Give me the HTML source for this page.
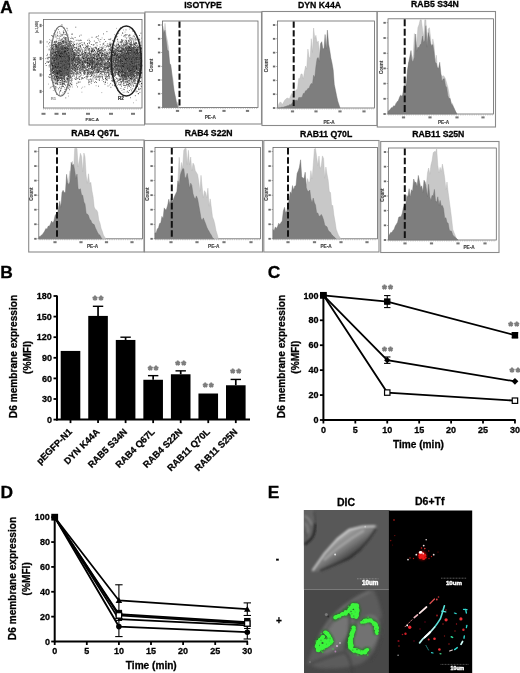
<!DOCTYPE html>
<html><head><meta charset="utf-8"><title>Figure</title>
<style>html,body{margin:0;padding:0;background:#fff;}body{width:520px;height:673px;overflow:hidden;font-family:"Liberation Sans",sans-serif;}svg{display:block;will-change:transform;}</style>
</head><body>
<svg width="520" height="673" viewBox="0 0 520 673" font-family="Liberation Sans, sans-serif">
<rect width="520" height="673" fill="#fff"/>
<defs>
<filter id="b1" x="-20%" y="-20%" width="140%" height="140%"><feGaussianBlur stdDeviation="0.7"/></filter>
<filter id="b2" x="-20%" y="-20%" width="140%" height="140%"><feGaussianBlur stdDeviation="1.5"/></filter>
<filter id="b3" x="-20%" y="-20%" width="140%" height="140%"><feGaussianBlur stdDeviation="3"/></filter>
<filter id="b05" x="-20%" y="-20%" width="140%" height="140%"><feGaussianBlur stdDeviation="0.4"/></filter>
</defs>
<text x="0.2" y="12.7" font-size="17.2" font-weight="bold" text-anchor="start" fill="#000"  stroke="#000" stroke-width="0.28">A</text>
<rect x="29" y="13" width="115.5" height="112" fill="#fff" stroke="#8a8a8a" stroke-width="1"/>
<rect x="43.5" y="19.5" width="98.5" height="88.5" fill="#fff" stroke="#666" stroke-width="0.8"/>
<path d="M56.0 78.2h.8M55.8 62.1h.8M133.0 56.5h.8M124.5 54.4h.8M132.3 56.9h.8M69.2 67.1h.8M55.7 83.2h.8M87.4 40.3h.8M130.8 40.8h.8M138.0 69.9h.8M55.7 70.6h.8M96.1 48.7h.8M134.0 76.2h.8M61.1 49.0h.8M107.5 67.4h.8M52.0 54.1h.8M137.7 61.4h.8M137.3 56.7h.8M77.3 67.2h.8M52.4 48.5h.8M58.2 64.8h.8M123.8 61.4h.8M138.3 63.9h.8M64.8 69.7h.8M133.5 56.5h.8M135.4 68.6h.8M76.3 58.1h.8M61.6 56.8h.8M139.5 77.0h.8M54.5 60.6h.8M134.9 44.2h.8M63.6 66.1h.8M127.8 64.7h.8M82.8 69.0h.8M133.1 66.3h.8M135.3 58.8h.8M113.3 52.3h.8M139.6 51.3h.8M122.1 54.4h.8M54.2 61.0h.8M54.0 61.0h.8M64.5 57.1h.8M61.9 35.1h.8M116.0 54.9h.8M123.9 71.2h.8M63.6 60.4h.8M61.4 61.2h.8M74.3 52.8h.8M56.6 63.5h.8M123.3 80.1h.8M100.7 55.7h.8M131.1 70.9h.8M125.6 47.3h.8M66.1 66.8h.8M111.5 55.2h.8M121.0 67.9h.8M136.9 53.0h.8M130.8 44.7h.8M111.2 55.0h.8M69.2 74.9h.8M62.9 53.3h.8M104.4 49.5h.8M125.2 72.7h.8M82.1 64.0h.8M118.1 70.0h.8M59.1 66.5h.8M68.4 61.5h.8M112.5 56.2h.8M116.1 78.1h.8M110.2 50.8h.8M62.3 58.9h.8M90.4 61.1h.8M69.3 56.7h.8M134.6 66.4h.8M129.4 50.3h.8M65.2 65.6h.8M126.1 50.0h.8M77.7 47.1h.8M64.1 76.8h.8M121.9 48.4h.8M60.6 67.1h.8M65.5 56.3h.8M63.9 68.6h.8M63.8 52.5h.8M69.9 66.5h.8M134.3 76.2h.8M70.4 67.9h.8M92.4 68.3h.8M126.4 69.1h.8M54.9 49.5h.8M48.8 66.9h.8M135.5 59.9h.8M114.8 46.4h.8M131.2 58.6h.8M121.7 40.1h.8M114.7 66.8h.8M135.7 77.3h.8M129.6 46.5h.8M90.9 72.9h.8M64.4 57.0h.8M71.9 59.7h.8M57.5 50.0h.8M65.8 60.3h.8M64.0 91.6h.8M57.8 64.9h.8M129.3 54.7h.8M60.5 54.5h.8M116.9 69.8h.8M135.8 58.8h.8M69.3 72.4h.8M108.2 75.6h.8M139.2 70.4h.8M132.4 71.1h.8M99.3 50.5h.8M140.3 78.1h.8M120.1 63.5h.8M98.8 60.3h.8M64.7 80.9h.8M121.5 63.8h.8M61.8 52.5h.8M58.5 64.8h.8M131.5 52.2h.8M132.5 62.9h.8M134.5 66.2h.8M65.5 50.5h.8M140.3 52.9h.8M56.3 56.5h.8M52.8 51.6h.8M124.7 56.9h.8M83.8 42.7h.8M59.2 46.0h.8M138.4 88.1h.8M123.4 61.8h.8M57.2 66.1h.8M107.4 61.9h.8M56.3 60.7h.8M127.9 76.7h.8M70.7 68.5h.8M66.9 41.0h.8M98.7 58.4h.8M75.5 64.3h.8M72.4 48.3h.8M78.5 78.6h.8M128.8 43.8h.8M121.1 60.2h.8M54.9 83.4h.8M131.4 66.8h.8M97.8 61.9h.8M125.7 72.0h.8M84.0 71.0h.8M126.0 56.0h.8M76.7 43.3h.8M98.1 50.1h.8M132.7 74.0h.8M137.0 50.2h.8M121.4 62.6h.8M129.6 57.2h.8M126.9 58.5h.8M126.3 62.4h.8M58.9 70.2h.8M76.1 55.6h.8M104.5 63.3h.8M62.7 65.6h.8M89.7 60.8h.8M56.0 66.3h.8M68.1 56.4h.8M75.9 74.4h.8M61.1 54.6h.8M106.4 79.5h.8M132.8 70.5h.8M55.0 52.9h.8M60.9 69.1h.8M59.1 75.1h.8M125.8 63.9h.8M125.4 67.4h.8M126.6 53.6h.8M55.4 67.3h.8M69.6 55.7h.8M85.9 50.9h.8M94.6 62.6h.8M138.2 53.1h.8M139.7 45.1h.8M59.8 53.7h.8M93.5 44.5h.8M125.3 45.2h.8M56.9 63.0h.8M130.5 50.4h.8M126.1 61.4h.8M116.9 54.2h.8M85.1 70.1h.8M65.7 68.6h.8M56.0 70.2h.8M58.3 62.9h.8M96.9 58.9h.8M63.7 49.6h.8M70.5 38.5h.8M121.7 49.0h.8M60.0 69.9h.8M116.2 59.7h.8M133.8 63.4h.8M71.0 59.7h.8M135.6 62.8h.8M65.5 61.0h.8M137.1 64.4h.8M136.7 50.6h.8M124.8 65.5h.8M63.1 32.7h.8M87.7 62.3h.8M54.4 58.1h.8M61.6 78.5h.8M126.7 49.3h.8M127.5 61.4h.8M73.5 54.8h.8M131.0 72.5h.8M55.5 54.0h.8M64.8 66.2h.8M136.2 53.5h.8M128.1 54.3h.8M59.4 62.5h.8M89.4 51.5h.8M62.5 64.6h.8M136.2 42.9h.8M132.5 57.0h.8M88.4 63.5h.8M134.2 59.3h.8M78.8 43.4h.8M71.9 68.5h.8M127.3 70.2h.8M62.0 69.8h.8M132.4 71.1h.8M124.1 85.4h.8M125.9 54.0h.8M138.0 73.2h.8M81.3 69.6h.8M133.9 69.3h.8M125.9 70.9h.8M89.8 62.6h.8M55.7 69.6h.8M127.0 53.3h.8M128.3 64.2h.8M120.8 63.3h.8M61.7 64.5h.8M139.2 69.6h.8M140.9 53.5h.8M51.9 65.9h.8M64.1 79.7h.8M117.9 60.7h.8M122.8 66.0h.8M58.5 72.0h.8M113.6 55.9h.8M130.3 44.1h.8M70.0 53.9h.8M136.7 60.0h.8M57.6 74.5h.8M95.1 64.9h.8M130.7 59.5h.8M127.8 55.8h.8M55.3 56.3h.8M66.3 89.4h.8M53.5 49.6h.8M79.0 65.3h.8M103.2 44.1h.8M129.3 75.8h.8M81.6 65.9h.8M71.7 58.4h.8M127.7 68.3h.8M61.5 73.0h.8M128.4 53.7h.8M132.3 76.5h.8M85.7 46.8h.8M97.0 58.0h.8M130.6 61.9h.8M60.8 48.2h.8M127.6 52.3h.8M119.2 75.6h.8M94.4 69.6h.8M137.0 53.0h.8M82.3 68.6h.8M56.5 56.1h.8M60.5 44.7h.8M124.9 64.0h.8M79.3 45.1h.8M138.4 67.3h.8M68.3 61.6h.8M77.6 64.4h.8M58.8 47.9h.8M71.2 63.4h.8M124.8 59.5h.8M52.4 64.1h.8M129.9 71.9h.8M113.5 48.3h.8M132.2 63.7h.8M74.3 57.6h.8M57.7 73.5h.8M78.8 53.6h.8M117.9 62.9h.8M65.2 61.4h.8M107.1 53.8h.8M54.8 60.3h.8M132.7 66.0h.8M69.0 89.7h.8M103.9 53.9h.8M57.3 73.3h.8M128.8 65.1h.8M128.2 48.5h.8M56.7 56.8h.8M126.4 48.0h.8M121.4 60.0h.8M67.5 59.1h.8M60.9 55.2h.8M106.9 43.9h.8M58.7 54.7h.8M130.7 57.7h.8M136.3 72.5h.8M72.2 58.9h.8M78.8 74.2h.8M120.2 81.0h.8M65.5 46.8h.8M86.2 57.4h.8M56.9 66.8h.8M134.7 54.4h.8M134.5 57.3h.8M93.9 54.6h.8M83.4 58.5h.8M96.5 57.9h.8M123.8 68.5h.8M59.9 70.3h.8M69.7 70.1h.8M131.5 60.3h.8M102.1 60.4h.8M129.9 58.6h.8M71.6 59.4h.8M60.0 44.0h.8M120.3 50.8h.8M56.0 52.2h.8M129.5 67.4h.8M66.2 54.0h.8M138.0 62.1h.8M73.5 55.0h.8M65.4 51.3h.8M118.9 60.3h.8M130.3 59.5h.8M131.4 64.0h.8M90.7 50.7h.8M109.3 65.2h.8M133.6 61.5h.8M127.8 52.1h.8M74.7 47.5h.8M54.8 51.1h.8M128.2 67.6h.8M122.8 52.0h.8M128.0 65.7h.8M131.5 76.3h.8M113.3 66.9h.8M106.9 76.5h.8M66.1 53.4h.8M105.2 54.6h.8M63.6 61.2h.8M72.3 68.4h.8M115.3 54.6h.8M121.7 72.4h.8M135.8 48.3h.8M74.8 49.6h.8M134.6 60.2h.8M96.3 76.8h.8M57.1 47.4h.8M131.5 61.5h.8M114.7 63.1h.8M49.8 61.3h.8M75.0 62.8h.8M57.8 72.8h.8M128.8 53.7h.8M127.7 51.0h.8M122.4 58.6h.8M98.2 54.4h.8M84.2 61.8h.8M56.6 58.9h.8M65.4 49.5h.8M89.8 55.8h.8M103.2 79.4h.8M102.3 55.2h.8M132.1 70.2h.8M139.1 64.3h.8M128.8 57.5h.8M80.6 60.3h.8M112.4 64.0h.8M56.0 64.1h.8M61.0 63.8h.8M122.3 81.6h.8M108.2 75.2h.8M128.6 83.6h.8M58.8 59.7h.8M72.0 49.2h.8M133.1 74.6h.8M133.3 59.2h.8M131.6 74.5h.8M52.7 82.2h.8M74.8 73.6h.8M112.6 71.2h.8M58.3 59.8h.8M82.0 66.3h.8M121.6 58.0h.8M81.8 71.5h.8M61.0 78.0h.8M75.4 62.5h.8M74.7 53.4h.8M78.6 50.3h.8M104.9 66.8h.8M139.6 64.0h.8M61.2 71.7h.8M126.8 76.2h.8M115.9 58.0h.8M62.4 45.2h.8M50.5 54.8h.8M67.2 47.2h.8M59.9 84.0h.8M80.4 75.4h.8M90.2 61.2h.8M137.3 58.8h.8M128.2 65.4h.8M130.1 52.8h.8M127.0 53.9h.8M122.3 52.5h.8M130.5 62.4h.8M59.4 42.9h.8M130.6 76.5h.8M57.2 50.6h.8M130.9 55.7h.8M73.1 75.0h.8M133.6 60.7h.8M111.9 54.7h.8M63.7 51.2h.8M56.1 79.1h.8M61.9 61.5h.8M62.3 62.3h.8M135.4 57.1h.8M126.7 44.3h.8M65.8 42.3h.8M123.0 45.0h.8M139.0 73.9h.8M86.9 66.8h.8M61.9 70.4h.8M83.5 55.8h.8M87.5 61.6h.8M127.5 54.6h.8M95.1 64.7h.8M84.7 61.6h.8M133.3 80.6h.8M76.3 62.2h.8M54.8 67.5h.8M60.2 47.7h.8M126.0 59.5h.8M93.3 54.5h.8M129.0 61.5h.8M82.4 56.1h.8M64.2 52.8h.8M58.1 70.7h.8M122.3 70.9h.8M131.1 46.8h.8M124.3 65.2h.8M87.4 76.3h.8M63.4 62.4h.8M130.8 42.4h.8M125.1 58.5h.8M109.5 51.2h.8M136.5 49.6h.8M133.8 52.6h.8M63.5 51.2h.8M74.7 64.2h.8M87.4 54.9h.8M135.0 73.0h.8M50.5 58.8h.8M133.4 63.5h.8M123.7 50.8h.8M92.2 69.5h.8M104.8 57.8h.8M57.1 59.7h.8M79.7 68.4h.8M124.9 74.0h.8M114.6 54.5h.8M115.5 59.8h.8M131.6 54.2h.8M65.9 57.4h.8M61.8 47.9h.8M57.4 76.5h.8M124.4 72.5h.8M65.9 57.1h.8M130.3 53.5h.8M107.3 53.2h.8M131.6 84.1h.8M88.7 84.6h.8M87.3 72.4h.8M99.6 63.7h.8M57.2 73.6h.8M107.9 69.6h.8M61.1 71.1h.8M63.0 73.3h.8M69.1 70.3h.8M67.2 48.3h.8M132.9 85.4h.8M66.5 55.7h.8M125.5 77.2h.8M132.6 44.9h.8M129.3 52.4h.8M56.9 59.6h.8M50.5 87.3h.8M78.5 82.3h.8M57.2 80.0h.8M129.7 58.6h.8M134.2 54.3h.8M58.3 47.6h.8M108.8 44.0h.8M63.6 56.4h.8M64.1 51.7h.8M120.5 61.5h.8M113.4 60.4h.8M79.2 57.0h.8M126.7 63.5h.8M139.8 70.9h.8M108.9 62.4h.8M141.5 65.8h.8M57.3 55.0h.8M124.5 54.5h.8M106.7 72.5h.8M115.5 70.3h.8M128.5 54.4h.8M58.7 61.6h.8M138.1 89.6h.8M63.5 81.4h.8M57.8 71.4h.8M59.4 69.7h.8M61.5 34.4h.8M127.5 63.4h.8M77.4 64.5h.8M60.8 57.4h.8M121.5 68.2h.8M64.8 50.4h.8M122.0 64.1h.8M130.6 62.8h.8M61.7 62.8h.8M58.4 63.9h.8M96.0 82.5h.8M113.1 51.3h.8M110.0 44.6h.8M72.1 57.1h.8M128.0 61.1h.8M124.5 57.6h.8M61.2 47.2h.8M131.3 48.9h.8M117.0 54.4h.8M65.0 58.8h.8M106.5 68.1h.8M109.3 59.1h.8M70.0 62.2h.8M65.0 62.5h.8M63.0 78.0h.8M128.7 61.5h.8M76.6 57.5h.8M125.1 60.2h.8M105.9 75.7h.8M102.6 66.2h.8M140.5 65.4h.8M110.5 72.2h.8M121.1 53.5h.8M86.8 62.6h.8M137.8 54.5h.8M89.2 60.2h.8M127.6 82.5h.8M68.2 61.4h.8M131.0 50.5h.8M87.7 73.1h.8M67.0 66.8h.8M140.7 57.9h.8M120.7 75.8h.8M64.5 57.0h.8M55.9 77.5h.8M75.5 66.5h.8M70.5 52.9h.8M57.1 56.0h.8M60.6 71.9h.8M133.3 79.3h.8M55.6 57.7h.8M88.1 50.1h.8M61.6 71.2h.8M61.7 61.3h.8M99.3 74.2h.8M54.3 66.9h.8M94.4 61.1h.8M124.1 70.1h.8M57.7 48.3h.8M101.0 56.3h.8M86.9 60.2h.8M124.1 63.5h.8M105.3 64.1h.8M94.1 67.4h.8M120.2 62.0h.8M69.1 49.1h.8M56.9 67.6h.8M70.8 61.3h.8M135.7 55.9h.8M70.6 78.5h.8M61.5 53.2h.8M104.3 65.0h.8M122.6 67.0h.8M129.4 56.7h.8M69.0 41.7h.8M133.8 59.3h.8M96.5 73.1h.8M128.4 36.2h.8M73.3 56.4h.8M128.5 64.2h.8M67.9 64.5h.8M66.7 65.0h.8M52.5 56.7h.8M129.0 46.7h.8M58.9 74.0h.8M130.6 71.9h.8M123.0 48.9h.8M59.3 68.9h.8M135.7 53.9h.8M121.9 71.8h.8M58.9 82.8h.8M63.1 56.5h.8M55.5 72.9h.8M63.6 55.4h.8M52.4 81.8h.8M115.7 69.1h.8M84.2 67.6h.8M69.5 56.2h.8M139.6 70.2h.8M133.1 54.4h.8M116.1 65.9h.8M137.1 66.7h.8M123.6 64.3h.8M68.3 60.8h.8M66.2 65.1h.8M121.6 40.4h.8M126.6 54.1h.8M60.4 70.9h.8M78.7 59.3h.8M65.9 66.0h.8M89.1 52.8h.8M135.5 65.0h.8M123.2 65.8h.8M136.3 58.3h.8M114.3 65.0h.8M131.6 49.9h.8M66.1 62.4h.8M64.4 70.7h.8M56.4 81.3h.8M79.0 63.1h.8M63.6 60.3h.8M47.1 54.3h.8M53.1 58.7h.8M134.1 83.5h.8M133.0 48.3h.8M65.6 39.0h.8M140.6 62.3h.8M117.4 66.1h.8M72.1 73.7h.8M77.8 59.4h.8M121.2 86.2h.8M111.2 61.7h.8M125.7 68.9h.8M60.1 54.1h.8M131.8 71.3h.8M119.6 64.7h.8M76.7 60.0h.8M120.0 47.1h.8M134.2 48.0h.8M56.2 75.3h.8M81.8 54.6h.8M91.3 59.2h.8M127.9 40.4h.8M89.3 54.2h.8M59.8 61.1h.8M129.2 71.3h.8M61.1 75.1h.8M61.5 63.8h.8M112.5 44.0h.8M133.3 57.4h.8M48.8 49.1h.8M134.2 76.3h.8M92.6 64.6h.8M72.7 61.1h.8M65.4 56.8h.8M70.4 51.2h.8M62.5 67.1h.8M81.8 52.2h.8M123.3 55.0h.8M128.1 65.3h.8M75.2 58.8h.8M75.1 70.0h.8M113.8 58.7h.8M68.1 69.4h.8M64.5 57.7h.8M60.0 50.6h.8M90.8 47.9h.8M54.0 74.5h.8M129.4 66.7h.8M70.7 63.8h.8M131.8 58.9h.8M66.7 70.0h.8M68.2 52.5h.8M58.2 52.7h.8M70.3 51.0h.8M110.5 45.7h.8M77.9 62.4h.8M50.6 53.1h.8M115.2 75.3h.8M91.7 57.3h.8M59.0 64.3h.8M118.3 66.8h.8M56.6 57.8h.8M75.1 68.3h.8M58.5 65.9h.8M122.6 69.9h.8M56.3 76.2h.8M66.0 59.5h.8M68.1 64.0h.8M130.2 62.8h.8M121.5 50.8h.8M116.2 59.1h.8M69.0 67.6h.8M113.3 68.6h.8M124.2 74.9h.8M88.0 68.9h.8M91.4 59.2h.8M56.5 55.0h.8M63.0 46.3h.8M63.5 67.5h.8M64.5 58.3h.8M61.1 66.6h.8M125.6 29.9h.8M112.7 41.2h.8M128.9 68.7h.8M71.5 58.2h.8M100.6 59.6h.8M122.0 66.0h.8M56.4 56.9h.8M60.2 71.8h.8M137.1 52.1h.8M121.4 75.6h.8M67.2 72.1h.8M100.1 63.4h.8M108.5 76.4h.8M62.9 49.0h.8M122.2 56.1h.8M108.7 71.1h.8M122.9 56.6h.8M74.7 61.5h.8M57.2 78.7h.8M79.6 65.6h.8M52.5 69.2h.8M127.7 68.9h.8M65.4 67.6h.8M64.2 73.7h.8M62.8 54.8h.8M71.7 62.6h.8M139.3 62.3h.8M126.1 49.6h.8M136.5 68.9h.8M123.2 66.8h.8M116.6 65.5h.8M65.2 39.5h.8M135.1 70.5h.8M69.9 53.8h.8M124.8 69.3h.8M56.6 54.8h.8M91.8 51.4h.8M55.7 46.0h.8M123.4 56.0h.8M66.9 63.4h.8M78.1 63.7h.8M55.9 44.5h.8M66.2 35.0h.8M137.8 62.4h.8M129.4 54.7h.8M56.5 48.9h.8M68.1 60.0h.8M66.9 60.8h.8M97.9 60.3h.8M93.9 58.5h.8M75.7 54.9h.8M87.8 45.7h.8M128.7 75.3h.8M65.7 47.5h.8M69.1 48.1h.8M134.0 71.0h.8M76.9 64.2h.8M132.8 58.6h.8M63.4 59.4h.8M137.7 55.9h.8M122.7 48.6h.8M109.1 49.5h.8M65.1 56.4h.8M69.1 49.0h.8M128.7 71.6h.8M116.9 39.6h.8M100.2 73.3h.8M54.0 52.2h.8M67.5 53.6h.8M134.4 63.5h.8M121.9 52.3h.8M129.0 57.8h.8M109.1 58.2h.8M125.9 49.4h.8M129.7 66.8h.8M59.9 52.4h.8M57.3 58.4h.8M136.5 50.0h.8M62.6 60.8h.8M116.6 68.9h.8M131.5 61.0h.8M126.6 55.4h.8M59.6 73.4h.8M99.0 80.4h.8M121.1 73.2h.8M59.2 60.0h.8M90.6 72.5h.8M135.2 53.5h.8M95.8 60.2h.8M107.4 68.1h.8M125.3 65.9h.8M51.6 63.1h.8M122.6 46.5h.8M64.3 82.2h.8M65.2 62.0h.8M56.2 49.6h.8M66.9 46.3h.8M137.9 93.5h.8M60.0 57.1h.8M80.9 59.6h.8M53.0 78.9h.8M106.1 46.8h.8M63.1 42.7h.8M65.0 56.0h.8M50.9 62.5h.8M131.1 53.0h.8M65.3 55.8h.8M53.8 54.0h.8M132.2 62.5h.8M122.4 54.9h.8M135.7 64.1h.8M109.9 65.9h.8M127.4 67.1h.8M57.2 66.8h.8M70.8 49.0h.8M67.7 80.0h.8M123.8 67.3h.8M61.9 64.2h.8M50.3 64.4h.8M126.9 72.3h.8M87.2 64.8h.8M120.3 60.5h.8M104.2 64.6h.8M134.0 63.9h.8M59.1 70.0h.8M79.4 48.8h.8M125.9 72.7h.8M63.7 59.8h.8M63.4 56.4h.8M114.3 41.7h.8M129.0 86.2h.8M65.9 65.6h.8M74.7 37.5h.8M135.6 50.4h.8M133.8 59.7h.8M120.8 61.6h.8M103.3 59.0h.8M106.7 53.4h.8M137.6 59.2h.8M129.7 59.6h.8M101.5 69.4h.8M126.7 67.5h.8M54.8 72.6h.8M59.6 48.2h.8M78.9 59.8h.8M88.1 57.9h.8M67.9 58.6h.8M129.2 69.2h.8M64.2 50.3h.8M78.1 56.1h.8M118.7 56.8h.8M133.1 62.6h.8M55.1 47.9h.8M136.4 78.2h.8M55.7 79.0h.8M87.9 73.1h.8M62.1 72.7h.8M137.2 86.5h.8M130.4 60.2h.8M48.3 43.8h.8M65.7 61.3h.8M139.2 57.2h.8M125.6 81.8h.8M120.6 82.7h.8M127.5 64.5h.8M54.7 59.4h.8M125.0 55.8h.8M123.0 61.8h.8M49.6 65.1h.8M91.7 63.5h.8M136.3 60.5h.8M93.0 70.8h.8M126.2 61.5h.8M62.5 65.2h.8M76.7 68.4h.8M63.8 64.1h.8M98.5 55.7h.8M130.7 74.3h.8M130.1 74.7h.8M127.2 73.2h.8M127.0 67.2h.8M136.0 65.7h.8M92.1 66.3h.8M128.4 41.6h.8M135.1 66.0h.8M68.7 76.9h.8M65.1 65.5h.8M76.5 73.3h.8M72.5 60.6h.8M64.9 61.0h.8M54.5 63.8h.8M110.9 64.2h.8M137.0 86.0h.8M62.1 67.2h.8M108.5 65.6h.8M130.4 42.5h.8M126.7 60.6h.8M58.3 50.9h.8M58.5 61.5h.8M126.4 54.1h.8M87.2 59.8h.8M102.7 59.7h.8M130.8 76.8h.8M65.3 60.8h.8M61.8 63.8h.8M128.5 62.7h.8M103.9 67.6h.8M109.4 63.7h.8M89.3 53.8h.8M131.5 68.7h.8M57.8 54.1h.8M135.4 61.7h.8M130.5 46.3h.8M130.8 57.3h.8M112.2 80.9h.8M119.9 62.8h.8M53.5 68.8h.8M130.3 47.1h.8M57.9 45.0h.8M67.8 52.6h.8M97.5 64.6h.8M52.6 67.0h.8M63.1 60.4h.8M121.7 62.6h.8M118.7 67.9h.8M55.5 74.1h.8M113.5 55.2h.8M96.4 60.7h.8M104.8 63.4h.8M65.5 81.8h.8M61.2 43.6h.8M61.3 68.9h.8M139.4 52.7h.8M125.8 54.2h.8M125.7 56.3h.8M66.4 51.5h.8M134.5 60.7h.8M77.6 40.2h.8M64.2 64.6h.8M97.0 69.0h.8M53.4 60.1h.8M53.4 66.3h.8M58.9 63.0h.8M134.8 66.7h.8M69.2 63.6h.8M89.2 64.7h.8M57.3 57.3h.8M130.3 60.2h.8M61.6 75.3h.8M74.2 47.6h.8M125.0 51.2h.8M125.9 43.5h.8M135.9 62.4h.8M129.4 77.1h.8M61.5 56.3h.8M105.2 82.5h.8M64.5 52.0h.8M69.6 59.7h.8M135.4 73.6h.8M110.6 54.4h.8M57.7 53.6h.8M58.9 78.5h.8M71.8 51.8h.8M76.4 54.3h.8M58.9 68.5h.8M113.9 66.4h.8M130.4 37.7h.8M83.4 66.5h.8M127.2 60.2h.8M65.4 52.2h.8M127.0 73.1h.8M62.1 67.9h.8M113.3 58.9h.8M90.8 62.3h.8M92.0 64.7h.8M90.8 81.5h.8M54.8 71.7h.8M131.6 61.5h.8M54.2 69.9h.8M130.2 48.7h.8M128.2 70.6h.8M64.9 57.4h.8M131.7 63.3h.8M128.2 67.2h.8M58.4 55.8h.8M53.4 71.3h.8M56.2 45.5h.8M57.2 80.5h.8M105.8 67.3h.8M92.7 81.0h.8M63.8 73.8h.8M118.3 33.3h.8M109.8 58.8h.8M122.2 59.8h.8M89.8 70.2h.8M114.5 72.6h.8M57.8 77.9h.8M139.2 71.1h.8M120.8 66.9h.8M117.0 59.6h.8M132.5 55.8h.8M111.0 48.0h.8M60.9 61.7h.8M121.6 64.4h.8M121.6 74.5h.8M72.0 65.3h.8M52.6 72.6h.8M57.3 66.7h.8M59.3 68.7h.8M86.1 62.3h.8M105.8 55.4h.8M77.4 51.3h.8M90.9 61.4h.8M120.2 56.0h.8M66.7 67.7h.8M101.0 55.1h.8M121.8 65.7h.8M119.0 51.3h.8M89.1 58.9h.8M135.4 58.5h.8M81.4 62.1h.8M122.1 66.1h.8M118.0 59.8h.8M49.2 74.5h.8M122.2 70.9h.8M140.6 49.2h.8M132.1 64.1h.8M135.3 54.1h.8M140.4 48.1h.8M60.3 60.7h.8M109.5 58.8h.8M64.5 48.0h.8M56.8 64.4h.8M62.2 53.6h.8M123.9 89.6h.8M125.7 77.5h.8M54.1 44.3h.8M51.4 64.4h.8M126.6 81.6h.8M75.9 44.2h.8M122.6 55.8h.8M76.2 48.4h.8M127.3 78.1h.8M103.8 68.8h.8M100.7 64.3h.8M120.9 54.8h.8M71.5 56.2h.8M110.9 66.5h.8M109.7 69.1h.8M136.8 54.5h.8M67.7 72.0h.8M93.7 63.1h.8M83.1 47.4h.8M133.2 53.6h.8M54.5 79.3h.8M86.2 64.1h.8M61.0 59.5h.8M115.3 55.2h.8M60.4 90.7h.8M134.1 61.9h.8M93.6 63.6h.8M61.3 60.9h.8M134.2 58.3h.8M78.2 48.7h.8M58.0 65.6h.8M128.6 64.3h.8M118.8 69.1h.8M62.0 69.3h.8M55.2 42.7h.8M82.2 64.5h.8M62.9 72.4h.8M87.4 74.0h.8M81.6 60.2h.8M126.8 58.8h.8M70.4 51.2h.8M120.3 54.9h.8M139.2 57.6h.8M87.3 56.8h.8M116.4 55.9h.8M51.5 46.8h.8M130.4 74.8h.8M78.0 59.3h.8M51.8 65.0h.8M132.7 81.3h.8M69.2 60.2h.8M51.0 53.3h.8M125.5 79.5h.8M109.7 64.2h.8M134.5 55.2h.8M118.5 58.1h.8M75.9 65.5h.8M122.6 71.9h.8M48.2 61.9h.8M57.5 79.8h.8M123.3 61.3h.8M84.6 72.1h.8M117.0 57.3h.8M66.1 44.6h.8M134.9 77.9h.8M63.0 41.6h.8M131.1 67.2h.8M71.0 50.9h.8M93.0 62.9h.8M131.7 60.4h.8M104.3 72.7h.8M136.7 80.8h.8M134.0 68.4h.8M134.0 66.8h.8M139.4 68.9h.8M81.3 54.1h.8M61.9 46.9h.8M55.1 88.8h.8M59.0 65.9h.8M83.0 62.7h.8M62.5 59.3h.8M105.7 67.8h.8M122.9 72.5h.8M62.0 53.4h.8M127.2 91.8h.8M46.6 55.6h.8M61.1 54.2h.8M71.3 73.2h.8M66.7 61.7h.8M121.8 66.7h.8M68.1 78.7h.8M97.3 53.5h.8M127.7 58.1h.8M140.0 62.7h.8M80.8 61.4h.8M126.1 70.6h.8M122.0 53.2h.8M66.4 69.7h.8M137.2 45.4h.8M85.3 52.7h.8M69.9 58.4h.8M118.0 70.1h.8M101.2 55.6h.8M64.5 59.3h.8M125.4 60.8h.8M131.5 68.0h.8M123.0 54.8h.8M84.4 48.2h.8M112.7 48.7h.8M90.9 83.2h.8M107.0 68.3h.8M49.6 64.7h.8M80.2 46.7h.8M124.4 70.1h.8M126.4 55.9h.8M75.8 40.3h.8M61.8 58.5h.8M67.6 61.2h.8M130.7 50.2h.8M105.3 67.6h.8M120.7 51.6h.8M62.9 58.1h.8M116.4 65.9h.8M127.5 66.2h.8M66.5 82.1h.8M129.0 64.5h.8M139.5 69.0h.8M67.8 45.2h.8M69.3 70.5h.8M107.7 60.4h.8M132.4 77.3h.8M69.2 68.3h.8M136.9 72.2h.8M115.4 56.5h.8M66.1 65.3h.8M56.1 68.1h.8M110.5 52.5h.8M120.5 66.7h.8M118.2 72.8h.8M139.4 65.9h.8M51.3 49.9h.8M100.5 65.2h.8M116.3 58.3h.8M55.8 67.4h.8M98.6 61.7h.8M54.2 86.0h.8M101.3 50.7h.8M139.3 82.7h.8M134.8 58.4h.8M73.3 73.0h.8M56.9 73.0h.8M61.8 64.6h.8M84.0 77.5h.8M63.9 71.6h.8M129.0 55.2h.8M74.7 62.2h.8M131.0 81.4h.8M126.6 58.7h.8M80.2 60.1h.8M57.2 78.8h.8M87.6 63.6h.8M57.1 67.8h.8M103.3 81.5h.8M64.2 57.3h.8M68.9 59.5h.8M84.0 55.1h.8M130.5 68.3h.8M85.2 50.2h.8M61.6 49.1h.8M101.3 64.7h.8M133.6 61.1h.8M73.4 58.3h.8M126.8 58.2h.8M60.4 49.2h.8M72.8 53.3h.8M53.0 68.9h.8M55.7 83.3h.8M67.8 49.3h.8M59.1 64.0h.8M57.8 46.2h.8M62.9 56.0h.8M133.5 51.3h.8M66.6 58.2h.8M137.0 59.7h.8M73.4 52.8h.8M122.8 46.2h.8M96.2 69.7h.8M134.4 78.9h.8M53.8 74.1h.8M95.8 67.9h.8M112.1 68.8h.8M126.4 60.3h.8M131.4 47.4h.8M121.3 58.4h.8M117.2 69.0h.8M83.8 71.0h.8M98.0 72.0h.8M61.2 57.1h.8M139.2 58.7h.8M61.9 69.9h.8M69.7 52.0h.8M110.5 87.3h.8M125.0 47.7h.8M56.1 64.2h.8M85.5 55.6h.8M54.9 65.2h.8M57.1 50.7h.8M135.2 55.2h.8M70.6 47.1h.8M55.1 59.2h.8M120.8 68.0h.8M67.4 74.6h.8M68.9 69.9h.8M61.7 52.0h.8M140.3 68.2h.8M139.8 66.4h.8M62.2 69.3h.8M81.9 64.4h.8M121.4 42.1h.8M129.0 64.7h.8M60.7 70.4h.8M104.4 57.1h.8M82.5 61.9h.8M134.7 75.3h.8M128.2 54.6h.8M85.7 62.7h.8M60.8 51.6h.8M119.5 65.0h.8M139.3 39.4h.8M132.4 73.3h.8M112.6 70.3h.8M85.1 62.0h.8M66.0 72.3h.8M121.6 49.4h.8M119.9 41.7h.8M135.2 52.5h.8M60.4 84.5h.8M105.1 78.8h.8M67.8 69.4h.8M63.5 52.6h.8M125.3 73.6h.8M60.5 69.3h.8M124.5 66.5h.8M57.2 83.0h.8M57.8 50.8h.8M138.8 57.2h.8M139.5 71.8h.8M70.9 58.3h.8M109.7 64.6h.8M116.2 36.6h.8M101.2 66.4h.8M64.6 68.6h.8M95.7 79.5h.8M132.6 53.5h.8M60.0 63.1h.8M124.4 76.5h.8M60.6 65.7h.8M61.5 74.6h.8M58.1 68.2h.8M126.0 57.7h.8M65.1 59.0h.8M94.9 66.2h.8M72.4 64.0h.8M135.0 62.0h.8M113.1 75.0h.8M67.9 61.0h.8M69.2 45.5h.8M83.1 72.3h.8M139.3 52.5h.8M136.6 44.0h.8M133.3 41.2h.8M74.0 65.1h.8M48.9 57.3h.8M116.4 82.1h.8M122.5 75.2h.8M141.0 48.4h.8M74.0 52.4h.8M64.5 65.9h.8M139.2 81.3h.8M116.8 57.7h.8M106.6 52.1h.8M57.4 78.2h.8M63.8 45.0h.8M130.3 58.6h.8M52.9 65.7h.8M63.7 51.8h.8M63.7 76.7h.8M61.1 61.0h.8M72.5 45.0h.8M121.7 59.9h.8M86.7 62.9h.8M69.7 59.7h.8M122.6 69.7h.8M51.5 58.0h.8M124.4 53.7h.8M112.2 67.8h.8M57.3 74.4h.8M73.4 43.3h.8M57.1 71.8h.8M139.0 70.4h.8M116.2 69.2h.8M63.1 65.6h.8M59.1 51.5h.8M64.8 62.3h.8M101.6 62.5h.8M67.6 60.6h.8M116.5 45.2h.8M131.5 61.1h.8M90.2 76.5h.8M76.8 69.6h.8M129.4 34.7h.8M66.4 69.9h.8M75.9 66.7h.8M122.5 76.7h.8M138.5 64.6h.8M139.0 55.6h.8M64.7 67.0h.8M60.6 88.8h.8M62.9 65.9h.8M96.4 64.5h.8M135.8 63.1h.8M115.3 60.9h.8M136.0 67.9h.8M59.0 61.8h.8M95.8 70.4h.8M60.8 62.1h.8M70.3 77.2h.8M76.9 71.8h.8M77.8 52.3h.8M140.3 81.5h.8M125.1 69.4h.8M57.8 73.3h.8M57.6 77.6h.8M122.9 89.2h.8M54.6 59.7h.8M51.1 61.6h.8M136.1 66.1h.8M66.8 63.2h.8M127.8 58.8h.8M128.2 75.9h.8M87.0 66.8h.8M50.2 63.1h.8M77.1 69.8h.8M65.5 54.3h.8M92.3 63.1h.8M65.5 42.6h.8M134.3 55.8h.8M61.7 79.6h.8M140.0 68.4h.8M125.4 73.3h.8M125.4 56.6h.8M55.1 74.0h.8M113.3 51.1h.8M62.5 57.1h.8M121.8 61.1h.8M129.7 64.3h.8M132.6 48.4h.8M131.9 62.6h.8M63.0 40.5h.8M115.5 60.8h.8M96.1 56.4h.8M108.2 67.7h.8M121.2 74.7h.8M56.4 76.4h.8M56.5 59.5h.8M134.2 60.2h.8M109.8 49.6h.8M115.2 60.1h.8M100.6 66.5h.8M109.4 64.3h.8M74.5 58.1h.8M112.8 47.5h.8M58.4 77.3h.8M60.7 52.5h.8M81.9 63.9h.8M120.5 58.7h.8M131.0 43.7h.8M75.2 60.1h.8M88.9 65.7h.8M133.9 51.9h.8M73.8 58.2h.8M57.7 44.5h.8M130.1 78.7h.8M134.1 68.8h.8M51.1 55.6h.8M52.2 65.6h.8M125.8 78.9h.8M99.3 64.7h.8M129.5 70.6h.8M57.4 50.3h.8M130.7 48.9h.8M122.7 80.1h.8M128.0 61.9h.8M97.6 62.7h.8M132.8 81.0h.8M86.3 56.7h.8M126.8 59.5h.8M72.1 47.8h.8M58.6 52.3h.8M90.7 56.8h.8M106.7 70.3h.8M45.8 65.5h.8M130.9 51.7h.8M122.0 52.0h.8M136.2 74.9h.8M58.7 54.1h.8M115.2 64.3h.8M65.7 63.4h.8M87.3 74.6h.8M134.0 54.7h.8M129.3 54.8h.8M118.5 68.3h.8M129.1 62.4h.8M125.7 47.9h.8M133.5 61.8h.8M130.5 63.0h.8M71.2 61.9h.8M70.4 45.6h.8M68.2 76.2h.8M82.9 60.5h.8M71.9 55.9h.8M55.3 60.9h.8M62.3 57.6h.8M57.2 54.8h.8M130.3 48.2h.8M125.1 34.8h.8M128.6 68.7h.8M116.4 50.7h.8M51.5 70.4h.8M106.5 55.5h.8M141.0 54.2h.8M45.1 63.5h.8M92.7 54.7h.8M64.3 67.1h.8M50.5 71.9h.8M65.2 74.0h.8M136.5 59.6h.8M136.9 50.2h.8M59.5 60.9h.8M51.8 58.1h.8M94.3 82.5h.8M60.6 55.0h.8M61.1 62.5h.8M74.0 57.0h.8M65.6 73.9h.8M61.5 71.0h.8M64.6 81.8h.8M67.3 48.5h.8M128.8 47.9h.8M126.0 46.8h.8M53.5 61.0h.8M91.9 68.9h.8M61.8 62.6h.8M55.2 53.3h.8M102.5 48.3h.8M133.9 56.6h.8M128.5 65.8h.8M133.5 57.5h.8M86.5 55.7h.8M53.1 55.7h.8M71.0 49.8h.8M137.8 65.2h.8M118.8 66.7h.8M61.1 52.1h.8M58.9 55.5h.8M68.5 85.0h.8M133.9 61.6h.8M60.9 58.1h.8M62.4 59.6h.8M58.1 61.2h.8M54.4 61.9h.8M122.3 45.5h.8M91.1 74.4h.8M133.8 56.5h.8M94.0 58.2h.8M137.2 55.3h.8M118.1 44.0h.8M125.2 56.4h.8M125.1 50.0h.8M122.2 56.7h.8M50.8 63.2h.8M129.3 56.9h.8M114.9 53.4h.8M55.6 45.9h.8M79.3 63.3h.8M131.6 49.6h.8M89.3 74.4h.8M130.0 71.7h.8M95.2 72.8h.8M62.3 84.3h.8M140.4 66.8h.8M51.9 52.8h.8M137.2 75.6h.8M78.8 65.3h.8M111.2 62.3h.8M101.0 51.9h.8M60.6 63.5h.8M131.9 79.2h.8M89.0 63.4h.8M125.8 58.7h.8M54.9 51.7h.8M119.4 69.6h.8M60.8 59.7h.8M99.7 58.5h.8M72.2 51.6h.8M76.8 72.7h.8M128.5 59.2h.8M90.0 58.1h.8M100.5 59.0h.8M137.7 52.7h.8M111.8 70.1h.8M118.1 56.7h.8M113.4 68.8h.8M55.3 46.3h.8M58.5 64.5h.8M78.5 72.0h.8M54.5 61.4h.8M48.9 77.5h.8M125.1 76.2h.8M136.1 45.8h.8M124.6 59.6h.8M99.3 57.4h.8M55.0 52.2h.8M65.9 48.6h.8M129.5 61.5h.8M126.5 74.8h.8M132.1 74.2h.8M117.8 58.4h.8M131.5 61.2h.8M120.8 68.2h.8M139.2 57.2h.8M59.0 58.9h.8M64.9 57.9h.8M64.7 40.2h.8M135.1 62.2h.8M139.4 61.4h.8M70.3 77.2h.8M114.8 62.5h.8M58.0 42.5h.8M111.4 72.0h.8M63.6 28.0h.8M63.6 65.8h.8M69.7 44.5h.8M69.1 56.0h.8M54.8 64.8h.8M125.6 56.2h.8M136.1 55.2h.8M131.8 71.2h.8M94.7 67.9h.8M62.7 63.7h.8M136.9 59.8h.8M66.0 47.8h.8M67.1 50.4h.8M140.0 55.1h.8M127.6 65.0h.8M127.6 59.0h.8M74.0 60.5h.8M62.2 70.3h.8M92.8 61.2h.8M58.1 66.3h.8M63.7 72.1h.8M64.7 51.5h.8M105.5 65.1h.8M132.9 57.8h.8M114.1 49.1h.8M56.2 65.5h.8M97.3 62.8h.8M116.5 59.4h.8M109.0 64.0h.8M84.0 67.3h.8M134.1 56.7h.8M121.3 50.3h.8M131.5 63.7h.8M77.8 82.0h.8M125.0 82.0h.8M56.5 60.9h.8M51.8 65.8h.8M97.3 56.0h.8M51.2 78.8h.8M115.9 47.2h.8M129.1 64.1h.8M55.5 69.3h.8M66.8 65.1h.8M118.3 58.6h.8M58.2 54.9h.8M135.1 75.9h.8M129.8 52.7h.8M105.0 78.4h.8M131.5 56.9h.8M67.8 48.0h.8M66.8 53.3h.8M67.0 63.7h.8M129.2 65.8h.8M114.9 74.4h.8M57.4 56.3h.8M56.1 62.0h.8M60.5 66.4h.8M98.4 49.2h.8M116.5 57.2h.8M106.5 76.6h.8M92.4 71.8h.8M53.2 72.2h.8M59.9 66.3h.8M129.5 35.5h.8M126.3 70.6h.8M125.6 67.3h.8M61.8 53.0h.8M53.9 60.3h.8M114.9 49.8h.8M59.6 54.5h.8M94.2 72.8h.8M60.7 73.9h.8M58.6 65.1h.8M130.4 56.0h.8M131.7 59.9h.8M98.8 67.5h.8M128.8 66.2h.8M57.2 70.7h.8M66.9 60.5h.8M116.8 60.5h.8M118.5 51.4h.8M60.8 50.3h.8M62.2 83.5h.8M64.9 58.7h.8M66.0 62.9h.8M108.8 52.9h.8M52.1 68.7h.8M58.9 63.9h.8M133.3 70.3h.8M111.5 71.4h.8M118.5 53.5h.8M67.7 40.2h.8M64.9 73.6h.8M81.4 65.7h.8M125.3 74.2h.8M67.7 57.2h.8M125.1 73.3h.8M91.4 75.8h.8M94.0 50.5h.8M125.8 52.4h.8M62.5 65.8h.8M87.1 77.2h.8M117.9 71.8h.8M66.9 79.1h.8M132.3 54.6h.8M56.3 82.8h.8M55.3 59.5h.8M134.0 72.9h.8M126.9 62.0h.8M59.7 60.6h.8M121.4 66.0h.8M65.8 67.4h.8M137.4 84.8h.8M85.3 53.1h.8M69.2 69.3h.8M65.3 71.0h.8M128.8 66.9h.8M90.2 73.1h.8M63.3 64.5h.8M85.1 68.0h.8M117.4 60.4h.8M47.6 57.6h.8M64.2 81.5h.8M67.1 61.9h.8M115.0 62.7h.8M84.1 62.4h.8M98.4 54.5h.8M100.2 62.2h.8M115.5 55.9h.8M132.9 61.5h.8M61.1 64.6h.8M74.3 57.7h.8M57.1 58.8h.8M71.0 47.7h.8M139.1 59.2h.8M60.8 80.1h.8M111.7 65.2h.8M116.4 78.4h.8M90.9 80.7h.8M59.2 59.2h.8M126.7 50.1h.8M59.3 60.8h.8M76.0 77.2h.8M123.5 53.7h.8M101.4 61.5h.8M102.8 54.4h.8M137.0 69.8h.8M119.9 62.4h.8M104.1 68.9h.8M126.2 55.0h.8M118.0 56.7h.8M96.7 59.4h.8M140.2 72.9h.8M99.3 78.2h.8M133.8 65.5h.8M133.6 70.0h.8M130.7 75.8h.8M67.0 74.4h.8M131.5 68.0h.8M63.3 33.9h.8M76.4 75.1h.8M136.0 74.1h.8M63.7 63.4h.8M120.5 45.2h.8M137.2 66.1h.8M78.5 61.5h.8M131.3 68.4h.8M50.8 54.0h.8M80.7 35.1h.8M127.7 48.2h.8M58.8 54.7h.8M128.2 58.3h.8M99.0 53.2h.8M65.4 67.9h.8M68.3 56.6h.8M139.5 51.8h.8M121.4 59.4h.8M78.7 61.4h.8M114.7 58.4h.8M72.6 64.4h.8M53.5 59.7h.8M51.2 53.0h.8M55.8 64.0h.8M65.9 54.1h.8M129.3 64.8h.8M105.8 58.0h.8M80.6 62.7h.8M138.6 48.7h.8M124.9 66.6h.8M77.3 64.4h.8M65.4 57.8h.8M55.9 63.5h.8M58.0 54.2h.8M108.9 53.4h.8M127.7 58.7h.8M132.2 57.7h.8M134.4 65.9h.8M133.3 72.4h.8M113.2 62.0h.8M66.4 72.8h.8M64.1 79.3h.8M137.7 57.2h.8M95.9 71.0h.8M123.7 45.1h.8M131.3 61.5h.8M102.7 55.9h.8M63.1 52.7h.8M89.5 79.4h.8M56.2 62.6h.8M54.0 65.6h.8M117.1 59.7h.8M60.3 68.1h.8M120.3 84.9h.8M131.9 60.0h.8M65.0 62.6h.8M101.8 66.5h.8M122.0 66.0h.8M70.6 43.6h.8M138.2 63.8h.8M59.6 72.6h.8M136.7 55.9h.8M57.4 57.6h.8M66.5 64.4h.8M56.1 59.6h.8M107.6 61.7h.8M63.7 76.8h.8M56.8 58.4h.8M138.4 46.1h.8M81.6 57.3h.8M69.1 57.3h.8M117.6 64.0h.8M98.7 71.5h.8M64.2 55.2h.8M78.8 60.6h.8M140.5 57.3h.8M67.4 52.1h.8M123.4 82.8h.8M82.9 63.2h.8M128.7 53.6h.8M85.5 59.1h.8M112.4 73.2h.8M63.9 64.2h.8M121.9 58.9h.8M121.2 61.8h.8M107.0 72.1h.8M57.6 65.1h.8M56.8 64.1h.8M134.9 38.2h.8M92.2 59.8h.8M79.7 72.8h.8M110.0 61.8h.8M70.1 53.8h.8M112.7 52.3h.8M56.3 73.8h.8M132.7 50.2h.8M57.1 84.2h.8M87.1 60.1h.8M121.4 60.7h.8M60.0 61.7h.8M86.8 76.1h.8M126.6 34.6h.8M128.7 66.3h.8M58.7 70.1h.8M65.0 63.2h.8M119.9 57.2h.8M111.0 57.2h.8M79.7 58.8h.8M107.6 73.1h.8M120.5 60.0h.8M73.3 58.9h.8M119.8 55.9h.8M134.2 61.2h.8M62.0 43.2h.8M61.1 54.1h.8M64.2 56.6h.8M53.9 66.8h.8M47.5 61.9h.8M89.5 57.8h.8M130.4 68.9h.8M91.7 60.3h.8M120.9 75.3h.8M68.8 43.4h.8M85.5 60.5h.8M137.6 68.3h.8M138.8 89.6h.8M63.7 56.1h.8M126.5 53.5h.8M126.0 60.4h.8M82.9 58.6h.8M94.7 65.2h.8M91.7 65.3h.8M64.7 62.9h.8M91.0 66.1h.8M62.6 70.4h.8M61.3 54.6h.8M139.2 69.1h.8M63.0 71.3h.8M120.2 62.0h.8M53.0 62.0h.8M76.1 67.0h.8M135.2 59.7h.8M93.1 57.5h.8M54.1 60.3h.8M131.4 69.9h.8M79.9 51.3h.8M125.2 47.8h.8M134.8 40.8h.8M49.1 42.4h.8M138.1 72.6h.8M84.3 62.2h.8M141.3 83.7h.8M111.7 63.3h.8M97.5 38.5h.8M122.0 63.5h.8M57.8 49.2h.8M64.6 64.3h.8M133.1 55.4h.8M66.7 66.4h.8M55.9 59.6h.8M62.1 60.3h.8M52.7 49.5h.8M63.5 47.8h.8M70.7 54.6h.8M54.8 62.7h.8M60.6 48.1h.8M65.2 63.1h.8M131.5 56.9h.8M65.2 44.8h.8M61.8 84.7h.8M120.9 58.9h.8M67.4 76.3h.8M63.8 65.0h.8M107.2 63.8h.8M72.2 63.9h.8M114.2 85.8h.8M67.5 62.6h.8M94.6 61.8h.8M118.2 75.3h.8M121.1 39.7h.8M137.4 48.8h.8M114.8 72.0h.8M125.5 57.2h.8M132.7 50.6h.8M80.8 53.9h.8M76.4 69.2h.8M131.3 63.8h.8M49.9 77.3h.8M47.3 58.6h.8M63.2 56.4h.8M100.3 73.6h.8M59.0 93.0h.8M61.4 47.6h.8M128.0 49.7h.8M128.3 62.5h.8M50.8 73.8h.8M95.3 51.7h.8M73.1 56.1h.8M109.1 44.3h.8M94.4 55.9h.8M91.6 66.9h.8M138.0 47.3h.8M52.2 48.7h.8M109.7 65.4h.8M137.7 62.2h.8M52.0 67.2h.8M114.8 59.8h.8M54.7 76.1h.8M132.5 72.4h.8M76.9 52.4h.8M63.9 56.2h.8M98.1 55.2h.8M125.8 61.0h.8M126.4 66.7h.8M92.3 74.1h.8M60.8 86.5h.8M58.6 54.4h.8M93.2 71.8h.8M60.9 47.3h.8M96.0 48.1h.8M62.2 86.4h.8M64.1 69.7h.8M65.4 57.0h.8M57.0 64.5h.8M140.1 55.5h.8M124.7 60.6h.8M60.7 65.8h.8M105.2 69.3h.8M95.9 56.2h.8M61.8 60.6h.8M129.2 69.8h.8M130.7 61.4h.8M60.8 39.2h.8M125.9 67.6h.8M109.7 59.2h.8M62.0 69.2h.8M93.0 51.8h.8M125.6 53.2h.8M53.8 55.4h.8M62.4 75.5h.8M52.8 58.4h.8M68.0 69.1h.8M72.2 62.8h.8M112.7 58.4h.8M53.6 71.8h.8M128.8 50.0h.8M131.7 58.4h.8M133.5 52.1h.8M59.8 40.8h.8M58.7 57.2h.8M67.4 66.7h.8M127.7 61.2h.8M88.4 71.9h.8M69.4 57.5h.8M55.8 54.3h.8M59.9 68.4h.8M131.2 63.2h.8M58.7 48.3h.8M55.6 58.9h.8M128.1 54.8h.8M135.9 59.0h.8M71.9 52.2h.8M95.7 37.3h.8M134.0 71.2h.8M52.3 45.4h.8M67.8 75.0h.8M68.7 60.3h.8M54.0 60.9h.8M96.7 61.6h.8M65.1 63.5h.8M68.3 59.1h.8M136.0 61.0h.8M52.5 73.2h.8M124.8 63.5h.8M132.4 64.2h.8M124.4 62.4h.8M130.7 44.5h.8M72.0 72.3h.8M72.0 55.0h.8M75.7 60.4h.8M105.0 62.8h.8M68.6 53.1h.8M136.6 71.9h.8M68.0 67.9h.8M72.2 49.9h.8M90.7 55.4h.8M97.8 70.4h.8M132.6 52.6h.8M93.8 65.4h.8M59.1 52.8h.8M77.6 59.3h.8M83.6 65.3h.8M85.5 52.7h.8M97.8 53.4h.8M70.3 48.7h.8M54.3 55.1h.8M73.3 55.5h.8M64.0 63.5h.8M68.2 49.0h.8M90.8 63.9h.8M139.3 66.1h.8M57.6 76.2h.8M58.7 72.8h.8M116.5 64.5h.8M117.6 66.5h.8M137.7 81.2h.8M88.5 48.9h.8M137.6 61.6h.8M97.0 70.1h.8M130.0 67.1h.8M58.9 56.0h.8M116.3 56.0h.8M59.8 61.3h.8M77.2 86.9h.8M118.4 50.6h.8M66.5 55.2h.8M94.8 58.1h.8M51.2 49.2h.8M62.8 56.9h.8M69.3 65.2h.8M139.2 54.9h.8M124.7 64.6h.8M78.4 61.2h.8M70.9 81.7h.8M55.1 66.0h.8M135.7 62.3h.8M126.0 65.4h.8M97.7 76.8h.8M139.0 74.5h.8M124.3 73.9h.8M57.2 58.2h.8M120.6 50.8h.8M63.0 71.3h.8M60.1 36.2h.8M118.0 60.5h.8M102.6 58.9h.8M62.5 75.2h.8M63.4 50.0h.8M98.3 56.3h.8M69.4 57.5h.8M132.4 57.0h.8M119.2 62.1h.8M139.7 66.8h.8M135.6 51.4h.8M87.7 73.3h.8M110.6 56.0h.8M63.7 57.9h.8M136.2 64.7h.8M102.7 58.7h.8M90.0 59.0h.8M54.8 67.3h.8M130.1 56.6h.8M67.2 78.6h.8M131.7 66.6h.8M78.0 69.2h.8M99.4 57.1h.8M53.4 51.1h.8M122.9 79.0h.8M89.9 64.0h.8M68.0 56.7h.8M130.0 55.3h.8M127.6 52.8h.8M56.6 61.2h.8M65.2 61.7h.8M60.5 57.7h.8M96.0 64.0h.8M127.3 62.9h.8M84.9 45.1h.8M121.6 53.8h.8M114.8 52.6h.8M121.9 61.6h.8M78.7 62.4h.8M55.3 72.1h.8M132.7 51.6h.8M123.2 83.7h.8M118.8 53.1h.8M128.8 50.2h.8M139.9 55.0h.8M92.8 66.0h.8M53.7 77.4h.8M60.9 58.2h.8M68.6 68.0h.8M94.7 56.2h.8M66.0 57.7h.8M128.7 56.9h.8M69.2 56.0h.8M123.3 71.5h.8M92.3 50.6h.8M135.0 51.0h.8M63.8 66.7h.8M106.5 77.3h.8M121.0 71.2h.8M141.4 72.8h.8M65.7 54.0h.8M125.4 52.9h.8M120.6 50.0h.8M128.3 65.7h.8M129.1 57.7h.8M107.7 59.2h.8M62.5 72.1h.8M124.8 73.8h.8M125.0 51.2h.8M52.3 58.0h.8M128.5 69.3h.8M63.5 59.2h.8M63.6 68.1h.8M59.7 58.2h.8M124.8 70.4h.8M69.9 59.6h.8M113.0 74.3h.8M52.9 61.2h.8M65.5 49.2h.8M69.5 76.4h.8M67.7 39.0h.8M139.7 57.0h.8M130.4 78.6h.8M64.8 69.6h.8M59.6 48.3h.8M57.6 56.5h.8M129.8 71.9h.8M68.1 48.4h.8M123.2 54.8h.8M57.0 67.0h.8M130.8 48.1h.8M67.5 58.6h.8M137.4 49.7h.8M133.0 46.8h.8M63.3 65.3h.8M66.9 49.9h.8M56.5 68.9h.8M62.3 46.8h.8M104.4 67.2h.8M54.9 68.8h.8M131.2 70.4h.8M61.0 60.7h.8M52.6 65.6h.8M127.3 60.7h.8M70.8 60.7h.8M68.7 62.1h.8M124.4 70.8h.8M96.6 66.2h.8M131.9 64.8h.8M63.6 73.3h.8M93.8 62.8h.8M127.2 61.3h.8M118.0 66.3h.8M132.5 48.3h.8M118.3 74.6h.8M55.0 59.8h.8M50.2 74.4h.8M108.5 57.2h.8M110.9 47.4h.8M64.4 53.0h.8M126.1 41.8h.8M137.9 49.4h.8M58.9 65.2h.8M125.2 55.4h.8M74.5 49.8h.8M128.1 57.4h.8M123.8 63.9h.8M65.9 64.0h.8M128.3 64.2h.8M126.9 61.2h.8M135.6 57.2h.8M61.2 69.2h.8M111.7 73.3h.8M81.7 56.8h.8M74.1 59.9h.8M125.9 76.7h.8M96.5 53.9h.8M64.7 55.7h.8M70.8 43.4h.8M128.6 43.3h.8M126.3 60.2h.8M80.2 46.0h.8M97.5 51.2h.8M78.6 40.8h.8M133.9 65.7h.8M95.4 58.5h.8M57.0 67.3h.8M58.6 58.1h.8M58.4 52.3h.8M131.5 38.3h.8M60.1 56.1h.8M119.3 84.8h.8M72.0 76.3h.8M112.2 52.5h.8M130.2 53.0h.8M69.9 58.4h.8M127.8 66.4h.8M132.1 74.2h.8M75.2 61.2h.8M67.3 48.0h.8M138.7 57.1h.8M96.2 59.4h.8M124.9 59.0h.8M52.9 60.7h.8M118.4 47.7h.8M127.5 65.4h.8M84.8 61.8h.8M133.1 61.4h.8M69.0 67.5h.8M64.3 58.6h.8M129.4 70.1h.8M51.5 71.4h.8M85.9 67.2h.8M58.7 68.8h.8M125.4 66.7h.8M57.1 43.7h.8M82.8 63.9h.8M96.8 77.2h.8M110.1 45.0h.8M71.2 56.9h.8M137.0 67.2h.8M68.1 52.5h.8M120.2 63.6h.8M82.5 69.8h.8M63.5 66.3h.8M56.3 54.9h.8M136.3 65.9h.8M53.5 67.6h.8M61.2 63.2h.8M65.3 63.7h.8M136.7 62.7h.8M59.8 64.3h.8M101.9 53.7h.8M114.4 81.1h.8M128.5 60.6h.8M74.4 66.2h.8M126.4 62.0h.8M55.1 66.2h.8M131.3 62.9h.8M57.8 60.9h.8M131.4 72.7h.8M125.1 59.7h.8M112.6 50.3h.8M128.3 80.7h.8M65.3 65.3h.8M117.0 47.9h.8M119.1 71.4h.8M55.6 68.4h.8M123.3 63.6h.8M130.7 67.3h.8M131.9 59.9h.8M123.6 72.1h.8M56.2 70.9h.8M133.7 52.0h.8M119.3 65.1h.8M53.1 44.6h.8M108.3 55.1h.8M120.6 51.7h.8M136.9 54.1h.8M128.6 70.7h.8M128.5 35.4h.8M56.0 54.4h.8M89.3 60.9h.8M54.6 54.9h.8M128.5 67.1h.8M55.2 57.5h.8M66.0 66.8h.8M135.9 52.3h.8M65.8 82.1h.8M66.4 73.3h.8M86.3 48.8h.8M92.5 67.7h.8M134.2 67.0h.8M53.8 72.0h.8M111.9 59.1h.8M127.0 75.5h.8M91.8 62.9h.8M81.8 67.2h.8M98.3 71.9h.8M67.6 73.1h.8M111.8 65.6h.8M120.5 81.7h.8M99.9 57.9h.8M55.8 76.5h.8M129.3 58.9h.8M108.6 60.0h.8M137.2 52.6h.8M116.4 46.8h.8M86.7 79.2h.8M63.6 54.3h.8M57.7 55.3h.8M129.0 67.1h.8M109.8 71.6h.8M68.7 76.3h.8M113.2 69.8h.8M70.7 60.1h.8M74.6 69.0h.8M136.6 73.2h.8M137.9 80.2h.8M98.1 86.2h.8M140.5 49.8h.8M65.2 68.1h.8M131.5 66.3h.8M122.9 56.6h.8M139.4 69.5h.8M52.5 62.2h.8M64.9 69.0h.8M54.3 70.3h.8M67.4 77.9h.8M99.0 69.7h.8M58.8 50.5h.8M136.5 61.4h.8M68.7 64.7h.8M69.2 55.2h.8M50.0 51.1h.8M60.2 72.7h.8M138.3 58.4h.8M113.0 52.8h.8M63.2 55.3h.8M105.3 41.5h.8M123.5 58.0h.8M57.2 72.3h.8M98.6 65.0h.8M69.5 64.6h.8M107.2 68.5h.8M74.4 57.8h.8M100.3 64.1h.8M133.8 60.1h.8M87.5 63.3h.8M63.9 55.2h.8M112.8 62.5h.8M120.3 70.5h.8M131.7 61.7h.8M82.6 56.9h.8M86.8 70.3h.8M116.8 70.3h.8M119.7 51.5h.8M54.7 84.0h.8M55.9 68.2h.8M61.4 61.3h.8M66.2 64.4h.8M61.6 69.1h.8M67.5 56.9h.8M50.3 68.4h.8M111.0 62.0h.8M93.0 68.6h.8M70.0 55.3h.8M53.2 82.8h.8M120.8 63.1h.8M116.0 52.0h.8M66.4 55.9h.8M131.5 53.6h.8M88.8 59.3h.8M68.9 54.0h.8M63.1 62.4h.8M76.5 72.6h.8M98.7 61.3h.8M62.7 70.6h.8M121.4 56.0h.8M118.9 80.2h.8M140.1 58.6h.8M131.8 72.0h.8M58.5 55.5h.8M74.4 64.7h.8M125.4 55.4h.8M91.3 75.6h.8M122.2 41.9h.8M56.7 61.2h.8M124.5 79.7h.8M93.4 55.4h.8M131.5 73.5h.8M58.4 65.1h.8M134.9 80.2h.8M84.8 57.7h.8M51.8 70.4h.8M65.8 71.0h.8M68.2 41.1h.8M122.7 60.0h.8M75.9 70.8h.8M61.8 66.2h.8M57.0 54.2h.8M60.0 75.4h.8M57.3 62.1h.8M65.8 63.7h.8M83.7 71.0h.8M61.1 71.4h.8M74.1 64.5h.8M76.4 51.0h.8M127.5 74.0h.8M130.2 70.8h.8M52.3 70.7h.8M52.2 58.0h.8M67.3 65.7h.8M136.1 50.6h.8M109.1 58.4h.8M104.4 74.6h.8M65.0 58.3h.8M83.1 58.3h.8M61.7 65.2h.8M63.2 62.9h.8M71.1 48.4h.8M118.7 72.3h.8M129.3 73.6h.8M55.7 67.5h.8M126.1 49.5h.8M84.4 52.5h.8M101.2 72.0h.8M138.8 53.2h.8M97.2 67.5h.8M114.5 40.9h.8M79.6 51.2h.8M93.3 57.5h.8M101.2 58.2h.8M128.6 63.9h.8M64.9 38.4h.8M133.2 69.5h.8M77.3 69.1h.8M123.5 65.0h.8M62.3 78.0h.8M84.7 66.6h.8M65.6 51.0h.8M90.9 62.7h.8M59.1 55.8h.8M57.1 63.5h.8M69.0 41.8h.8M69.8 56.7h.8M124.9 61.3h.8M132.4 72.9h.8M117.5 48.2h.8M53.2 52.5h.8M97.1 63.8h.8M96.0 64.5h.8M55.4 46.6h.8M79.1 79.4h.8M134.6 69.2h.8M66.4 57.2h.8M71.9 68.0h.8M67.9 46.1h.8M133.7 44.3h.8M71.8 64.1h.8M129.1 55.4h.8M135.6 67.9h.8M85.9 69.6h.8M102.0 55.5h.8M125.6 60.4h.8M70.6 83.9h.8M69.0 66.1h.8M67.0 64.1h.8M119.5 53.7h.8M133.7 63.2h.8M59.9 55.2h.8M55.8 51.7h.8M84.0 65.9h.8M125.9 67.2h.8M74.0 54.8h.8M93.9 41.1h.8M58.3 53.6h.8M56.5 76.6h.8M65.4 97.9h.8M140.1 63.7h.8M69.4 50.3h.8M127.6 59.1h.8M55.9 62.4h.8M58.9 45.3h.8M136.2 49.2h.8M90.1 60.7h.8M65.4 72.8h.8M80.6 63.6h.8M66.3 60.7h.8M122.3 73.9h.8M50.3 61.0h.8M69.4 69.1h.8M55.8 67.4h.8M104.2 73.4h.8M61.5 55.9h.8M75.8 66.6h.8M134.3 54.4h.8M62.9 60.1h.8M93.8 75.1h.8M135.4 67.4h.8M127.6 54.2h.8M60.7 45.8h.8M63.7 66.1h.8M138.3 40.0h.8M118.4 65.6h.8M124.9 73.6h.8M128.9 59.0h.8M79.9 62.8h.8M102.6 60.6h.8M54.0 58.1h.8M60.1 74.5h.8M123.3 61.4h.8M126.5 59.3h.8M133.9 79.4h.8M59.6 67.7h.8M131.9 69.3h.8M62.3 49.3h.8M120.0 65.2h.8M128.1 77.0h.8M55.3 78.3h.8M129.2 52.3h.8M96.9 70.0h.8M71.6 34.4h.8M54.8 66.1h.8M64.3 53.7h.8M89.4 49.8h.8M118.1 59.7h.8M139.1 35.5h.8M119.4 45.4h.8M77.4 63.8h.8M62.7 52.8h.8M51.4 46.2h.8M60.1 67.0h.8M116.8 63.9h.8M59.0 67.8h.8M121.8 50.2h.8M61.9 65.8h.8M131.4 49.9h.8M66.4 49.1h.8M71.5 70.6h.8M71.3 55.2h.8M61.8 78.8h.8M68.3 63.9h.8M66.3 67.5h.8M108.7 62.4h.8M73.2 51.0h.8M117.3 65.3h.8M95.6 69.2h.8M93.9 68.5h.8M115.4 50.1h.8M118.5 55.9h.8M134.0 44.3h.8M54.7 55.5h.8M92.2 65.0h.8M96.4 61.9h.8M122.9 79.2h.8M131.1 60.0h.8M60.1 69.3h.8M135.0 81.0h.8M97.3 51.5h.8M99.9 67.8h.8M130.8 75.5h.8M96.7 42.6h.8M123.5 64.2h.8M127.4 65.7h.8M65.8 66.7h.8M127.5 57.6h.8M73.1 72.9h.8M78.1 49.9h.8M63.7 57.2h.8M140.0 74.8h.8M111.7 49.8h.8M134.0 49.5h.8M75.5 65.1h.8M119.1 48.7h.8M70.8 77.4h.8M84.0 67.9h.8M124.6 65.1h.8M128.6 46.4h.8M128.6 77.7h.8M126.3 65.2h.8M129.6 52.6h.8M124.0 67.1h.8M122.6 76.2h.8M72.4 63.6h.8M107.7 58.8h.8M122.4 72.4h.8M78.2 66.3h.8M87.3 43.6h.8M130.4 61.5h.8M60.8 76.8h.8M138.1 57.0h.8M65.4 65.8h.8M130.5 55.1h.8M138.7 69.5h.8M100.4 50.2h.8M122.9 68.9h.8M62.7 45.6h.8M66.5 60.6h.8M60.5 60.4h.8M135.3 53.9h.8M128.1 46.4h.8M124.1 61.9h.8M126.6 50.4h.8M129.5 52.0h.8M71.9 69.6h.8M131.9 78.4h.8M107.4 66.4h.8M61.5 53.7h.8M132.2 68.0h.8M138.7 60.3h.8M64.4 63.9h.8M55.1 55.2h.8M128.8 66.1h.8M126.2 72.1h.8M59.0 38.1h.8M96.1 63.1h.8M120.5 79.3h.8M67.3 78.9h.8M136.3 76.4h.8M127.5 55.2h.8M70.3 86.8h.8M109.2 70.2h.8M140.8 60.0h.8M109.8 67.1h.8M123.7 59.5h.8M134.1 50.6h.8M128.4 64.6h.8M128.0 84.9h.8M122.0 61.4h.8M58.5 54.0h.8M58.4 54.5h.8M138.4 81.9h.8M130.9 48.1h.8M118.2 44.5h.8M87.4 53.3h.8M58.7 44.5h.8M99.3 58.2h.8M62.9 72.3h.8M57.0 53.3h.8M55.6 53.5h.8M65.2 62.9h.8M87.3 67.5h.8M58.0 59.2h.8M56.6 56.9h.8M64.7 65.8h.8M62.4 74.9h.8M120.6 69.3h.8M121.2 52.5h.8M125.0 56.1h.8M59.8 70.9h.8M122.9 81.7h.8M57.3 52.7h.8M58.2 46.0h.8M118.4 64.1h.8M60.4 62.3h.8M59.5 52.9h.8M130.7 55.7h.8M132.0 44.9h.8M59.4 78.3h.8M111.7 44.2h.8M94.5 47.4h.8M114.6 82.9h.8M65.7 56.4h.8M91.6 60.7h.8M107.6 63.1h.8M122.1 52.5h.8M128.4 40.8h.8M64.6 42.3h.8M67.8 62.1h.8M124.7 60.8h.8M57.1 75.7h.8M117.4 41.2h.8M117.1 50.2h.8M99.8 60.7h.8M105.1 58.1h.8M140.9 57.5h.8M120.5 54.6h.8M127.1 59.4h.8M129.2 47.5h.8M105.9 63.0h.8M128.3 56.4h.8M133.2 47.1h.8M70.2 58.0h.8M127.6 54.1h.8M115.5 66.6h.8M54.0 61.8h.8M58.9 49.9h.8M132.8 59.1h.8M55.4 44.6h.8M126.2 63.2h.8M56.1 47.5h.8M121.2 63.3h.8M76.9 61.1h.8M125.8 71.9h.8M94.7 70.1h.8M68.0 67.9h.8M63.9 48.4h.8M130.9 64.9h.8M132.9 58.1h.8M124.0 55.6h.8M56.5 73.7h.8M89.2 52.8h.8M124.3 79.2h.8M132.7 71.8h.8M123.0 49.7h.8M58.0 46.2h.8M127.9 58.9h.8M121.2 55.7h.8M106.5 31.6h.8M130.9 66.5h.8M120.5 65.6h.8M63.0 43.5h.8M97.5 59.8h.8M120.6 68.9h.8M55.8 44.9h.8M88.8 67.9h.8M59.6 48.8h.8M108.6 64.7h.8M63.9 60.0h.8M73.9 65.5h.8M61.4 54.5h.8M133.0 48.1h.8M93.8 50.5h.8M82.6 58.6h.8M80.1 70.3h.8M92.6 58.6h.8M80.1 60.2h.8M81.3 79.1h.8M87.9 55.7h.8M132.6 75.7h.8M57.4 49.0h.8M120.4 58.9h.8M65.7 37.8h.8M108.3 56.5h.8M139.2 52.3h.8M117.7 73.4h.8M78.4 57.7h.8M128.3 76.4h.8M128.4 67.7h.8M119.2 57.7h.8M136.8 77.4h.8M60.4 77.8h.8M64.6 59.8h.8M87.3 65.1h.8M85.2 62.3h.8M59.9 63.4h.8M128.4 53.7h.8M55.8 59.5h.8M62.6 62.1h.8M122.8 65.4h.8M52.1 59.1h.8M119.7 78.8h.8M99.5 60.6h.8M129.7 83.7h.8M58.3 59.2h.8M66.4 74.2h.8M59.6 53.1h.8M123.8 72.8h.8M59.6 49.0h.8M140.8 65.6h.8M87.0 60.4h.8M117.0 57.9h.8M62.0 53.7h.8M120.8 60.1h.8M67.7 93.3h.8M85.5 68.5h.8M58.4 51.8h.8M138.0 59.0h.8M125.7 66.2h.8M133.3 76.2h.8M62.5 48.6h.8M140.4 72.1h.8M128.0 53.8h.8M130.4 73.6h.8M67.2 55.1h.8M61.9 54.2h.8M74.3 61.1h.8M60.5 65.1h.8M128.0 92.5h.8M55.1 52.6h.8M52.4 58.8h.8M132.7 40.0h.8M61.7 25.0h.8M65.1 48.6h.8M128.8 58.8h.8M60.5 74.7h.8M133.0 43.9h.8M93.5 61.2h.8M132.6 62.6h.8M129.6 52.5h.8M137.7 61.4h.8M129.9 68.2h.8M67.7 63.0h.8M133.6 69.5h.8M121.5 41.5h.8M62.3 49.4h.8M57.2 35.5h.8M116.1 66.0h.8M114.7 73.8h.8M119.9 66.1h.8M72.6 53.9h.8M71.5 45.4h.8M108.3 70.6h.8M140.2 58.5h.8M111.1 58.1h.8M137.8 65.0h.8M70.6 51.5h.8M130.2 65.0h.8M99.1 63.6h.8M85.6 74.3h.8M58.3 66.6h.8M120.3 59.7h.8M108.6 78.0h.8M55.6 64.1h.8M81.8 54.2h.8M123.5 49.2h.8M128.1 67.1h.8M69.4 62.5h.8M99.2 76.6h.8M120.0 61.9h.8M71.9 65.7h.8M79.6 69.3h.8M133.1 59.5h.8M129.8 61.9h.8M133.8 69.9h.8M78.8 76.4h.8M115.0 65.1h.8M89.2 64.4h.8M128.8 80.8h.8M69.9 67.0h.8M85.5 62.2h.8M139.2 42.4h.8M115.1 65.3h.8M128.2 60.4h.8M65.3 54.0h.8M68.6 76.9h.8M59.3 52.4h.8M139.6 63.1h.8M128.4 48.6h.8M55.0 73.4h.8M133.1 53.4h.8M102.1 78.7h.8M133.7 63.8h.8M121.1 61.5h.8M72.8 59.1h.8M59.8 67.3h.8M55.3 66.3h.8M61.7 64.9h.8M130.3 70.5h.8M135.8 57.4h.8M129.5 63.7h.8M140.9 67.0h.8M114.6 45.2h.8M53.2 54.3h.8M56.1 41.7h.8M59.2 61.0h.8M135.4 71.7h.8M52.5 72.7h.8M71.2 56.7h.8M123.4 65.4h.8M73.5 56.9h.8M76.8 63.9h.8M105.0 68.4h.8M56.3 77.3h.8M59.4 59.3h.8M55.8 63.0h.8M116.1 49.5h.8M64.4 55.5h.8M56.4 63.4h.8M59.4 56.9h.8M56.3 48.3h.8M53.3 66.4h.8M140.5 51.4h.8M124.5 53.0h.8M58.3 49.4h.8M78.8 58.4h.8M69.7 83.0h.8M70.1 73.5h.8M68.6 66.2h.8M52.8 63.7h.8M82.5 51.4h.8M107.9 46.5h.8M57.7 67.7h.8M124.9 70.9h.8M108.9 73.2h.8M58.0 61.0h.8M119.7 47.6h.8M66.2 68.3h.8M128.8 59.8h.8M67.4 69.2h.8M73.1 48.1h.8M54.9 69.8h.8M85.6 55.0h.8M91.7 51.9h.8M87.4 58.6h.8M138.7 65.0h.8M130.4 56.7h.8M132.7 67.0h.8M87.8 60.5h.8M63.3 83.4h.8M83.9 58.5h.8M81.5 77.7h.8M59.2 71.4h.8M140.3 71.4h.8M110.8 65.6h.8M58.9 71.0h.8M96.7 45.8h.8M120.5 55.9h.8M140.8 73.3h.8M50.8 57.5h.8M124.7 57.6h.8M123.7 66.3h.8M139.8 52.8h.8M60.1 60.0h.8M81.8 44.6h.8M51.4 44.6h.8M71.4 71.5h.8M57.9 57.9h.8M93.5 73.4h.8M127.5 69.5h.8M53.6 52.5h.8M61.2 74.2h.8M60.7 55.1h.8M55.1 79.4h.8M58.1 71.1h.8M113.6 54.9h.8M64.0 84.1h.8M125.4 77.8h.8M57.6 41.9h.8M86.6 58.1h.8M75.0 66.3h.8M62.6 68.3h.8M57.9 49.7h.8M70.1 69.8h.8M127.1 66.7h.8M78.5 49.0h.8M132.3 73.0h.8M140.9 68.8h.8M62.1 67.5h.8M65.3 60.3h.8M66.0 69.5h.8M114.4 67.5h.8M99.5 41.8h.8M55.1 86.9h.8M121.1 68.6h.8M53.2 66.3h.8M65.9 59.4h.8M58.2 67.6h.8M65.7 55.5h.8M130.8 70.8h.8M87.2 43.9h.8M70.8 52.7h.8M68.9 62.8h.8M52.2 67.2h.8M66.4 72.2h.8M126.6 75.1h.8M138.4 64.5h.8M128.9 68.0h.8M82.3 67.0h.8M118.1 61.3h.8M57.6 52.4h.8M91.7 67.3h.8M69.4 45.1h.8M113.5 64.1h.8M66.3 43.8h.8M140.7 66.4h.8M130.5 59.4h.8M124.8 56.9h.8M92.2 58.7h.8M124.8 37.0h.8M140.8 62.4h.8M118.8 55.7h.8M89.5 65.7h.8M91.4 59.2h.8M65.7 65.1h.8M139.5 92.4h.8M63.7 53.3h.8M129.1 69.0h.8M120.3 42.4h.8M83.3 57.0h.8M130.4 55.6h.8M66.2 67.3h.8M62.8 49.2h.8M128.0 50.1h.8M60.6 67.7h.8M112.9 68.8h.8M134.0 56.9h.8M116.0 72.6h.8M63.9 45.3h.8M102.0 63.2h.8M57.8 76.8h.8M97.5 66.1h.8M68.2 52.4h.8M56.8 56.0h.8M114.7 69.1h.8M56.1 70.0h.8M123.1 58.1h.8M102.5 64.6h.8M138.9 68.7h.8M61.9 63.0h.8M98.7 60.5h.8M67.7 52.3h.8M121.6 53.1h.8M57.7 67.5h.8M85.3 60.8h.8M62.0 61.7h.8M126.5 79.7h.8M136.1 66.6h.8M107.7 67.5h.8M122.9 63.8h.8M87.9 65.2h.8M107.3 64.5h.8M119.1 46.3h.8M124.8 85.8h.8M125.4 63.8h.8M123.4 56.2h.8M129.2 65.3h.8M78.2 57.2h.8M118.5 61.0h.8M90.2 68.6h.8M83.2 65.9h.8M65.2 51.0h.8M90.5 53.8h.8M124.6 68.1h.8M121.9 61.2h.8M131.8 57.2h.8M57.5 56.7h.8M57.8 51.3h.8M89.7 62.7h.8M100.8 59.2h.8M120.6 65.5h.8M67.3 65.3h.8M135.3 70.0h.8M101.4 76.2h.8M73.6 46.0h.8M129.3 63.7h.8M63.2 56.6h.8M93.2 48.2h.8M118.6 46.7h.8M79.9 67.5h.8M121.0 42.2h.8M108.3 74.0h.8M52.7 73.8h.8M101.1 68.6h.8M88.7 65.8h.8M54.8 66.3h.8M52.9 68.7h.8M96.8 64.2h.8M129.5 79.5h.8M115.4 60.8h.8M64.4 68.9h.8M98.6 55.6h.8M133.9 43.4h.8M76.1 62.7h.8M135.8 66.6h.8M134.8 71.2h.8M63.6 63.4h.8M109.7 68.7h.8M137.5 64.0h.8M121.3 44.4h.8M119.3 57.6h.8M110.4 72.1h.8M117.0 61.7h.8M127.3 64.8h.8M59.2 67.7h.8M64.4 70.0h.8M126.5 74.5h.8M125.9 64.4h.8M136.3 74.9h.8M52.6 45.9h.8M62.8 64.1h.8M98.5 54.7h.8M128.0 65.3h.8M68.1 67.6h.8M64.0 68.7h.8M96.4 71.7h.8M85.6 66.8h.8M120.8 47.9h.8M132.2 51.1h.8M82.7 55.1h.8M128.5 61.4h.8M122.9 52.5h.8M78.6 77.4h.8M59.1 51.2h.8M110.2 58.6h.8M127.6 84.7h.8M60.6 73.7h.8M52.7 63.7h.8M61.3 61.8h.8M112.1 61.4h.8M93.0 62.1h.8M136.4 57.4h.8M63.7 50.5h.8M120.5 62.3h.8M136.1 50.4h.8M129.7 73.7h.8M57.9 52.2h.8M108.0 61.5h.8M81.3 64.8h.8M125.6 43.8h.8M54.2 41.5h.8M135.5 62.1h.8M69.6 67.3h.8M132.9 64.4h.8M128.6 64.6h.8M110.4 38.9h.8M91.4 60.4h.8M91.9 63.9h.8M113.3 73.5h.8M124.7 59.3h.8M133.6 68.1h.8M101.0 63.9h.8M119.4 54.7h.8M139.8 88.8h.8M50.5 58.2h.8M61.0 70.6h.8M62.7 66.3h.8M121.7 70.0h.8M52.9 71.9h.8M105.5 59.8h.8M77.2 49.0h.8M132.7 55.8h.8M116.1 65.7h.8M125.4 73.0h.8M59.1 50.4h.8M56.3 61.7h.8M64.0 55.2h.8M52.5 65.6h.8M127.5 85.0h.8M117.3 39.2h.8M71.2 59.8h.8M103.9 70.0h.8M89.1 48.7h.8M97.4 63.5h.8M124.7 46.5h.8M110.3 83.6h.8M122.2 72.6h.8M69.9 83.6h.8M88.9 50.8h.8M134.9 64.9h.8M68.0 46.6h.8M61.3 54.7h.8M61.9 60.7h.8M68.9 44.2h.8M54.4 55.5h.8M111.2 63.0h.8M61.1 54.0h.8M120.8 71.3h.8M91.6 37.3h.8M112.0 72.4h.8M61.4 76.1h.8M91.5 69.5h.8M60.9 49.5h.8M139.3 80.5h.8M92.1 57.0h.8M58.9 65.8h.8M62.5 73.1h.8M82.7 65.0h.8M113.3 75.6h.8M140.4 64.7h.8M138.4 70.5h.8M138.4 59.5h.8M83.4 53.7h.8M139.9 75.6h.8M58.4 60.2h.8M86.9 70.7h.8M93.3 76.6h.8M97.1 69.3h.8M100.6 59.4h.8M132.5 72.7h.8M140.0 63.8h.8M91.4 67.0h.8M60.4 62.6h.8M115.1 51.5h.8M63.8 84.3h.8M69.9 45.7h.8M71.7 33.9h.8M84.1 43.3h.8M50.5 58.6h.8M119.5 69.8h.8M117.3 69.0h.8M87.6 58.6h.8M95.8 63.1h.8M129.7 71.5h.8M82.0 61.9h.8M131.2 56.0h.8M60.8 56.4h.8M137.2 68.3h.8M128.6 49.6h.8M132.7 83.9h.8M130.0 58.1h.8M134.2 66.3h.8M135.2 62.4h.8M51.7 42.4h.8M75.5 59.0h.8M125.2 56.3h.8M138.3 73.4h.8M61.8 63.7h.8M88.6 58.6h.8M136.2 62.1h.8M106.7 71.9h.8M133.6 52.1h.8M128.5 61.8h.8M120.5 72.6h.8M58.1 66.7h.8M85.7 54.1h.8M125.6 85.5h.8M56.2 62.2h.8M129.9 67.1h.8M116.0 59.0h.8M52.7 63.0h.8M134.4 52.1h.8M133.1 74.2h.8M51.6 73.7h.8M67.7 52.9h.8M55.3 51.8h.8M66.6 64.0h.8M115.4 49.6h.8M137.8 57.5h.8M122.8 66.1h.8M130.3 45.1h.8M53.7 71.4h.8M135.7 69.8h.8M127.0 61.8h.8M64.6 47.7h.8M130.1 59.7h.8M63.4 54.3h.8M131.2 59.9h.8M127.5 57.0h.8M121.0 81.4h.8M138.7 69.9h.8M69.8 44.7h.8M59.4 65.2h.8M70.9 54.3h.8M117.3 88.3h.8M88.9 62.1h.8M61.6 55.4h.8M55.4 71.9h.8M88.9 66.2h.8M68.5 63.4h.8M94.1 66.0h.8M132.7 60.4h.8M65.0 48.0h.8M71.0 63.5h.8M59.7 60.4h.8M62.6 54.3h.8M132.5 75.9h.8M134.5 67.4h.8M126.7 48.5h.8M126.4 58.2h.8M58.7 75.0h.8M121.1 56.7h.8M133.0 51.0h.8M112.1 52.5h.8M65.3 68.4h.8M127.0 82.0h.8M62.0 41.2h.8M135.1 47.7h.8M138.6 55.9h.8M59.1 73.4h.8M66.0 67.5h.8M125.0 54.6h.8M131.4 79.2h.8M141.4 65.0h.8M55.3 74.6h.8M64.3 47.4h.8M79.9 43.3h.8M99.7 50.5h.8M119.4 69.5h.8M129.1 55.5h.8M132.6 69.7h.8M62.0 81.0h.8M114.2 80.1h.8M129.5 65.2h.8M68.1 69.8h.8M84.2 73.8h.8M122.7 40.3h.8M129.0 48.9h.8M132.3 74.4h.8M60.6 56.5h.8M116.8 66.4h.8M111.6 66.5h.8M139.6 71.8h.8M72.6 51.5h.8M92.0 62.7h.8M131.0 67.4h.8M119.3 61.0h.8M132.1 82.4h.8M120.8 59.7h.8M93.2 58.1h.8M50.4 58.9h.8M55.2 56.4h.8M114.6 70.3h.8M77.0 78.6h.8M87.1 62.7h.8M63.3 55.7h.8M138.6 50.4h.8M98.1 49.1h.8M132.0 47.7h.8M125.3 61.6h.8M55.3 82.0h.8M133.4 71.7h.8M119.2 57.0h.8M126.8 56.0h.8M64.3 49.1h.8M80.7 63.1h.8M108.3 72.7h.8M122.4 66.8h.8M78.5 55.1h.8M84.0 72.7h.8M115.4 63.7h.8M131.9 62.8h.8M89.4 60.3h.8M129.8 59.4h.8M90.8 57.7h.8M65.0 55.6h.8M67.8 76.2h.8M64.4 52.5h.8M62.6 58.3h.8M52.9 50.2h.8M66.8 70.8h.8M79.8 62.8h.8M58.7 62.6h.8M104.0 59.8h.8M140.7 72.5h.8M136.6 74.0h.8M121.1 76.4h.8M127.2 68.5h.8M72.4 57.1h.8M51.8 86.4h.8M52.7 60.1h.8M121.2 61.4h.8M96.7 55.3h.8M124.8 67.0h.8M132.3 66.1h.8M74.2 64.1h.8M133.8 71.3h.8M61.0 67.0h.8M57.3 71.3h.8M117.1 69.2h.8M130.1 65.9h.8M130.1 62.3h.8M112.3 85.1h.8M58.3 80.7h.8M94.4 53.5h.8M139.3 75.9h.8M69.7 50.7h.8M99.9 53.0h.8M137.1 58.2h.8M136.8 91.4h.8M133.8 82.1h.8M106.9 68.5h.8M113.0 60.0h.8M51.8 56.9h.8M125.8 69.6h.8M67.4 70.8h.8M87.5 50.0h.8M127.9 61.8h.8M54.7 75.8h.8M83.5 67.6h.8M132.9 75.2h.8M114.6 60.1h.8M65.5 63.9h.8M50.8 55.1h.8M65.1 62.9h.8M126.4 76.1h.8M119.5 66.3h.8M101.1 73.1h.8M124.2 72.5h.8M115.8 50.2h.8M122.1 32.9h.8M65.6 37.8h.8M53.9 68.7h.8M57.4 64.6h.8M72.1 49.6h.8M117.5 78.8h.8M70.4 55.9h.8M67.1 55.2h.8M101.9 58.1h.8M66.4 58.3h.8M122.9 65.1h.8M129.2 74.6h.8M80.2 40.2h.8M125.9 61.0h.8M128.3 60.6h.8M134.9 52.0h.8M131.8 66.0h.8M61.2 67.2h.8M127.3 54.1h.8M140.3 65.7h.8M123.7 35.9h.8M54.4 58.9h.8M62.3 67.0h.8M60.0 56.5h.8M125.0 68.5h.8M126.2 54.4h.8M64.6 51.8h.8M124.5 61.1h.8M56.8 47.3h.8M135.0 53.8h.8M85.4 57.6h.8M127.6 56.5h.8M123.2 57.3h.8M99.8 44.7h.8M114.7 65.8h.8M65.5 62.9h.8M56.6 55.8h.8M129.4 57.2h.8M101.6 62.9h.8M91.3 57.8h.8M131.3 63.7h.8M62.5 59.9h.8M69.0 55.8h.8M64.9 53.7h.8M136.4 65.5h.8M136.8 59.4h.8M120.8 51.2h.8M61.2 67.0h.8M113.9 53.7h.8M59.9 66.3h.8M63.8 68.8h.8M89.0 64.8h.8M127.0 74.0h.8M84.2 52.9h.8M72.0 50.8h.8M137.6 67.7h.8M141.2 83.5h.8M61.1 69.0h.8M90.8 54.0h.8M123.6 64.1h.8M130.4 75.9h.8M132.9 63.3h.8M61.1 55.9h.8M98.3 69.0h.8M136.5 73.1h.8M70.8 73.0h.8M113.3 76.8h.8M135.3 72.2h.8M127.5 63.6h.8M132.6 49.1h.8M64.0 73.5h.8M92.7 68.9h.8M92.3 72.7h.8M128.3 67.0h.8M118.4 74.3h.8M128.7 65.4h.8M97.7 64.0h.8M65.8 65.1h.8M140.9 86.6h.8M67.6 58.9h.8M121.6 55.4h.8M69.9 49.8h.8M61.2 59.1h.8M75.5 52.2h.8M125.9 77.4h.8M54.1 76.5h.8M60.3 58.0h.8M134.4 53.4h.8M130.2 59.7h.8M125.6 68.8h.8M87.5 74.7h.8M136.1 67.0h.8M127.2 51.3h.8M122.0 77.5h.8M115.4 71.1h.8M55.3 45.7h.8M87.2 46.7h.8M73.2 57.3h.8M124.4 49.2h.8M134.6 59.7h.8M135.5 67.9h.8M47.9 62.5h.8M95.4 47.2h.8M134.7 57.2h.8M119.4 66.6h.8M52.7 58.1h.8M126.8 67.7h.8M61.0 75.4h.8M112.2 51.8h.8M135.4 58.1h.8M119.2 69.6h.8M74.2 67.3h.8M128.4 56.4h.8M75.8 78.7h.8M68.6 60.0h.8M136.4 72.7h.8M113.7 64.8h.8M58.9 62.1h.8M56.5 48.1h.8M63.5 66.9h.8M136.9 72.0h.8M76.6 59.1h.8M101.7 50.9h.8M54.5 75.0h.8M50.9 59.9h.8M70.3 40.9h.8M58.4 61.3h.8M97.0 50.9h.8M69.3 56.8h.8M115.7 65.7h.8M134.0 61.9h.8M137.6 70.6h.8M53.6 73.6h.8M136.5 57.3h.8M60.0 57.6h.8M67.4 72.9h.8M118.2 56.5h.8M60.0 77.9h.8M90.2 62.3h.8M124.6 73.6h.8M129.0 83.5h.8M65.5 70.2h.8M128.0 71.4h.8M112.8 55.4h.8M51.5 54.8h.8M69.2 60.2h.8M58.4 52.3h.8M53.8 67.1h.8M56.6 68.3h.8M66.6 61.6h.8M129.0 56.6h.8M115.9 59.6h.8M54.0 64.6h.8M110.0 48.1h.8M136.8 51.6h.8M64.4 64.4h.8M61.4 71.7h.8M122.1 66.4h.8M128.8 65.1h.8M111.2 74.4h.8M80.5 64.4h.8M120.0 70.7h.8M76.7 60.7h.8M136.4 73.6h.8M115.4 53.7h.8M52.8 58.5h.8M129.0 57.5h.8M61.7 74.2h.8M75.5 54.8h.8M57.6 67.7h.8M123.9 76.1h.8M115.2 67.7h.8M62.7 57.2h.8M84.8 63.5h.8M56.3 59.6h.8M127.1 86.9h.8M117.0 67.3h.8M120.8 55.4h.8M110.0 59.4h.8M140.3 72.9h.8M63.7 69.8h.8M92.3 61.9h.8M130.4 71.8h.8M83.8 60.4h.8M125.0 72.5h.8M137.2 81.4h.8M64.7 61.8h.8M107.9 59.9h.8M139.6 63.9h.8M124.4 66.2h.8M123.9 67.7h.8M131.1 65.7h.8M124.8 56.0h.8M61.5 59.2h.8M100.6 71.3h.8M52.2 76.8h.8M132.4 56.1h.8M138.7 62.6h.8M101.3 60.6h.8M125.8 56.4h.8M137.4 47.8h.8M53.6 42.3h.8M91.4 52.5h.8M106.4 62.9h.8M89.5 64.9h.8M57.9 59.7h.8M53.9 50.7h.8M63.7 61.8h.8M134.3 46.1h.8M125.1 71.5h.8M129.7 64.2h.8M130.2 73.7h.8M132.5 47.7h.8M67.6 63.9h.8M62.0 82.0h.8M126.3 54.8h.8M66.4 50.1h.8M131.4 51.5h.8M140.1 63.2h.8M74.8 70.2h.8M138.3 65.0h.8M107.9 68.7h.8M140.7 58.6h.8M126.5 78.6h.8M101.6 54.3h.8M59.8 80.6h.8M68.5 71.6h.8M94.1 68.1h.8M129.9 61.4h.8M141.2 77.3h.8M104.6 55.6h.8M102.6 63.9h.8M129.2 69.0h.8M74.2 67.8h.8M67.9 56.3h.8M135.2 85.9h.8M69.0 65.3h.8M124.9 63.0h.8M128.0 50.4h.8M56.7 51.9h.8M58.7 77.5h.8M62.5 49.0h.8M67.3 69.3h.8M131.9 70.2h.8M68.0 53.4h.8M123.9 59.0h.8M79.0 70.6h.8M95.4 71.7h.8M57.8 43.1h.8M115.2 61.5h.8M133.2 67.5h.8M127.7 62.9h.8M125.1 59.7h.8M136.6 65.3h.8M75.4 69.1h.8M101.5 53.2h.8M73.9 64.1h.8M120.6 63.1h.8M62.1 51.1h.8M128.2 68.4h.8M130.9 72.0h.8M73.9 44.5h.8M84.2 64.1h.8M58.3 54.8h.8M121.2 57.1h.8M134.3 66.3h.8M126.0 55.4h.8M67.2 80.0h.8M52.3 65.3h.8M130.0 97.7h.8M76.4 73.2h.8M124.7 44.8h.8M138.1 81.2h.8M56.1 55.1h.8M51.9 70.0h.8M135.1 65.9h.8M123.9 58.8h.8M102.1 76.7h.8M58.2 61.6h.8M133.7 80.9h.8M57.0 64.1h.8M55.4 49.2h.8M60.1 69.3h.8M59.7 65.6h.8M67.6 58.8h.8M78.1 49.8h.8M106.0 79.8h.8M57.1 65.2h.8M74.2 54.5h.8M106.5 66.3h.8M57.6 72.0h.8M134.2 76.8h.8M70.0 61.6h.8M82.2 54.2h.8M124.7 74.7h.8M68.2 55.6h.8M70.3 66.6h.8M54.7 67.6h.8M123.4 50.4h.8M94.7 52.6h.8M54.8 59.0h.8M130.8 51.0h.8M130.9 69.4h.8M125.5 59.6h.8M138.7 58.9h.8M89.9 73.3h.8M55.3 63.0h.8M93.9 64.1h.8M134.7 57.3h.8M127.6 66.2h.8M136.2 63.3h.8M112.5 59.0h.8M60.3 51.9h.8M122.6 57.1h.8M50.9 60.4h.8M57.5 66.8h.8M138.7 59.1h.8M122.4 56.5h.8M65.6 75.1h.8M91.4 48.5h.8M69.2 54.9h.8M115.3 57.8h.8M130.3 61.2h.8M129.7 60.3h.8M53.8 78.4h.8M68.5 53.6h.8M108.8 76.3h.8M58.4 60.3h.8M132.5 58.4h.8M137.6 79.7h.8M87.9 62.1h.8M60.2 46.5h.8M101.5 74.4h.8M126.1 73.1h.8M131.5 70.5h.8M66.4 59.3h.8M102.2 48.2h.8M129.0 66.8h.8M100.9 56.4h.8M63.2 64.4h.8M136.9 54.7h.8M124.1 76.9h.8M134.2 71.8h.8M87.6 55.4h.8M95.3 63.7h.8M67.7 84.5h.8M62.3 51.5h.8M62.5 64.6h.8M60.6 61.1h.8M60.3 48.0h.8M124.0 77.5h.8M69.0 76.5h.8M51.6 70.3h.8M130.3 71.8h.8M110.1 69.0h.8M64.4 58.5h.8M112.1 81.0h.8M122.4 33.3h.8M69.0 66.4h.8M124.2 65.9h.8M59.7 75.8h.8M136.9 67.4h.8M55.6 86.9h.8M103.5 60.9h.8M58.4 52.4h.8M59.3 42.4h.8M74.2 58.2h.8M93.7 60.7h.8M132.7 53.6h.8M119.2 71.2h.8M69.2 63.8h.8M118.0 80.6h.8M69.5 76.6h.8M133.2 55.0h.8M91.7 49.6h.8M100.1 52.8h.8M115.0 54.1h.8M66.5 56.3h.8M77.0 68.0h.8M139.7 50.7h.8M138.1 55.6h.8M120.2 66.9h.8M57.4 72.4h.8M112.6 57.5h.8M101.3 49.3h.8M68.0 72.8h.8M126.4 67.2h.8M124.1 57.6h.8M63.4 62.7h.8M137.2 53.2h.8M126.5 82.8h.8M120.3 76.6h.8M116.6 69.0h.8M127.2 47.5h.8M90.9 71.1h.8M120.5 79.2h.8M62.2 51.0h.8M136.6 75.7h.8M67.6 70.1h.8M66.7 68.2h.8M61.1 78.8h.8M53.6 66.6h.8M61.4 58.1h.8M61.9 54.5h.8M78.3 61.0h.8M61.9 54.7h.8M63.8 62.9h.8M119.1 56.5h.8M69.3 60.0h.8M63.6 53.5h.8M82.2 57.3h.8M57.5 62.8h.8M63.0 72.3h.8M71.8 68.1h.8M130.9 50.0h.8M50.1 66.7h.8M74.8 68.1h.8M63.3 51.5h.8M123.6 63.3h.8M65.2 58.5h.8M112.5 49.8h.8M125.4 40.5h.8M58.4 62.2h.8M120.2 72.5h.8M60.9 54.0h.8M119.9 84.3h.8M83.2 64.2h.8M133.1 59.5h.8M65.0 48.1h.8M131.2 63.1h.8M114.0 76.4h.8M61.4 41.9h.8M101.7 61.9h.8M97.9 76.2h.8M84.8 53.8h.8M137.4 69.9h.8M128.9 69.3h.8M62.5 86.0h.8M55.2 52.5h.8M133.4 75.2h.8M61.5 65.1h.8M140.8 47.4h.8M113.4 62.6h.8M56.0 42.2h.8M124.9 54.4h.8M106.0 69.1h.8M54.3 62.6h.8M59.1 61.1h.8M60.3 70.2h.8M92.4 61.3h.8M87.3 63.5h.8M74.6 74.3h.8M52.6 50.8h.8M50.4 68.7h.8M128.3 51.9h.8M140.3 63.1h.8M137.6 74.5h.8M52.4 75.8h.8M122.0 77.3h.8M140.4 61.0h.8M121.1 68.0h.8M57.0 66.2h.8M88.1 80.9h.8M136.7 53.9h.8M130.6 39.0h.8M127.1 56.6h.8M63.4 59.5h.8M122.1 49.7h.8M106.7 58.7h.8M94.6 65.9h.8M123.7 67.8h.8M61.5 47.5h.8M133.6 56.9h.8M91.0 67.6h.8M115.9 71.0h.8M120.1 28.0h.8M125.6 59.5h.8M126.7 56.3h.8M134.9 66.3h.8M122.8 66.8h.8M51.4 69.3h.8M68.9 45.7h.8M50.8 64.1h.8M86.8 62.6h.8M126.5 63.1h.8M53.2 56.9h.8M59.6 54.8h.8M117.5 62.9h.8M56.6 64.7h.8M121.3 65.4h.8M98.3 58.8h.8M110.7 64.6h.8M60.2 78.2h.8M56.6 58.3h.8M136.1 69.5h.8M50.7 52.2h.8M103.5 70.0h.8M130.3 84.3h.8M84.0 61.2h.8M131.4 50.5h.8M137.8 58.5h.8M117.4 68.5h.8M66.7 59.1h.8M133.3 56.7h.8M87.2 65.7h.8M100.3 53.1h.8M56.7 59.8h.8M100.7 68.1h.8M100.3 66.3h.8M65.3 85.1h.8M61.3 60.9h.8M97.9 48.8h.8M124.9 56.0h.8M89.5 61.8h.8M71.1 58.7h.8M95.9 74.8h.8M124.2 75.5h.8M120.3 54.3h.8M104.4 68.6h.8M68.2 50.3h.8M131.4 61.6h.8M56.1 58.5h.8M138.4 63.0h.8M79.0 68.6h.8M121.1 56.3h.8M111.8 66.0h.8M115.0 64.9h.8M65.2 66.4h.8M55.8 67.4h.8M126.8 46.5h.8M69.7 66.1h.8M131.1 78.3h.8M51.4 64.0h.8M102.3 53.2h.8M135.2 49.9h.8M93.1 54.4h.8M50.2 74.0h.8M122.1 75.7h.8M119.3 67.0h.8M130.6 78.5h.8M93.0 72.2h.8M126.2 38.1h.8M84.4 60.8h.8M109.3 66.7h.8M52.7 36.2h.8M82.4 61.5h.8M126.3 41.6h.8M61.2 40.0h.8M68.5 71.1h.8M88.8 48.6h.8M75.3 59.7h.8M111.2 59.2h.8M73.1 59.4h.8M126.4 58.4h.8M115.7 60.2h.8M95.2 47.9h.8M122.3 76.5h.8M102.0 61.5h.8M58.6 53.6h.8M135.4 59.6h.8M125.4 67.8h.8M140.0 55.3h.8M139.4 68.8h.8M122.4 79.7h.8M66.0 78.9h.8M73.0 74.1h.8M120.1 50.6h.8M132.9 67.4h.8M140.8 67.2h.8M102.1 65.6h.8M96.2 63.8h.8M66.7 69.5h.8M138.9 54.2h.8M89.7 46.7h.8M118.2 65.4h.8M79.9 72.3h.8M66.1 65.0h.8M74.3 56.4h.8M87.7 63.0h.8M72.0 61.3h.8M127.8 66.8h.8M61.4 74.7h.8M130.8 76.9h.8M87.1 59.8h.8M89.8 57.2h.8M121.8 57.3h.8M116.8 55.3h.8M57.6 50.9h.8M53.9 66.1h.8M124.8 56.4h.8M140.5 53.8h.8M57.5 74.0h.8M116.0 72.7h.8M59.8 56.5h.8M114.6 71.3h.8M136.2 87.4h.8M64.4 46.9h.8M87.9 58.9h.8M105.6 65.4h.8M98.5 48.5h.8M69.2 58.1h.8M63.1 74.3h.8M132.4 58.1h.8M136.1 52.5h.8M121.3 48.0h.8M103.2 62.8h.8M140.5 70.9h.8M64.2 69.0h.8M60.7 61.4h.8M106.2 63.2h.8M63.6 70.9h.8M55.9 59.3h.8M89.0 58.4h.8M136.9 52.9h.8M132.8 63.5h.8M97.3 66.0h.8M140.9 59.6h.8M103.4 63.9h.8M123.7 76.3h.8M61.6 65.4h.8M91.6 53.9h.8M127.6 55.9h.8M63.7 79.1h.8M58.8 50.6h.8M91.2 68.1h.8M107.1 57.4h.8M134.1 64.9h.8M125.5 63.8h.8M125.7 48.5h.8M96.5 36.5h.8M138.1 68.3h.8M84.4 71.2h.8M113.4 60.8h.8M63.5 78.4h.8M108.3 58.9h.8M106.7 45.8h.8M140.1 66.2h.8M113.8 45.3h.8M69.4 42.4h.8M57.5 74.2h.8M56.6 49.2h.8M53.5 52.4h.8M125.2 60.8h.8M131.9 54.6h.8M57.6 68.8h.8M119.6 63.9h.8M79.7 76.6h.8M125.2 61.4h.8M60.0 57.1h.8M99.9 63.5h.8M90.5 65.1h.8M105.8 57.3h.8M60.2 53.9h.8M51.0 64.7h.8M52.3 53.5h.8M73.5 61.7h.8M123.6 58.4h.8M83.7 70.7h.8M102.0 53.5h.8M66.5 28.3h.8M55.1 48.0h.8M131.0 74.2h.8M119.0 57.6h.8M136.5 58.9h.8M120.5 88.4h.8M122.8 77.7h.8M129.5 66.5h.8M76.7 50.1h.8M128.0 47.0h.8M123.1 67.2h.8M132.3 52.3h.8M100.5 49.4h.8M99.8 65.1h.8M129.2 58.1h.8M69.3 70.8h.8M124.4 62.5h.8M55.8 77.1h.8M68.5 58.2h.8M118.3 61.0h.8M129.1 69.4h.8M128.6 63.1h.8M94.0 66.5h.8M134.1 58.2h.8M62.7 70.5h.8M118.5 45.8h.8M131.2 58.2h.8M57.6 82.2h.8M66.9 72.3h.8M139.5 56.1h.8M73.1 62.5h.8M59.0 65.0h.8M132.5 59.2h.8M120.6 77.4h.8M58.9 71.3h.8M122.2 80.3h.8M84.2 73.3h.8M136.4 50.2h.8M62.2 74.4h.8M123.7 57.7h.8M124.2 51.0h.8M108.4 63.5h.8M95.1 43.0h.8M61.1 61.4h.8M64.1 51.7h.8M101.6 59.6h.8M74.1 56.4h.8M134.6 62.6h.8M65.5 68.0h.8M117.2 68.0h.8M66.1 66.2h.8M68.2 68.5h.8M60.8 64.2h.8M66.5 70.5h.8M109.1 46.2h.8M79.4 79.5h.8M140.1 45.6h.8M98.1 63.4h.8M93.9 59.1h.8M64.8 64.6h.8M59.0 52.9h.8M129.5 55.6h.8M138.9 60.9h.8M64.0 54.3h.8M93.6 60.7h.8M64.8 89.5h.8M61.4 67.2h.8M127.2 52.3h.8M54.0 55.8h.8M54.7 58.9h.8M114.4 63.1h.8M98.7 75.2h.8M93.8 56.8h.8M121.7 68.2h.8M58.7 57.3h.8M108.9 66.2h.8M135.0 67.2h.8M66.8 48.6h.8M62.8 62.5h.8M57.7 74.8h.8M135.0 58.4h.8M117.7 44.9h.8M84.9 70.2h.8M69.0 58.1h.8M133.6 67.9h.8M79.8 67.2h.8M56.8 58.6h.8M137.4 73.0h.8M140.5 53.5h.8M117.3 50.8h.8M111.3 62.2h.8M62.0 49.3h.8M122.7 72.0h.8M110.3 57.1h.8M126.5 66.3h.8M73.7 70.6h.8M53.7 56.7h.8M56.9 65.3h.8M52.2 68.2h.8M116.1 58.1h.8M67.9 57.3h.8M126.7 59.8h.8M136.7 59.5h.8M82.5 70.3h.8M61.2 56.9h.8M124.3 63.3h.8M69.4 85.7h.8M137.9 72.6h.8M128.5 64.5h.8M95.1 66.8h.8M139.0 49.7h.8M76.1 65.4h.8M62.8 53.7h.8M128.5 81.0h.8M96.6 53.0h.8M124.5 44.9h.8M118.7 70.4h.8M117.2 55.1h.8M118.3 65.9h.8M56.4 77.0h.8M99.4 50.4h.8M65.0 56.3h.8M55.4 90.3h.8M90.8 71.7h.8M66.6 64.9h.8M68.5 82.1h.8M52.6 58.1h.8M93.5 71.2h.8M135.5 58.5h.8M82.7 58.1h.8M119.4 69.5h.8M65.4 80.3h.8M61.1 66.1h.8M109.9 56.6h.8M56.3 57.4h.8M127.5 56.1h.8M129.3 48.7h.8M124.8 57.5h.8M62.0 54.2h.8M62.6 68.3h.8M126.6 50.9h.8M55.3 65.8h.8M136.0 83.8h.8M130.6 49.1h.8M117.0 53.1h.8M93.5 61.7h.8M129.4 63.7h.8M65.6 50.9h.8M128.8 83.4h.8M59.4 61.4h.8M57.5 59.6h.8M133.4 86.0h.8M104.1 63.1h.8M115.0 68.7h.8M113.9 57.7h.8M98.2 51.5h.8M125.2 57.6h.8M140.6 52.0h.8M58.9 68.1h.8M60.7 71.7h.8M63.7 42.0h.8M125.9 45.0h.8M127.1 69.0h.8M57.6 64.3h.8M54.1 59.4h.8M132.2 52.3h.8M125.7 59.8h.8M121.0 82.2h.8M118.9 66.4h.8M111.6 69.4h.8M61.2 77.7h.8M129.4 53.2h.8M98.4 54.6h.8M54.0 63.3h.8M56.7 63.2h.8M136.9 57.3h.8M57.0 81.5h.8M58.8 70.0h.8M123.7 70.8h.8M52.6 56.0h.8M122.7 75.7h.8M89.1 81.9h.8M102.6 75.0h.8M139.1 73.6h.8M59.4 53.8h.8M69.5 42.7h.8M140.4 61.2h.8M81.6 67.9h.8M131.4 57.1h.8M134.1 53.9h.8M64.6 60.0h.8M89.9 68.3h.8M139.8 71.3h.8M121.8 56.8h.8M56.7 64.9h.8M68.1 58.1h.8M133.0 49.7h.8M59.1 44.5h.8M111.8 62.7h.8M79.4 69.7h.8M121.2 60.4h.8M131.7 72.5h.8M110.6 44.2h.8M59.2 70.7h.8M97.8 62.0h.8M113.8 63.1h.8M112.0 55.3h.8M91.2 61.9h.8M51.6 64.3h.8M70.4 66.2h.8M60.6 59.0h.8M133.0 59.5h.8M95.0 59.9h.8M62.0 54.2h.8M86.4 57.6h.8M50.8 61.1h.8M83.3 73.3h.8M94.9 54.4h.8M70.4 41.4h.8M57.3 60.4h.8M66.6 56.9h.8M80.8 49.4h.8M124.5 87.5h.8M60.5 54.9h.8M56.3 72.2h.8M59.6 48.2h.8M122.8 70.9h.8M54.3 70.7h.8M75.9 47.9h.8M109.8 45.6h.8M97.9 72.0h.8M111.5 66.0h.8M65.7 61.8h.8M60.1 42.5h.8M57.6 68.1h.8M129.7 72.9h.8M122.4 60.0h.8M128.3 70.4h.8M60.4 68.5h.8M111.1 62.3h.8M107.7 45.8h.8M50.9 80.1h.8M116.1 57.1h.8M112.2 50.8h.8M65.5 63.9h.8M118.3 57.6h.8M79.9 55.3h.8M61.4 47.8h.8M122.9 49.9h.8M130.3 48.0h.8M135.8 59.2h.8M73.6 53.6h.8M126.4 42.4h.8M129.2 78.1h.8M117.5 72.6h.8M135.5 78.5h.8M123.9 45.7h.8M66.2 68.1h.8M120.7 46.7h.8M57.8 69.0h.8M119.5 76.7h.8M105.4 58.5h.8M127.1 55.4h.8M122.7 65.6h.8M119.5 51.8h.8M71.6 84.9h.8M88.3 70.1h.8M63.3 54.9h.8M64.5 60.6h.8M129.8 59.7h.8M88.2 82.8h.8M140.7 60.6h.8M57.6 61.6h.8M62.1 62.5h.8M97.0 70.1h.8M51.6 68.7h.8M120.4 79.4h.8M117.5 74.8h.8M114.1 80.5h.8M124.2 56.0h.8M71.4 68.4h.8M127.5 79.7h.8M54.8 57.9h.8M130.4 87.6h.8M121.0 69.8h.8M96.8 49.5h.8M103.2 68.9h.8M59.9 67.4h.8M62.9 74.5h.8M69.6 76.2h.8M132.6 54.8h.8M72.4 46.2h.8M92.1 60.9h.8M64.1 67.7h.8M131.3 49.9h.8M125.3 79.0h.8M137.5 46.9h.8M68.3 70.3h.8M67.8 88.3h.8M123.6 67.4h.8M58.1 62.2h.8M136.9 59.3h.8M126.4 62.6h.8M123.4 59.4h.8M127.9 71.9h.8M104.4 67.3h.8M51.6 70.9h.8M133.6 52.7h.8M59.7 54.4h.8M123.6 65.3h.8M91.5 68.7h.8M62.9 63.3h.8M98.7 67.3h.8M91.8 63.3h.8M135.4 59.3h.8M124.4 35.3h.8M87.3 63.2h.8M111.7 60.7h.8M60.6 63.2h.8M127.4 58.6h.8M58.4 54.1h.8M107.9 70.0h.8M126.4 59.8h.8M53.0 61.4h.8M59.8 67.0h.8M109.1 67.2h.8M122.0 55.5h.8M60.8 53.4h.8M62.8 67.3h.8M133.8 70.2h.8M64.6 48.3h.8M62.7 94.2h.8M110.1 73.8h.8M116.6 68.9h.8M115.1 58.4h.8M128.6 56.8h.8M49.7 60.7h.8M139.2 70.8h.8M64.2 67.0h.8M64.4 65.7h.8M68.5 72.1h.8M124.9 79.0h.8M68.8 52.0h.8M94.1 66.9h.8M62.2 41.9h.8M109.0 65.7h.8M60.5 66.1h.8M100.5 69.0h.8M51.3 56.4h.8M77.7 53.6h.8M127.8 69.8h.8M77.0 60.7h.8M116.1 64.3h.8M118.5 71.8h.8M67.6 51.0h.8M134.0 79.9h.8M61.6 60.0h.8M123.1 85.4h.8M49.6 62.0h.8M97.1 59.2h.8M68.4 59.0h.8M108.0 66.8h.8M65.2 62.1h.8M135.6 43.5h.8M132.3 64.0h.8M137.5 62.4h.8M138.2 66.7h.8M122.3 61.7h.8M60.0 50.9h.8M60.1 67.5h.8M52.8 48.0h.8M130.7 74.2h.8M119.0 46.2h.8M54.4 52.5h.8M91.3 71.9h.8M125.1 72.7h.8M117.2 62.7h.8M62.9 31.8h.8M126.2 49.0h.8M92.7 59.1h.8M79.7 68.6h.8M61.7 58.0h.8M102.0 71.4h.8M65.0 75.0h.8M59.5 60.2h.8M63.8 79.0h.8M90.4 54.5h.8M86.1 69.9h.8M87.6 66.6h.8M124.7 59.4h.8M62.5 47.4h.8M134.2 59.4h.8M141.0 68.0h.8M120.1 65.2h.8M50.8 49.7h.8M61.8 69.3h.8M121.9 58.5h.8M51.2 63.2h.8M116.6 70.6h.8M57.4 59.6h.8M63.4 75.7h.8M113.4 57.8h.8M65.3 68.5h.8M106.6 67.4h.8M134.3 55.5h.8M134.3 63.2h.8M126.9 68.2h.8M54.7 64.6h.8M139.4 54.9h.8M88.8 71.1h.8M67.3 50.3h.8M96.2 79.0h.8M131.7 75.8h.8M59.2 59.3h.8M67.5 43.3h.8M124.9 58.3h.8M125.7 63.0h.8M60.6 74.6h.8M66.3 51.9h.8M62.0 63.0h.8M55.1 64.1h.8M121.2 48.1h.8M120.4 67.8h.8M58.6 73.7h.8M96.6 72.5h.8M127.8 67.0h.8M51.6 69.4h.8M66.7 74.0h.8M138.3 59.8h.8M90.7 63.9h.8M126.6 68.3h.8M68.9 70.7h.8M65.0 48.5h.8M125.2 51.4h.8M136.2 61.4h.8M65.0 45.7h.8M70.2 50.7h.8M63.1 56.0h.8M69.1 66.7h.8M130.1 67.4h.8M116.3 45.2h.8M134.7 50.9h.8M123.0 56.9h.8M91.9 64.9h.8M121.9 69.6h.8M129.8 62.5h.8M63.4 41.4h.8M75.3 65.0h.8M70.8 53.1h.8M99.5 66.5h.8M61.5 63.5h.8M131.4 70.8h.8M114.3 55.2h.8M119.8 60.3h.8M130.9 77.1h.8M130.3 64.5h.8M65.9 67.5h.8M59.0 87.3h.8M122.9 68.4h.8M79.1 61.1h.8M131.2 55.6h.8M59.1 56.7h.8M128.4 70.9h.8M66.5 57.6h.8M64.1 76.9h.8M82.1 61.8h.8M72.4 69.3h.8M124.1 74.0h.8M60.0 82.5h.8M59.5 71.6h.8M76.5 59.4h.8M73.1 59.2h.8M115.8 49.1h.8M69.2 67.7h.8M125.0 72.2h.8M81.6 58.0h.8M119.1 66.0h.8M56.1 46.3h.8M114.4 57.3h.8M61.1 53.9h.8M123.5 62.6h.8M73.1 39.0h.8M132.9 50.3h.8M110.2 50.0h.8M135.7 49.2h.8M120.5 56.5h.8M137.1 47.6h.8M124.3 65.1h.8M53.8 65.4h.8M96.9 68.2h.8M122.1 69.5h.8M133.5 78.2h.8M128.5 47.6h.8M132.8 31.2h.8M61.6 49.3h.8M63.5 55.6h.8M88.2 57.1h.8M131.0 90.8h.8M126.4 64.9h.8M129.8 70.7h.8M54.1 55.1h.8M122.5 58.1h.8M136.0 57.2h.8M92.0 62.4h.8M61.8 46.4h.8M104.1 52.3h.8M77.9 55.5h.8M103.4 71.9h.8M63.3 61.9h.8M130.7 65.5h.8M129.4 80.9h.8M131.4 58.0h.8M109.2 74.8h.8M103.7 71.3h.8M79.7 50.2h.8M72.6 69.5h.8M67.1 61.9h.8M100.6 69.0h.8M132.1 68.4h.8M77.4 67.2h.8M52.1 53.4h.8M75.0 55.3h.8M131.1 54.0h.8M119.4 75.1h.8M91.5 75.7h.8M127.7 73.8h.8M114.8 58.5h.8M127.5 75.3h.8M63.6 74.1h.8M123.7 63.9h.8M67.5 57.3h.8M99.2 65.7h.8M62.7 57.1h.8M99.9 57.9h.8M60.1 77.9h.8M110.5 43.3h.8M111.5 71.6h.8M73.3 52.7h.8M128.1 53.4h.8M130.6 70.4h.8M102.7 43.8h.8M106.1 64.9h.8M84.1 55.2h.8M58.9 72.7h.8M140.9 67.2h.8M129.4 72.4h.8M136.2 68.7h.8M58.2 67.3h.8M64.4 57.7h.8M105.0 64.9h.8M107.9 59.9h.8M61.3 70.1h.8M128.2 75.9h.8M64.2 66.9h.8M83.0 67.5h.8M70.2 58.7h.8M129.2 47.4h.8M65.0 69.2h.8M107.3 61.5h.8M70.3 75.4h.8M64.9 69.2h.8M58.2 62.2h.8M63.9 74.6h.8M131.8 64.6h.8M61.4 71.4h.8M62.1 80.6h.8M55.5 64.1h.8M52.7 58.7h.8M88.4 65.6h.8M82.1 51.0h.8M131.2 63.9h.8M126.0 63.7h.8M56.5 71.3h.8M57.5 51.4h.8M140.5 72.9h.8M61.4 69.2h.8M51.4 63.4h.8M57.7 55.1h.8M131.0 52.8h.8M63.2 64.9h.8M124.0 61.9h.8M121.1 72.1h.8M73.7 69.8h.8M56.3 72.9h.8M97.5 72.4h.8M54.7 52.7h.8M123.3 80.8h.8M106.2 73.0h.8M70.2 71.4h.8M104.3 69.3h.8M139.5 63.9h.8M59.6 66.2h.8M140.9 64.7h.8M136.8 50.6h.8M77.4 55.6h.8M71.1 60.8h.8M133.5 65.9h.8M102.4 50.3h.8M107.6 86.0h.8M66.9 84.7h.8M57.6 65.2h.8M132.2 65.2h.8M117.9 56.7h.8M99.9 77.0h.8M129.2 50.4h.8M79.0 36.1h.8M83.3 58.9h.8M61.2 68.2h.8M67.9 76.3h.8M131.2 73.0h.8M132.1 62.3h.8M138.4 59.3h.8M127.5 72.3h.8M125.8 67.9h.8M66.2 62.5h.8M130.9 50.5h.8M75.0 60.6h.8M66.0 61.6h.8M129.7 67.2h.8M119.3 72.8h.8M140.7 60.9h.8M56.2 67.5h.8M126.9 45.3h.8M63.9 62.4h.8M59.3 69.2h.8M111.7 76.0h.8M103.4 66.6h.8M69.5 59.9h.8M127.4 51.7h.8M128.2 50.6h.8M129.8 52.2h.8M98.7 64.4h.8M99.2 52.0h.8M126.2 76.5h.8M127.6 84.5h.8M134.5 47.9h.8M124.8 60.0h.8M58.6 79.3h.8M53.4 58.4h.8M60.4 65.7h.8M126.7 52.9h.8M92.1 50.1h.8M103.9 67.9h.8M130.0 66.8h.8M84.7 66.3h.8M117.1 56.1h.8M60.9 47.1h.8M57.9 66.8h.8M107.0 59.0h.8M60.0 90.7h.8M56.3 59.4h.8M114.4 52.9h.8M62.2 78.3h.8M80.8 40.4h.8M93.6 56.2h.8M59.0 65.9h.8M124.2 54.6h.8M62.6 63.1h.8M131.0 61.7h.8M71.2 54.6h.8M140.3 51.5h.8M57.5 53.2h.8M67.7 80.0h.8M98.6 51.0h.8M61.7 68.2h.8M105.1 81.9h.8M120.2 59.2h.8M126.6 48.7h.8M138.2 59.5h.8M52.6 49.2h.8M122.9 49.1h.8M65.2 68.3h.8M74.7 57.3h.8M134.2 53.1h.8M68.6 55.3h.8M60.6 77.2h.8M65.5 53.6h.8M138.5 72.8h.8M116.9 81.5h.8M67.5 57.6h.8M118.3 64.2h.8M111.6 74.3h.8M52.8 58.8h.8M58.6 52.6h.8M59.5 33.1h.8M52.5 47.8h.8M121.4 68.2h.8M66.0 72.5h.8M140.1 60.4h.8M65.4 51.7h.8M137.2 51.5h.8M61.9 75.1h.8M55.6 45.5h.8M133.8 69.5h.8M140.0 66.6h.8M117.0 55.4h.8M82.4 78.4h.8M89.5 65.1h.8M103.7 54.0h.8M53.8 62.7h.8M86.0 60.0h.8M139.5 71.3h.8M131.8 60.6h.8M54.4 70.2h.8M130.5 55.7h.8M67.7 73.6h.8M53.1 46.7h.8M55.9 65.6h.8M61.3 79.1h.8M109.9 67.0h.8M46.7 41.9h.8M57.0 72.1h.8M58.0 58.9h.8M136.7 62.4h.8M109.7 66.5h.8M126.3 60.5h.8M114.4 69.5h.8M135.1 59.0h.8M53.0 63.7h.8M100.5 58.4h.8M128.2 52.6h.8M101.4 64.9h.8M124.3 69.6h.8M91.0 66.6h.8M73.0 45.7h.8M52.0 51.7h.8M135.2 63.1h.8M57.6 61.5h.8M77.5 73.7h.8M59.1 51.2h.8M135.3 42.7h.8M58.8 36.0h.8M119.6 69.8h.8M97.4 54.4h.8M134.1 66.9h.8M120.4 65.5h.8M135.4 47.0h.8M129.8 40.0h.8M124.9 51.9h.8M55.7 41.1h.8M92.9 66.4h.8M130.3 71.6h.8M63.6 56.7h.8M134.1 44.3h.8M70.2 53.9h.8M124.5 70.1h.8M62.5 53.2h.8M130.8 61.1h.8M58.0 66.8h.8M131.4 78.3h.8M118.0 51.5h.8M93.8 50.3h.8M68.9 63.6h.8M129.3 59.5h.8M90.7 56.9h.8M135.6 69.2h.8M132.3 88.8h.8M130.6 78.7h.8M137.3 78.9h.8M127.5 54.1h.8M82.3 45.4h.8M122.6 47.5h.8M85.6 54.4h.8M67.5 73.1h.8M122.2 63.5h.8M64.5 46.8h.8M108.6 39.4h.8M129.3 73.8h.8M73.4 65.4h.8M64.8 65.2h.8M69.3 53.1h.8M86.9 47.2h.8M95.1 67.3h.8M104.1 54.5h.8M127.9 68.3h.8M56.4 74.1h.8M125.2 51.4h.8M66.7 55.6h.8M136.3 71.3h.8M101.5 57.6h.8M112.9 52.7h.8M126.2 40.3h.8M120.2 62.2h.8M121.0 61.4h.8M57.2 71.4h.8M77.9 44.8h.8M62.5 41.9h.8M73.1 65.9h.8M65.1 63.8h.8M119.5 79.5h.8M126.2 64.8h.8M134.4 63.9h.8M62.7 83.8h.8M87.2 59.4h.8M92.6 79.1h.8M68.5 68.2h.8M118.4 74.3h.8M122.5 70.6h.8M55.0 59.4h.8M118.3 73.7h.8M135.7 91.8h.8M101.3 60.5h.8M53.9 63.2h.8M106.9 80.2h.8M139.0 43.9h.8M132.5 68.5h.8M120.3 71.9h.8M56.4 94.5h.8M54.8 55.1h.8M78.0 67.3h.8M135.7 69.9h.8M138.1 39.5h.8M126.6 68.4h.8M63.5 49.1h.8M137.6 54.2h.8M102.2 77.3h.8M121.4 65.4h.8M68.3 55.1h.8M112.4 40.5h.8M59.5 67.8h.8M124.6 60.0h.8M135.0 83.7h.8M68.4 53.7h.8M117.7 66.4h.8M121.8 65.2h.8M135.4 56.6h.8M74.0 70.4h.8M77.9 58.3h.8M132.5 70.4h.8M135.7 55.5h.8M97.4 60.2h.8M140.5 53.8h.8M131.0 59.6h.8M62.1 56.7h.8M133.1 57.2h.8M137.6 62.8h.8M63.3 64.7h.8M58.4 67.3h.8M76.0 47.3h.8M73.0 54.5h.8M112.0 64.1h.8M60.7 55.3h.8M114.1 51.6h.8M60.1 68.5h.8M125.0 57.6h.8M65.6 55.1h.8M130.7 59.1h.8M129.7 75.6h.8M89.7 64.4h.8M133.5 61.9h.8M58.8 44.2h.8M104.9 76.7h.8M59.4 48.5h.8M65.4 61.5h.8M64.2 75.2h.8M134.0 66.2h.8M137.9 74.1h.8M134.2 52.8h.8M128.1 67.5h.8M139.6 65.4h.8M117.9 62.2h.8M122.0 61.4h.8M130.1 50.4h.8M90.9 44.5h.8M101.0 49.3h.8M85.7 76.6h.8M60.4 71.0h.8M111.5 72.1h.8M79.0 62.4h.8M140.9 48.5h.8M127.7 61.0h.8M133.5 60.2h.8M71.6 42.1h.8M68.0 70.8h.8M97.2 61.8h.8M56.2 63.6h.8M59.7 56.5h.8M128.2 66.2h.8M57.7 58.1h.8M92.2 67.0h.8M72.5 44.6h.8M129.4 60.6h.8M88.9 63.5h.8M68.4 64.5h.8M105.4 59.2h.8M140.1 81.5h.8M123.9 54.8h.8M129.6 63.9h.8M62.9 60.6h.8M59.5 52.3h.8M56.1 54.7h.8M66.0 68.9h.8M118.7 73.6h.8M127.0 69.2h.8M60.4 75.1h.8M70.4 64.8h.8M91.2 66.9h.8M126.0 64.5h.8M58.4 55.9h.8M62.1 56.7h.8M91.0 51.7h.8M131.8 56.9h.8M66.2 49.8h.8M98.5 54.8h.8M132.0 58.2h.8M122.6 55.3h.8M53.1 71.4h.8M59.4 68.5h.8M68.5 56.1h.8M137.9 75.7h.8M82.0 62.5h.8M114.6 85.4h.8M62.6 52.2h.8M107.1 61.4h.8M79.2 62.4h.8M119.4 55.9h.8M57.9 59.5h.8M63.6 66.4h.8M135.4 69.1h.8M65.9 73.1h.8M136.1 55.1h.8M61.6 48.0h.8M127.6 75.6h.8M122.3 73.7h.8M131.1 77.4h.8M69.1 63.3h.8M128.0 46.9h.8M72.0 49.3h.8M65.5 72.5h.8M116.3 59.8h.8M70.2 59.1h.8M58.4 63.2h.8M61.8 69.1h.8M140.4 57.5h.8M48.6 57.4h.8M100.8 59.2h.8M134.9 95.7h.8M67.9 73.2h.8M140.6 70.3h.8M54.0 79.2h.8M137.0 49.1h.8M125.8 78.7h.8M138.2 61.8h.8M124.3 75.7h.8M132.9 62.3h.8M56.7 84.6h.8M70.0 60.8h.8M65.7 57.2h.8M71.6 64.0h.8M59.2 58.6h.8M57.9 64.0h.8M63.0 58.5h.8M138.6 59.9h.8M64.7 37.5h.8M129.4 47.2h.8M59.2 55.8h.8M61.5 45.7h.8M63.5 76.1h.8M64.6 50.5h.8M85.8 77.2h.8M59.4 61.9h.8M60.8 43.9h.8M60.2 70.9h.8M67.1 78.8h.8M138.1 53.2h.8M128.7 59.1h.8M120.5 57.5h.8M135.0 45.3h.8M96.6 55.6h.8M137.6 47.6h.8M125.3 54.0h.8M131.6 63.5h.8M89.3 68.9h.8M120.2 51.5h.8M61.8 82.9h.8M57.0 62.3h.8M67.1 69.5h.8M116.9 48.6h.8M50.5 55.3h.8M63.5 55.7h.8M128.3 54.0h.8M69.5 57.9h.8M57.7 60.7h.8M72.4 63.2h.8M68.4 73.2h.8M89.1 72.3h.8M71.6 60.1h.8M120.8 71.2h.8M93.1 62.7h.8M71.9 62.0h.8M77.3 62.3h.8M64.3 75.3h.8M57.9 78.4h.8M65.7 42.0h.8M128.2 46.4h.8M64.0 38.7h.8M137.1 49.7h.8M106.7 63.2h.8M140.1 55.3h.8M124.0 53.2h.8M73.3 58.7h.8M63.3 60.7h.8M135.8 57.7h.8M69.5 64.7h.8M100.6 64.4h.8M99.4 53.2h.8M58.1 63.0h.8M54.2 66.9h.8M71.5 60.2h.8M68.0 59.7h.8M64.3 63.4h.8M115.2 52.9h.8M128.4 68.0h.8M63.9 65.5h.8M122.7 74.6h.8M108.7 62.9h.8M122.2 49.0h.8M134.5 62.0h.8M100.4 71.6h.8M100.4 39.5h.8M82.6 65.8h.8M72.5 63.5h.8M79.9 60.6h.8M132.5 63.8h.8M123.6 78.6h.8M114.3 75.3h.8M112.3 75.6h.8M139.6 48.7h.8M103.2 33.9h.8M97.1 58.8h.8M89.6 61.1h.8M57.0 32.2h.8M74.2 44.5h.8M66.1 88.0h.8M123.3 61.9h.8M71.8 38.4h.8M100.0 52.0h.8M62.5 69.7h.8M137.2 57.2h.8M95.4 54.5h.8M61.3 67.0h.8M53.1 67.5h.8M70.0 49.2h.8M88.0 65.0h.8M138.8 40.0h.8M125.7 63.1h.8M138.5 65.8h.8M59.4 71.8h.8M57.7 55.5h.8M125.7 50.9h.8M79.8 55.4h.8M121.0 71.2h.8M53.4 62.7h.8M124.6 68.7h.8M125.4 75.9h.8M52.6 66.5h.8M75.4 71.5h.8M61.1 46.7h.8M74.5 53.3h.8M69.0 75.7h.8M129.1 74.5h.8M117.3 62.9h.8M131.9 67.6h.8M124.9 76.9h.8M50.3 70.0h.8M59.1 71.2h.8M131.9 53.8h.8M120.0 57.4h.8M65.6 71.8h.8M66.2 72.2h.8M125.7 73.3h.8M117.2 47.4h.8M109.0 59.3h.8M127.8 59.3h.8M55.3 80.3h.8M125.6 59.6h.8M76.3 65.6h.8M124.1 66.0h.8M56.2 62.6h.8M134.5 60.5h.8M106.2 56.9h.8M66.5 68.1h.8M132.6 71.9h.8M140.5 42.8h.8M103.9 64.9h.8M94.2 62.3h.8M104.2 56.2h.8M58.8 75.5h.8M68.7 64.2h.8M91.8 50.1h.8M124.4 64.4h.8M70.4 80.5h.8M62.8 45.9h.8M71.9 55.0h.8M124.4 51.9h.8M51.7 61.9h.8M134.3 59.4h.8M128.9 63.7h.8M116.3 58.5h.8M112.5 59.1h.8M59.7 57.7h.8M74.1 57.0h.8M58.6 72.2h.8M114.4 50.5h.8M108.2 65.4h.8M122.2 69.3h.8M130.3 58.7h.8M66.4 62.2h.8M105.2 56.7h.8M133.9 65.1h.8M109.6 59.0h.8M78.2 53.0h.8M127.9 61.1h.8M135.6 68.5h.8M63.4 42.4h.8M120.8 78.6h.8M135.9 73.1h.8M136.3 58.3h.8M62.2 64.4h.8M126.2 62.0h.8M63.3 48.0h.8M123.1 61.0h.8M90.7 79.3h.8M91.6 73.1h.8M125.4 54.5h.8M138.8 55.5h.8M61.5 66.4h.8M60.7 57.2h.8M140.8 63.3h.8M58.3 62.8h.8M113.1 61.4h.8M132.5 64.6h.8M57.8 70.3h.8M100.3 57.6h.8M92.0 60.1h.8M61.5 54.8h.8M118.0 61.1h.8M127.0 43.1h.8M65.3 68.0h.8M58.4 43.5h.8M57.8 80.5h.8M63.0 76.7h.8M115.0 72.6h.8M86.1 46.1h.8M112.9 52.5h.8M74.3 67.8h.8M123.4 62.8h.8M63.6 83.6h.8M61.6 47.6h.8M95.9 47.9h.8M73.0 59.7h.8M136.1 58.5h.8M123.2 78.1h.8M129.7 58.9h.8M53.2 75.5h.8M127.9 50.2h.8M58.1 60.7h.8M60.4 70.2h.8M136.3 57.4h.8M76.4 53.7h.8M139.0 47.6h.8M95.9 67.0h.8M93.7 66.9h.8M114.7 60.8h.8M75.2 79.5h.8M94.2 59.3h.8M65.8 54.6h.8M80.2 55.0h.8M59.9 62.4h.8M113.4 51.9h.8M118.6 59.2h.8M60.1 65.9h.8M84.4 59.1h.8M52.5 45.2h.8M102.4 53.0h.8M98.0 35.9h.8M135.1 66.5h.8M110.3 69.7h.8M133.0 66.6h.8M113.6 59.9h.8M123.0 74.6h.8M68.2 61.8h.8M54.1 60.5h.8M97.9 64.3h.8M63.4 72.3h.8M114.2 55.7h.8M130.0 50.7h.8M133.3 71.8h.8M140.7 64.2h.8M130.9 61.6h.8M62.6 49.2h.8M134.0 69.5h.8M124.1 59.1h.8M74.9 68.3h.8M122.2 52.4h.8M55.4 34.9h.8M55.3 67.3h.8M131.1 79.7h.8M87.6 72.3h.8M65.5 54.2h.8M114.0 53.8h.8M132.8 68.0h.8M135.3 70.4h.8M81.6 78.1h.8M58.4 63.1h.8M65.7 42.8h.8M64.4 52.6h.8M73.4 53.0h.8M127.3 69.3h.8M67.3 55.4h.8M85.5 57.0h.8M70.9 73.6h.8M129.2 58.9h.8M70.4 62.6h.8M133.2 77.6h.8M115.3 54.8h.8M54.2 42.4h.8M62.9 51.9h.8M116.1 55.7h.8M53.2 60.1h.8M61.1 66.2h.8M65.7 46.9h.8M107.5 54.2h.8M54.7 63.1h.8M65.9 60.1h.8M123.8 58.5h.8M69.4 55.1h.8M130.4 45.8h.8M131.7 60.5h.8M71.7 71.5h.8M66.7 54.7h.8M66.1 64.9h.8M137.7 66.1h.8M58.6 68.6h.8M55.9 54.2h.8M103.3 69.1h.8M94.8 77.9h.8M104.6 84.3h.8M55.0 71.1h.8M110.2 60.9h.8M52.0 48.0h.8M57.5 62.0h.8M53.9 55.5h.8M87.9 49.1h.8M51.7 62.8h.8M69.3 63.6h.8M78.2 55.5h.8M123.5 63.6h.8M109.4 52.4h.8M117.6 61.6h.8M124.5 51.2h.8M60.9 66.7h.8M129.2 38.2h.8M95.5 67.0h.8M104.0 50.2h.8M137.3 51.1h.8M50.7 71.1h.8M120.7 60.3h.8M112.7 54.2h.8M97.1 52.3h.8M61.8 61.9h.8M62.6 68.9h.8M133.7 67.8h.8M50.3 60.1h.8M74.6 55.5h.8M126.0 84.7h.8M64.8 55.5h.8M70.9 70.7h.8M54.7 52.6h.8M128.8 67.9h.8M58.4 51.6h.8M124.1 53.0h.8M110.4 52.9h.8M127.9 57.8h.8M131.5 56.2h.8M78.9 46.7h.8M105.0 78.2h.8M134.6 49.0h.8M61.5 44.8h.8M98.7 60.1h.8M124.2 62.4h.8M127.0 72.7h.8M123.8 74.0h.8M67.6 56.2h.8M91.1 50.2h.8M125.3 42.2h.8M118.1 57.1h.8M50.6 58.4h.8M68.2 49.1h.8M131.2 60.1h.8M91.8 55.9h.8M63.6 64.5h.8M133.0 50.4h.8M50.2 55.1h.8M111.5 64.9h.8M131.0 45.2h.8M70.2 61.8h.8M62.7 64.7h.8M57.2 46.2h.8M135.6 47.6h.8M119.3 62.0h.8M123.1 53.9h.8M134.3 63.6h.8M128.8 74.3h.8M123.3 44.2h.8M65.6 40.7h.8M107.1 70.2h.8M78.1 58.1h.8M125.7 76.2h.8M97.0 70.6h.8M91.6 51.6h.8M65.2 64.2h.8M137.1 68.5h.8M59.5 52.7h.8M111.1 66.2h.8M82.5 69.3h.8M60.4 71.5h.8M127.9 49.9h.8M131.0 68.2h.8M116.5 58.9h.8M57.8 67.7h.8M73.8 72.7h.8M58.1 73.1h.8M122.6 61.2h.8M120.0 60.0h.8M65.9 73.5h.8M74.8 64.8h.8M112.1 56.8h.8M64.6 73.0h.8M57.4 49.1h.8M115.8 56.8h.8M129.1 62.9h.8M84.9 59.4h.8M57.2 62.9h.8M97.8 58.4h.8M100.7 62.4h.8M65.7 66.1h.8M62.0 73.6h.8M132.1 63.1h.8M125.5 60.8h.8M51.5 49.3h.8M78.0 58.7h.8M55.8 67.4h.8M66.7 65.6h.8M70.2 60.9h.8M139.7 77.7h.8M132.7 63.6h.8M72.8 66.4h.8M122.0 73.8h.8M104.3 67.3h.8M138.2 55.6h.8M65.3 70.1h.8M118.2 72.2h.8M129.2 75.3h.8M104.5 67.2h.8M116.1 62.3h.8M74.6 70.2h.8M101.7 53.6h.8M100.7 54.6h.8M127.1 50.6h.8M67.8 74.6h.8M82.9 53.8h.8M64.4 60.9h.8M93.0 51.6h.8M124.1 65.2h.8M129.9 68.9h.8M72.3 65.9h.8M71.8 62.1h.8M61.9 63.6h.8M64.5 68.5h.8M99.3 70.6h.8M129.3 59.2h.8M135.9 68.5h.8M67.0 61.5h.8M140.9 70.0h.8M64.0 52.1h.8M67.7 67.8h.8M57.8 68.9h.8M58.4 66.9h.8M136.0 68.6h.8M133.9 74.9h.8M67.2 59.8h.8M58.7 58.3h.8M59.6 56.7h.8M63.2 86.5h.8M75.0 60.8h.8M116.1 62.4h.8M62.0 41.5h.8M140.9 55.4h.8M133.8 49.2h.8M72.2 60.5h.8M89.8 59.9h.8M120.2 57.1h.8M63.9 58.7h.8M123.5 75.8h.8M138.3 68.2h.8M73.1 67.2h.8M58.6 68.1h.8M58.0 62.3h.8M127.9 54.9h.8M131.7 67.8h.8M67.3 56.5h.8M61.9 50.9h.8M132.3 52.3h.8M115.0 61.1h.8M114.7 52.9h.8M138.0 61.1h.8M58.9 94.9h.8M87.4 58.4h.8M131.9 66.9h.8M87.3 73.0h.8M57.4 67.5h.8M114.2 72.1h.8M60.6 48.2h.8M132.5 62.2h.8M84.9 72.7h.8M76.3 83.3h.8M105.2 49.9h.8M127.9 66.8h.8M70.0 58.4h.8M110.7 50.2h.8M101.4 47.9h.8M64.4 65.0h.8M59.8 63.5h.8M67.7 45.9h.8M60.7 57.6h.8M49.6 54.8h.8M120.8 64.8h.8M104.6 55.4h.8M124.6 58.3h.8M71.4 41.5h.8M125.5 76.3h.8M135.7 49.3h.8M127.2 51.3h.8M56.4 56.5h.8M65.9 75.6h.8M123.3 64.3h.8M64.9 61.2h.8M69.1 73.6h.8M128.9 55.2h.8M110.5 67.8h.8M65.8 52.9h.8M133.5 75.5h.8M55.6 80.2h.8M110.6 60.0h.8M61.3 56.9h.8M64.6 63.5h.8M125.7 57.3h.8M133.6 53.5h.8M61.5 71.3h.8M72.2 51.2h.8M110.3 60.5h.8M90.9 51.5h.8M58.9 56.2h.8M130.2 50.4h.8M124.8 55.7h.8M89.2 43.3h.8M90.9 63.8h.8M63.1 65.2h.8M110.2 70.9h.8M133.5 35.9h.8M58.5 61.3h.8M133.5 70.9h.8M56.1 68.7h.8M53.4 58.0h.8M69.0 61.5h.8M57.2 60.0h.8M64.2 64.6h.8M80.5 47.7h.8M132.3 70.5h.8M69.2 73.7h.8M50.2 64.3h.8M118.6 71.5h.8M58.2 60.9h.8M58.9 61.4h.8M52.2 36.2h.8M131.7 66.7h.8M59.5 61.6h.8M53.4 53.4h.8M123.4 74.9h.8M93.7 68.9h.8M125.8 74.6h.8M65.6 53.8h.8M77.5 59.9h.8M113.7 63.8h.8M63.9 67.0h.8M94.2 55.7h.8M134.6 67.8h.8M95.8 53.3h.8M106.5 55.9h.8M127.3 63.3h.8M68.4 58.6h.8M135.6 62.5h.8M136.5 37.1h.8M113.7 50.6h.8M54.2 72.2h.8M61.4 63.3h.8M138.8 46.3h.8M63.9 58.4h.8M68.9 44.4h.8M66.6 48.0h.8M50.0 52.8h.8M92.5 57.9h.8M135.9 67.9h.8M72.9 66.3h.8M103.7 67.5h.8M125.0 72.4h.8M132.0 61.8h.8M135.6 50.0h.8M59.8 52.9h.8M83.8 74.5h.8M125.4 75.3h.8M52.7 69.2h.8M61.3 71.9h.8M61.8 47.5h.8M67.9 70.9h.8M124.1 50.5h.8M131.5 67.8h.8M90.5 55.5h.8M63.9 69.7h.8M67.5 69.0h.8M64.2 71.4h.8M120.8 64.3h.8M129.6 57.5h.8M56.3 46.6h.8M138.9 61.3h.8M73.5 51.0h.8M77.3 56.9h.8M127.7 63.7h.8M105.6 74.5h.8M98.2 62.8h.8M130.4 67.6h.8M56.1 46.7h.8M69.9 59.8h.8M120.9 71.4h.8M122.8 75.0h.8M100.5 71.6h.8M123.5 69.2h.8M63.8 65.7h.8M53.8 49.1h.8M80.2 66.5h.8M133.6 51.8h.8M121.8 71.5h.8M57.9 29.6h.8M55.8 76.7h.8M132.3 49.0h.8M67.6 67.4h.8M133.3 70.9h.8M53.4 73.2h.8M87.4 55.4h.8M65.8 65.8h.8M113.6 48.2h.8M112.8 68.1h.8M103.6 72.3h.8M58.3 69.1h.8M117.1 54.7h.8M130.3 69.5h.8M135.0 43.1h.8M107.5 66.4h.8M53.5 52.5h.8M57.7 61.4h.8M67.2 70.4h.8M137.9 55.6h.8M121.5 51.2h.8M98.4 49.1h.8M139.4 84.3h.8M104.8 63.4h.8M129.6 71.1h.8M51.4 35.5h.8M82.5 63.3h.8M60.2 73.3h.8M60.3 57.6h.8M85.0 47.5h.8M97.0 65.6h.8M111.0 74.6h.8M102.8 59.5h.8M127.7 57.8h.8M123.3 57.3h.8M130.8 50.3h.8M50.8 49.4h.8M118.3 57.8h.8M58.0 68.6h.8M61.0 56.0h.8M138.0 53.8h.8M137.2 59.1h.8M54.1 64.1h.8M71.0 60.8h.8M129.1 66.9h.8M58.3 57.0h.8M127.7 59.4h.8M130.4 59.2h.8M50.0 66.9h.8M84.1 56.4h.8M91.8 54.8h.8M130.5 74.9h.8M114.2 53.6h.8M61.3 74.3h.8M63.9 72.8h.8M73.1 60.4h.8M126.0 74.0h.8M130.3 44.5h.8M70.9 46.6h.8M126.1 60.5h.8M85.0 52.7h.8M127.6 65.0h.8M128.6 50.8h.8M118.2 49.3h.8M140.5 33.2h.8M124.3 62.2h.8M118.5 69.3h.8M110.5 59.8h.8M65.0 68.1h.8M61.6 65.4h.8M70.1 57.5h.8M135.8 51.8h.8M69.2 58.2h.8M88.9 66.3h.8M67.1 45.0h.8M137.9 93.8h.8M63.6 67.7h.8M136.6 66.6h.8M78.9 66.1h.8M77.4 62.4h.8M110.6 63.5h.8M131.0 54.2h.8M61.1 67.0h.8M65.4 54.0h.8M86.4 56.9h.8M88.8 42.3h.8M74.6 50.5h.8M57.4 66.0h.8M98.7 69.2h.8M96.7 59.0h.8M117.8 70.4h.8M68.4 76.0h.8M117.8 44.8h.8M117.2 50.8h.8M55.9 58.0h.8M97.9 67.5h.8M138.9 72.8h.8M124.9 65.8h.8M138.5 65.0h.8M98.3 70.6h.8M127.7 67.2h.8M61.7 71.6h.8M52.3 69.6h.8M65.7 58.2h.8M81.1 69.9h.8M77.4 55.8h.8M130.2 66.9h.8M68.3 65.0h.8M121.8 59.0h.8M64.7 52.1h.8M114.1 55.1h.8M121.8 75.5h.8M69.8 61.9h.8M131.1 41.8h.8M127.8 53.1h.8M128.0 57.2h.8M68.4 67.2h.8M57.8 51.8h.8M90.3 72.1h.8M64.0 65.8h.8M70.1 67.9h.8M59.9 62.7h.8M137.3 52.8h.8M50.1 59.8h.8M121.1 66.0h.8M133.1 67.1h.8M75.2 71.4h.8M67.1 54.3h.8M64.9 41.6h.8M123.1 68.1h.8M111.0 73.2h.8M126.7 59.7h.8M66.8 43.1h.8M75.5 50.7h.8M56.8 83.5h.8M54.3 58.2h.8M138.8 63.7h.8M133.1 66.4h.8M128.6 69.4h.8M71.2 84.5h.8M136.7 66.4h.8M68.3 57.9h.8M132.6 62.2h.8M117.6 49.0h.8M92.8 45.1h.8M131.3 65.9h.8M135.7 53.4h.8M58.6 64.7h.8M125.3 75.0h.8M61.8 67.4h.8M70.1 51.6h.8M57.7 51.2h.8M103.8 61.1h.8M122.8 74.8h.8M60.1 60.9h.8M69.5 45.9h.8M68.4 43.6h.8M94.2 70.3h.8M93.9 57.7h.8M58.3 88.7h.8M88.1 53.5h.8M93.6 67.6h.8M61.2 74.9h.8M136.2 43.1h.8M72.4 57.5h.8M61.8 66.1h.8M112.0 55.8h.8M62.0 62.3h.8M130.8 69.5h.8M125.7 44.1h.8M81.4 67.0h.8M65.2 59.3h.8M137.3 51.6h.8M127.9 67.5h.8M139.7 52.1h.8M68.5 65.9h.8M85.8 60.8h.8M64.9 34.6h.8M116.3 65.6h.8M89.8 53.4h.8M135.0 60.7h.8M63.7 71.1h.8M134.8 45.2h.8M93.9 50.2h.8M89.3 56.2h.8M77.7 73.6h.8M129.6 57.5h.8M56.7 51.2h.8M111.9 54.6h.8M128.3 48.4h.8M73.7 59.2h.8M95.9 56.8h.8M129.0 67.0h.8M124.6 49.0h.8M66.4 61.9h.8M57.5 76.4h.8M93.4 49.5h.8M117.9 53.9h.8M122.2 69.7h.8M119.7 53.9h.8M53.5 62.8h.8M58.1 72.4h.8M121.1 59.7h.8M61.3 61.4h.8M102.5 57.4h.8M126.3 84.0h.8M92.6 62.1h.8M63.8 67.9h.8M98.4 40.0h.8M56.2 72.0h.8M60.0 53.0h.8M102.4 53.5h.8M120.7 60.2h.8M71.9 66.1h.8M139.1 66.2h.8M56.5 66.8h.8M60.1 56.9h.8M98.8 79.3h.8M87.4 60.2h.8M108.3 72.2h.8M75.4 27.2h.8M138.1 82.8h.8M92.5 62.0h.8M119.4 68.6h.8M60.8 52.0h.8M66.6 68.4h.8M123.9 59.1h.8M97.9 71.8h.8M61.0 61.9h.8M59.3 58.5h.8M59.7 60.1h.8M68.6 70.9h.8M52.7 63.2h.8M82.7 57.9h.8M132.7 73.2h.8M69.3 46.4h.8M128.6 86.3h.8M66.2 69.5h.8M55.0 75.8h.8M69.0 61.3h.8M121.4 74.6h.8M122.0 73.1h.8M132.0 69.1h.8M62.2 48.0h.8M60.7 75.6h.8M63.8 61.9h.8M67.7 78.2h.8M104.3 59.0h.8M57.6 66.9h.8M124.5 57.3h.8M110.3 57.8h.8M109.6 56.1h.8M52.8 67.9h.8M136.5 46.5h.8M114.0 66.6h.8M121.6 66.1h.8M121.6 76.0h.8M115.5 60.2h.8M75.5 60.1h.8M81.5 42.6h.8M138.6 73.2h.8M108.8 60.1h.8M116.1 55.4h.8M71.0 53.7h.8M89.9 61.0h.8M61.8 59.6h.8M65.1 60.2h.8M68.6 85.5h.8M55.7 70.9h.8M62.7 73.1h.8M68.4 58.3h.8M135.2 66.5h.8M79.2 59.3h.8M54.4 71.8h.8M56.2 72.4h.8M117.2 64.2h.8M122.4 63.4h.8M126.8 48.3h.8M123.5 59.1h.8M57.1 70.9h.8M111.9 68.0h.8M129.5 72.1h.8M114.3 67.7h.8M130.0 52.9h.8M59.5 68.3h.8M65.6 57.5h.8M92.0 73.3h.8M118.2 84.2h.8M125.4 54.0h.8M68.6 87.8h.8M121.2 56.4h.8M86.9 54.2h.8M106.1 55.6h.8M98.8 56.1h.8M131.3 54.6h.8M63.2 66.1h.8M84.4 50.4h.8M132.7 68.4h.8M132.3 51.8h.8M133.7 53.8h.8M53.9 68.0h.8M127.6 66.5h.8M57.5 80.1h.8M57.1 61.3h.8M60.1 80.5h.8M57.8 72.5h.8M55.1 43.9h.8M86.4 65.5h.8M56.2 58.4h.8M139.5 58.8h.8M106.6 54.9h.8M138.7 80.1h.8M60.0 61.5h.8M66.1 74.2h.8M63.1 61.3h.8M56.0 55.6h.8M125.7 62.5h.8M102.0 67.4h.8M59.6 91.3h.8M64.4 52.4h.8M104.4 65.0h.8M127.0 81.2h.8M50.3 60.1h.8M115.5 65.5h.8M58.5 49.5h.8M62.9 82.1h.8M62.4 66.0h.8M59.4 76.4h.8M55.9 63.6h.8M68.9 80.8h.8M124.0 75.3h.8M88.3 68.9h.8M111.0 57.6h.8M51.0 48.7h.8M62.4 38.8h.8M55.3 50.7h.8M99.5 52.1h.8M59.7 50.4h.8M60.6 60.3h.8M135.4 39.1h.8M123.6 56.6h.8M61.5 51.2h.8M86.9 70.9h.8M111.3 80.7h.8M58.7 77.7h.8M54.2 77.6h.8M122.8 61.7h.8M97.3 72.0h.8M127.3 55.9h.8M102.8 71.5h.8M57.3 76.8h.8M116.4 64.5h.8M86.8 70.0h.8M111.6 67.9h.8M120.9 60.3h.8M105.3 72.6h.8M61.0 72.1h.8M60.7 58.2h.8M112.6 55.1h.8M132.5 53.8h.8M111.8 68.3h.8M129.2 44.9h.8M136.0 67.8h.8M66.2 59.7h.8M78.4 63.2h.8M134.0 64.3h.8M65.1 63.5h.8M129.1 66.9h.8M58.9 63.0h.8M139.8 60.3h.8M59.7 51.9h.8M65.7 63.6h.8M118.0 56.3h.8M118.6 65.9h.8M137.2 62.7h.8M67.9 83.4h.8M82.4 53.1h.8M133.6 62.1h.8M111.0 59.1h.8M63.8 61.4h.8M140.2 56.3h.8M107.8 59.6h.8M123.4 54.9h.8M124.1 58.9h.8M128.1 57.3h.8M79.5 52.3h.8M80.3 72.9h.8M58.7 68.2h.8M120.3 73.4h.8M118.7 63.6h.8M123.5 66.5h.8M140.9 72.8h.8M111.1 69.3h.8M54.0 72.2h.8M60.4 44.3h.8M127.4 74.0h.8M61.0 53.8h.8M60.2 75.8h.8M120.6 66.5h.8M87.4 45.8h.8M124.8 48.7h.8M59.1 70.7h.8M125.7 35.2h.8M108.8 62.7h.8M139.8 73.0h.8M69.1 71.5h.8M54.6 44.5h.8M50.7 65.6h.8M57.3 51.9h.8M100.4 60.2h.8M123.5 64.8h.8M133.8 62.7h.8M90.9 60.2h.8M68.8 85.1h.8M136.1 60.7h.8M69.9 72.8h.8M58.9 55.2h.8M114.8 81.9h.8M132.1 65.6h.8M74.7 54.9h.8M118.5 71.9h.8M50.5 69.5h.8M139.6 62.1h.8M63.9 77.8h.8M108.2 67.6h.8M116.4 68.5h.8M114.4 73.1h.8M64.5 68.4h.8M64.4 75.5h.8M134.1 36.8h.8M125.5 57.5h.8M61.5 74.0h.8M136.3 64.6h.8M128.5 70.6h.8M134.1 54.8h.8M124.3 67.3h.8M126.8 65.6h.8M128.2 46.3h.8M56.0 64.5h.8M61.9 60.4h.8M59.2 74.1h.8M61.8 58.2h.8M137.2 69.7h.8M56.2 73.3h.8M104.0 57.1h.8M140.1 63.4h.8M118.0 74.6h.8M112.7 60.2h.8M62.5 68.7h.8M140.1 54.7h.8M119.3 61.4h.8M57.9 68.0h.8M57.6 45.5h.8M59.5 71.7h.8M114.3 54.4h.8M113.4 61.2h.8M130.6 82.6h.8M80.6 70.8h.8M62.1 72.8h.8M120.9 67.6h.8M106.9 67.8h.8M63.5 78.1h.8M54.2 67.8h.8M65.6 52.3h.8M106.3 59.0h.8M134.2 47.0h.8M100.6 65.2h.8M131.6 51.8h.8M75.7 67.0h.8M64.8 63.3h.8M68.9 63.9h.8M137.5 74.2h.8M121.8 54.7h.8M115.0 66.5h.8M121.8 58.6h.8M121.1 51.6h.8M122.5 70.7h.8M121.6 63.6h.8M112.8 57.2h.8M76.8 57.6h.8M96.0 66.0h.8M98.6 67.7h.8M130.7 67.0h.8M106.4 68.4h.8M129.2 90.5h.8M122.5 61.1h.8M64.8 56.5h.8M59.5 64.9h.8M89.2 40.7h.8M60.5 42.9h.8M113.8 55.8h.8M61.0 69.7h.8M95.6 65.3h.8M57.6 59.0h.8M111.6 54.4h.8M55.4 41.6h.8M55.9 59.1h.8M65.8 44.1h.8M116.1 53.7h.8M65.9 55.2h.8M64.6 47.4h.8M124.9 76.3h.8M69.5 59.7h.8M133.6 47.3h.8M69.5 60.8h.8M76.2 58.9h.8M57.4 54.4h.8M118.8 65.6h.8M59.7 58.4h.8M61.8 56.2h.8M116.7 74.5h.8M70.7 67.8h.8M64.7 61.0h.8M140.5 62.2h.8M65.9 59.4h.8M63.6 32.5h.8M137.8 54.9h.8M132.1 70.7h.8M71.0 66.4h.8M130.6 89.3h.8M132.9 55.1h.8M58.6 62.0h.8M53.5 57.8h.8M130.0 65.3h.8M121.7 50.7h.8M103.8 60.8h.8M119.2 79.1h.8M124.4 66.9h.8M99.5 68.3h.8M112.4 75.0h.8M129.8 55.7h.8M65.3 51.7h.8M82.4 67.0h.8M53.7 44.2h.8M131.2 50.0h.8M67.7 82.1h.8M132.3 64.3h.8M132.4 67.6h.8M63.1 52.6h.8M56.8 50.5h.8M58.7 49.6h.8M91.0 62.3h.8M124.4 74.8h.8M102.2 55.7h.8M125.7 56.9h.8M129.8 63.6h.8M128.0 73.1h.8M118.1 47.5h.8M64.9 53.4h.8M127.6 72.2h.8M64.2 59.4h.8M105.5 55.2h.8M60.6 64.1h.8M133.9 68.3h.8M61.5 35.8h.8M52.4 65.6h.8M105.3 70.6h.8M111.9 61.2h.8M128.8 57.3h.8M103.9 39.5h.8M133.6 65.7h.8M64.8 72.1h.8M65.2 64.6h.8M62.4 74.3h.8M134.4 32.2h.8M111.0 66.3h.8M122.7 67.2h.8M96.5 59.5h.8M80.0 45.7h.8M127.3 65.7h.8M74.8 55.1h.8M68.4 75.7h.8M118.5 71.9h.8M79.6 50.7h.8M134.4 58.2h.8M86.4 46.7h.8M62.5 65.3h.8M125.6 44.8h.8M131.8 50.4h.8M136.2 52.2h.8M136.9 67.8h.8M56.1 51.5h.8M138.1 60.4h.8M138.2 67.4h.8M137.5 72.4h.8M140.8 61.8h.8M76.6 65.7h.8M59.3 52.9h.8M130.9 66.6h.8M115.0 53.2h.8M118.3 62.7h.8M58.1 47.6h.8M67.9 69.3h.8M130.4 58.7h.8M119.2 76.1h.8M66.2 57.6h.8M138.0 59.1h.8M67.8 49.9h.8M76.9 58.5h.8M88.4 70.8h.8M121.5 61.1h.8M98.4 77.2h.8M109.7 39.7h.8M130.0 78.5h.8M128.1 58.0h.8M88.9 59.8h.8M67.8 74.6h.8M52.7 68.2h.8M129.3 62.0h.8M79.0 71.9h.8M67.9 63.7h.8M127.5 68.2h.8M133.3 58.5h.8M129.4 52.7h.8M136.6 60.1h.8M136.6 57.2h.8M57.2 58.7h.8M118.1 50.8h.8M92.0 48.8h.8M73.5 68.0h.8M73.0 46.2h.8M80.4 73.6h.8M130.9 56.6h.8M133.7 65.3h.8M52.1 72.7h.8M111.7 69.6h.8M67.3 50.6h.8" stroke="#0a0a0a" stroke-width="0.8" fill="none" opacity="0.85"/>
<path d="M56.9 59.0h.8M62.9 75.0h.8M128.8 59.0h.8M97.6 57.6h.8M54.7 70.6h.8M115.0 54.1h.8M131.6 51.7h.8M58.9 65.5h.8M112.1 70.9h.8M140.2 59.0h.8M54.1 59.9h.8M96.0 53.8h.8M65.2 54.6h.8M84.4 51.2h.8M100.9 64.1h.8M92.4 58.0h.8M125.7 68.9h.8M56.9 53.4h.8M115.6 68.5h.8M118.9 69.3h.8M130.1 59.0h.8M61.7 40.1h.8M76.1 66.8h.8M69.0 51.9h.8M131.9 60.2h.8M125.1 71.1h.8M122.5 67.4h.8M68.4 68.7h.8M50.7 42.3h.8M78.7 58.3h.8M135.8 72.8h.8M121.2 50.0h.8M138.2 54.0h.8M115.2 73.2h.8M138.8 77.1h.8M61.0 68.8h.8M102.7 50.6h.8M62.7 48.3h.8M62.0 77.9h.8M136.7 69.5h.8M128.9 56.5h.8M111.3 51.4h.8M133.4 52.0h.8M134.0 64.9h.8M140.4 59.9h.8M93.6 53.5h.8M128.0 49.9h.8M136.2 64.0h.8M137.2 67.9h.8M128.1 67.0h.8M135.0 60.3h.8M58.8 57.8h.8M109.5 63.9h.8M56.9 62.4h.8M101.5 66.8h.8M125.3 64.9h.8M99.4 64.5h.8M128.3 73.8h.8M57.9 61.7h.8M59.8 77.2h.8M68.2 66.5h.8M131.1 76.9h.8M119.6 58.3h.8M131.2 71.8h.8M113.2 73.1h.8M115.2 74.5h.8M135.1 39.1h.8M67.6 50.9h.8M62.5 77.8h.8M64.7 74.9h.8M116.8 67.2h.8M120.8 56.2h.8M131.8 62.2h.8M66.4 48.3h.8M121.6 73.0h.8M131.0 48.3h.8M67.1 63.1h.8M65.6 48.0h.8M68.2 69.9h.8M55.6 49.5h.8M105.1 63.3h.8M63.0 78.8h.8M105.7 55.5h.8M88.1 79.5h.8M123.8 64.7h.8M76.6 52.6h.8M132.1 52.8h.8M64.8 73.1h.8M139.1 73.8h.8M55.0 68.9h.8M123.6 61.6h.8M96.3 66.3h.8M75.4 62.3h.8M126.8 66.9h.8M125.3 71.3h.8M137.4 57.9h.8M67.9 68.7h.8M65.0 60.3h.8M70.2 61.2h.8M65.6 69.7h.8M66.6 87.4h.8M68.2 44.5h.8M125.7 64.1h.8M122.3 58.4h.8M112.1 44.7h.8M75.7 61.4h.8M119.9 64.9h.8M84.9 49.0h.8M131.1 76.5h.8M98.6 63.6h.8M126.2 69.6h.8M124.8 51.3h.8M112.9 69.7h.8M115.0 74.0h.8M120.3 70.1h.8M60.2 65.1h.8M62.7 74.9h.8M69.7 64.6h.8M107.2 58.7h.8M76.9 59.8h.8M123.8 59.6h.8M67.5 70.5h.8M130.7 68.1h.8M127.7 55.1h.8M59.1 82.3h.8M59.0 60.1h.8M65.0 67.9h.8M121.8 62.4h.8M95.9 57.9h.8M95.9 72.5h.8M63.6 48.9h.8M59.8 72.5h.8M67.8 66.8h.8M129.1 29.1h.8M79.8 65.5h.8M128.4 67.1h.8M121.3 64.9h.8M62.2 53.8h.8M110.3 58.6h.8M88.8 60.4h.8M59.1 64.5h.8M106.7 57.3h.8M140.8 63.5h.8M123.3 61.0h.8M64.8 65.4h.8M96.3 68.8h.8M59.0 49.8h.8M69.5 69.2h.8M117.7 62.6h.8M140.8 67.4h.8M64.5 76.8h.8M121.8 49.2h.8M69.6 48.9h.8M70.9 57.2h.8M86.2 54.1h.8M118.5 61.2h.8M134.6 69.9h.8M127.3 60.3h.8M66.9 65.8h.8M126.3 54.9h.8M91.1 64.3h.8M75.5 59.1h.8M135.3 64.6h.8M119.7 74.9h.8M64.4 75.3h.8M59.5 58.9h.8M109.1 49.0h.8M131.4 56.7h.8M76.4 52.8h.8M63.3 66.3h.8M70.8 49.4h.8M61.1 70.5h.8M102.7 67.0h.8M66.7 81.4h.8M106.2 53.5h.8M58.7 61.2h.8M112.5 52.7h.8M130.0 60.2h.8M111.8 44.7h.8M50.0 71.1h.8M130.5 46.2h.8M56.2 72.2h.8M69.2 62.0h.8M119.2 55.2h.8M124.8 54.4h.8M90.8 52.8h.8M54.6 37.0h.8M106.7 54.9h.8M59.6 53.2h.8M93.0 60.4h.8M124.6 62.0h.8M65.4 71.1h.8M68.9 60.1h.8M129.4 66.3h.8M55.5 74.1h.8M117.4 66.4h.8M131.0 64.2h.8M56.6 63.2h.8M67.7 64.5h.8M61.4 70.9h.8M116.4 60.1h.8M135.0 64.5h.8M107.5 71.4h.8M127.0 55.9h.8M85.4 73.3h.8M118.5 58.6h.8M107.1 46.0h.8M98.5 67.2h.8M126.6 48.4h.8M126.9 69.5h.8M57.3 71.3h.8M82.1 49.3h.8M109.1 52.8h.8M108.8 67.5h.8M56.3 61.2h.8M64.7 54.1h.8M62.4 57.3h.8M63.8 67.1h.8M138.1 66.5h.8M131.6 55.3h.8M60.4 69.7h.8M60.0 72.3h.8M52.9 90.5h.8M90.2 78.8h.8M67.7 61.3h.8M122.9 67.4h.8M80.9 74.3h.8M73.2 68.8h.8M62.5 81.1h.8M118.8 65.7h.8M136.5 66.8h.8M68.4 53.7h.8M61.9 57.4h.8M140.7 77.4h.8M107.9 72.6h.8M128.2 60.0h.8M138.3 46.6h.8M57.0 54.5h.8M50.1 65.9h.8M123.7 63.0h.8M65.6 66.8h.8M127.5 56.8h.8M56.4 61.4h.8M109.7 65.0h.8M66.1 56.1h.8M108.3 63.9h.8M62.5 38.9h.8M99.2 70.4h.8M66.9 44.8h.8M119.6 64.4h.8M86.5 75.8h.8M52.9 58.7h.8M86.8 70.0h.8M95.1 81.5h.8M137.4 69.1h.8M67.3 60.7h.8M74.8 65.8h.8M124.9 65.2h.8M58.6 52.2h.8M113.7 67.7h.8M79.6 63.3h.8M123.6 74.5h.8M128.6 64.8h.8M56.6 66.4h.8M66.9 58.0h.8M74.2 76.2h.8M107.1 60.0h.8M132.2 31.1h.8M65.0 85.7h.8M132.5 58.5h.8M122.6 57.3h.8M101.7 46.8h.8M91.0 73.5h.8M53.7 80.7h.8M134.9 69.3h.8M56.1 65.5h.8M138.3 71.4h.8M124.9 69.1h.8M73.5 66.3h.8M108.3 70.6h.8M53.9 48.9h.8M65.6 44.1h.8M70.2 60.2h.8M137.9 66.3h.8M135.1 70.4h.8M67.6 61.9h.8M128.9 66.8h.8M126.4 62.8h.8M124.2 66.2h.8M115.6 61.4h.8M59.8 54.8h.8M71.8 65.1h.8M60.4 48.1h.8M92.9 63.2h.8M113.3 73.5h.8M122.5 70.4h.8M101.6 58.1h.8M121.1 63.1h.8M123.3 77.7h.8M62.5 63.1h.8M71.2 80.2h.8M128.1 74.6h.8M62.7 67.6h.8M87.8 69.1h.8M62.2 46.6h.8M127.3 63.8h.8M129.8 71.4h.8M130.0 65.2h.8M66.5 58.0h.8M60.9 80.3h.8M139.5 74.7h.8M124.6 60.6h.8M63.7 50.0h.8M66.5 73.1h.8M75.9 44.7h.8M61.3 88.5h.8M131.0 60.6h.8M134.8 83.2h.8M61.2 59.6h.8M67.5 68.1h.8M106.9 70.4h.8M72.5 68.1h.8M69.3 67.6h.8M114.0 62.6h.8M74.9 63.9h.8M137.6 54.9h.8M139.9 70.5h.8M62.7 61.8h.8M125.0 51.0h.8M132.2 51.0h.8M60.5 58.8h.8M52.4 52.7h.8M58.6 50.0h.8M122.1 56.9h.8M103.9 68.1h.8M59.0 59.9h.8M65.9 59.0h.8M59.1 66.1h.8M61.6 42.3h.8M97.0 63.3h.8M111.1 55.0h.8M57.3 79.5h.8M66.8 54.9h.8M139.9 76.4h.8M59.1 63.4h.8M59.2 52.8h.8M60.4 47.5h.8M109.1 69.8h.8M139.8 54.9h.8M104.9 70.6h.8M122.3 64.7h.8M70.7 68.7h.8M127.9 63.5h.8M57.9 45.1h.8M137.1 70.6h.8M64.9 71.9h.8M66.7 53.1h.8M120.9 73.5h.8M132.3 57.1h.8M59.6 52.4h.8M70.5 63.5h.8M53.2 52.6h.8M58.6 68.9h.8M138.2 52.2h.8M109.0 85.0h.8M55.6 53.5h.8M52.9 76.1h.8M52.3 78.0h.8M116.2 37.6h.8M131.6 70.7h.8M58.4 69.7h.8M62.6 52.8h.8M129.5 51.3h.8M138.8 56.7h.8M103.3 55.7h.8M120.2 50.2h.8M131.9 55.6h.8M98.6 62.9h.8M129.1 51.3h.8M138.3 59.6h.8M127.6 58.2h.8M52.4 78.5h.8M71.5 73.7h.8M131.4 55.3h.8M84.5 66.6h.8M127.2 57.5h.8M71.9 53.5h.8M111.2 50.7h.8M55.2 60.0h.8M130.6 57.2h.8M58.3 65.6h.8M98.2 70.0h.8M138.1 50.0h.8M118.4 56.2h.8M93.5 49.7h.8M94.4 66.1h.8M53.0 61.5h.8M116.4 43.1h.8M123.3 53.3h.8M77.4 62.7h.8M137.0 67.2h.8M53.5 78.1h.8M80.9 60.8h.8M130.6 56.2h.8M68.3 69.3h.8M80.1 62.0h.8M102.7 60.2h.8M63.2 70.2h.8M131.0 60.1h.8M64.4 54.5h.8M123.0 53.2h.8M81.2 65.0h.8M103.9 66.4h.8M57.9 57.4h.8M98.6 62.5h.8M82.2 53.8h.8M131.2 56.2h.8M56.3 62.9h.8M66.0 70.1h.8M88.0 82.1h.8M66.1 51.7h.8M137.1 81.7h.8M93.0 62.2h.8M70.8 68.8h.8M127.0 56.5h.8M59.6 65.8h.8M50.5 66.0h.8M132.9 62.6h.8M93.1 74.0h.8M116.6 64.0h.8M131.8 67.7h.8M61.1 47.2h.8M140.2 54.6h.8M68.7 56.3h.8M95.2 61.5h.8M60.0 68.5h.8M132.6 54.0h.8M54.0 74.9h.8M116.0 28.4h.8M90.1 41.6h.8M124.5 54.6h.8M54.5 67.9h.8M73.3 55.5h.8M63.9 55.7h.8M132.6 62.2h.8M72.2 55.3h.8M129.6 68.6h.8M126.7 67.5h.8M130.1 46.1h.8M123.4 48.5h.8M137.1 74.0h.8M66.1 50.3h.8M124.6 64.4h.8M129.0 53.1h.8M134.6 52.3h.8M133.8 54.1h.8M124.4 62.8h.8M102.3 71.2h.8M141.4 66.0h.8M63.3 74.7h.8M60.9 74.1h.8M137.6 73.1h.8M105.2 65.5h.8M59.1 60.2h.8M79.7 55.2h.8M57.1 61.1h.8M66.5 40.7h.8M66.8 72.3h.8M95.5 77.1h.8M103.8 62.5h.8M123.0 50.2h.8M135.7 88.7h.8M54.9 61.2h.8M76.9 59.2h.8M124.5 74.1h.8M119.4 55.7h.8M113.6 75.5h.8M64.7 56.8h.8M65.6 64.6h.8M67.8 46.0h.8M122.2 75.8h.8M56.9 65.1h.8M127.6 66.2h.8M133.2 62.8h.8M115.5 67.5h.8M64.3 68.4h.8M74.8 55.8h.8M60.5 60.1h.8M125.9 56.6h.8M63.0 66.9h.8M72.2 51.7h.8M86.7 47.8h.8M55.3 68.6h.8M122.7 53.8h.8M115.2 65.6h.8M113.3 58.2h.8M133.0 45.6h.8M74.2 73.1h.8M70.1 71.5h.8M117.4 65.8h.8M67.2 66.2h.8M123.3 65.1h.8M69.2 61.4h.8M130.2 66.3h.8M76.2 51.8h.8M124.2 47.2h.8M67.0 61.7h.8M59.1 48.7h.8M58.2 54.9h.8M136.1 56.5h.8M131.4 58.8h.8M101.4 92.6h.8M133.8 69.8h.8M75.5 58.5h.8M108.0 47.0h.8M50.1 60.5h.8M75.5 58.1h.8M80.5 73.3h.8M62.2 67.9h.8M134.8 51.6h.8M133.2 42.0h.8M64.6 73.3h.8M120.7 68.7h.8M82.1 55.2h.8M128.1 58.4h.8M72.4 63.1h.8M119.5 63.3h.8M105.2 62.3h.8M131.4 67.2h.8M136.8 75.7h.8M106.7 57.6h.8M88.6 39.1h.8M130.1 60.7h.8M128.5 54.6h.8M61.0 82.8h.8M62.5 49.6h.8M76.3 76.5h.8M75.5 56.2h.8M135.8 62.3h.8M61.5 61.8h.8M139.2 41.0h.8M121.8 73.3h.8M68.6 52.3h.8M126.4 56.5h.8M116.1 49.4h.8M95.9 76.2h.8M130.8 52.1h.8M131.0 85.5h.8M130.9 78.3h.8M86.3 68.8h.8M130.7 49.8h.8M137.7 65.7h.8M62.5 59.3h.8M63.1 58.4h.8M128.6 85.6h.8M68.7 62.9h.8M133.4 55.1h.8M60.8 54.3h.8M57.2 61.0h.8M65.6 52.0h.8M139.6 74.9h.8M96.0 57.1h.8M79.8 67.0h.8M133.1 50.2h.8M112.8 64.8h.8M58.7 51.8h.8M56.6 63.1h.8M71.4 76.3h.8M61.2 50.0h.8M105.6 52.7h.8M115.9 63.9h.8M132.0 52.4h.8M126.4 52.1h.8M117.7 60.0h.8M62.5 52.8h.8M134.7 50.4h.8M72.7 71.5h.8M121.8 52.7h.8M53.5 56.7h.8M57.8 58.8h.8M56.0 41.4h.8M138.3 67.6h.8M97.0 69.1h.8M132.2 53.9h.8M125.0 66.6h.8M127.0 55.8h.8M85.3 60.6h.8M117.9 63.0h.8M49.0 46.0h.8M58.4 60.8h.8M135.3 56.7h.8M130.5 58.6h.8M68.7 47.5h.8M121.0 69.4h.8M128.7 70.8h.8M59.2 43.6h.8M108.0 58.7h.8M116.7 57.7h.8M80.2 69.9h.8M65.5 65.1h.8M62.4 68.8h.8M58.7 51.8h.8M105.2 69.9h.8M62.7 64.4h.8M87.0 55.9h.8M66.8 61.8h.8M51.7 49.1h.8M71.6 82.8h.8M127.8 67.3h.8M114.7 72.1h.8M114.8 64.3h.8M68.9 73.3h.8M113.6 71.1h.8M122.1 60.2h.8M131.2 71.2h.8M117.9 70.0h.8M66.8 54.2h.8M63.1 45.9h.8M89.1 66.2h.8M116.0 52.9h.8M130.2 51.9h.8M53.6 47.2h.8M121.2 77.4h.8M127.2 73.8h.8M126.8 49.6h.8M110.8 51.7h.8M72.8 68.5h.8M83.8 65.4h.8M84.2 51.9h.8M83.0 78.6h.8M50.1 59.9h.8M123.6 59.5h.8M102.0 60.2h.8M130.4 60.5h.8M90.5 79.4h.8M127.7 66.8h.8M48.2 76.6h.8M133.0 61.9h.8M68.9 55.8h.8M81.2 75.0h.8M127.1 73.2h.8M63.6 59.8h.8M72.3 57.9h.8M59.2 60.4h.8M127.6 58.7h.8M62.1 34.6h.8M62.4 48.1h.8M120.8 59.5h.8M62.3 54.3h.8M56.4 57.9h.8M133.4 74.9h.8M53.8 61.7h.8M59.1 63.8h.8M130.3 72.4h.8M130.4 79.7h.8M136.0 77.0h.8M54.1 63.9h.8M84.1 73.0h.8M51.7 60.5h.8M57.6 56.9h.8M72.4 65.6h.8M56.3 36.3h.8M126.4 65.2h.8M55.7 65.6h.8M67.1 57.2h.8M132.1 68.1h.8M106.0 65.8h.8M115.4 67.2h.8M129.6 57.8h.8M108.2 50.6h.8M140.0 64.0h.8M108.3 71.8h.8M69.4 45.9h.8M138.2 51.3h.8M118.0 46.3h.8M63.0 47.1h.8M60.3 34.3h.8M116.5 57.3h.8M140.1 70.4h.8M96.8 53.3h.8M79.4 55.3h.8M89.8 65.1h.8M139.6 42.1h.8M64.8 41.0h.8M52.7 78.5h.8M53.5 61.1h.8M109.5 77.0h.8M125.5 69.4h.8M70.9 74.1h.8M107.4 61.6h.8M66.2 66.3h.8M50.8 54.7h.8M58.1 49.5h.8M127.6 59.4h.8M50.8 53.8h.8M63.5 63.9h.8M83.8 68.0h.8M50.3 45.4h.8M135.7 59.5h.8M109.8 66.4h.8M89.5 53.9h.8M130.3 60.9h.8M101.5 66.1h.8M70.5 77.2h.8M78.3 50.1h.8M137.5 54.8h.8M56.7 62.1h.8M68.5 54.4h.8M68.9 76.2h.8M132.6 64.2h.8M66.1 87.0h.8M125.5 50.5h.8M55.4 71.0h.8M131.7 71.7h.8M61.6 62.7h.8M133.9 69.4h.8M58.6 66.9h.8M114.1 34.6h.8M66.4 71.8h.8M81.0 48.4h.8M136.7 61.1h.8M56.2 48.9h.8M98.1 51.9h.8M107.6 45.4h.8M110.0 61.2h.8M66.0 51.5h.8M122.2 79.8h.8M132.7 64.6h.8M88.9 66.3h.8M124.3 71.8h.8M67.7 70.0h.8M73.8 70.4h.8M128.4 62.4h.8M129.5 66.9h.8M97.4 61.9h.8M129.4 57.5h.8M127.6 54.2h.8M120.7 56.9h.8M74.8 65.9h.8M129.4 58.9h.8M134.1 73.5h.8M126.7 43.5h.8M84.5 71.9h.8M60.9 46.9h.8M133.0 58.4h.8M67.6 55.5h.8M79.2 54.1h.8M53.9 67.3h.8M124.2 66.0h.8M121.6 40.9h.8M59.4 61.9h.8M97.3 49.2h.8M126.0 59.9h.8M103.1 57.5h.8M63.5 50.0h.8M71.8 68.7h.8M119.4 69.6h.8M82.3 87.2h.8M120.3 62.6h.8M55.7 54.3h.8M104.1 75.9h.8M68.0 63.9h.8M67.5 78.9h.8M109.6 74.4h.8M124.3 68.9h.8M67.2 75.6h.8M57.9 84.3h.8M93.4 45.3h.8M112.3 64.4h.8M68.3 73.7h.8M67.3 66.4h.8M79.0 40.4h.8M122.7 60.9h.8M134.6 62.2h.8M65.8 75.6h.8M51.8 49.4h.8M131.3 64.9h.8M112.5 49.1h.8M72.8 61.8h.8M132.7 77.5h.8M81.8 65.4h.8M124.2 81.4h.8M65.2 49.6h.8M130.5 59.2h.8M108.2 62.6h.8M141.1 38.2h.8M60.6 83.4h.8M138.2 63.5h.8M132.9 43.6h.8M61.0 65.4h.8M134.4 48.1h.8M134.3 55.1h.8M62.8 68.9h.8M62.7 73.3h.8M124.3 49.4h.8M134.7 65.0h.8M100.4 60.8h.8M116.9 85.3h.8M128.4 69.0h.8M56.3 62.2h.8M134.0 67.4h.8M67.5 77.6h.8M100.7 63.3h.8M96.7 69.6h.8M103.6 66.3h.8M135.3 61.1h.8M120.8 68.9h.8M121.9 41.1h.8M105.1 70.9h.8M135.8 65.9h.8M117.5 48.3h.8M56.7 59.9h.8M61.3 67.3h.8M60.1 50.9h.8M119.8 55.6h.8M56.4 69.8h.8M61.8 75.3h.8M137.8 60.7h.8M114.3 64.5h.8M100.9 66.2h.8M139.7 60.8h.8M109.4 58.5h.8M71.2 53.2h.8M53.1 52.6h.8M57.9 46.8h.8M52.5 67.7h.8M132.4 65.0h.8M138.0 55.5h.8M134.8 53.0h.8M127.7 50.6h.8M91.4 44.5h.8M53.1 68.3h.8M127.6 75.9h.8M56.4 56.9h.8M71.0 54.7h.8M120.6 63.6h.8M66.1 79.3h.8M128.3 52.8h.8M118.4 67.3h.8M112.5 56.8h.8M129.4 73.0h.8M87.1 69.7h.8M58.2 65.9h.8M63.8 66.0h.8M56.1 75.3h.8M128.9 73.5h.8M135.0 79.6h.8M76.1 57.6h.8M63.7 69.1h.8M67.9 71.9h.8M66.2 70.3h.8M124.6 71.6h.8M128.8 55.7h.8M62.3 62.2h.8M75.5 72.3h.8M100.4 63.9h.8M125.6 57.6h.8M116.7 72.7h.8M110.1 46.4h.8M67.9 80.2h.8M67.1 72.9h.8M53.9 62.5h.8M123.6 48.9h.8M79.1 72.5h.8M64.3 74.8h.8M106.9 53.8h.8M55.7 62.4h.8M128.9 70.6h.8M133.4 65.6h.8M116.5 54.9h.8M118.2 53.0h.8M117.0 50.0h.8M62.7 54.3h.8M52.0 61.6h.8M64.3 66.7h.8M99.2 62.0h.8M69.5 63.4h.8M128.8 40.9h.8M57.3 38.6h.8M127.3 73.7h.8M64.0 55.5h.8M115.4 69.0h.8M72.6 53.0h.8M124.6 83.0h.8M84.2 73.9h.8M121.5 90.5h.8M126.8 43.3h.8M137.2 75.1h.8M61.4 47.5h.8M68.7 84.0h.8M58.5 61.0h.8M124.5 54.2h.8M59.0 59.4h.8M82.2 69.1h.8M64.0 58.0h.8M54.6 43.9h.8M64.0 62.1h.8M84.5 58.0h.8M63.8 49.1h.8M64.7 34.3h.8M132.9 69.1h.8M87.3 52.3h.8M132.5 54.8h.8M134.0 68.9h.8M133.0 59.9h.8M57.4 56.6h.8M129.4 65.1h.8M72.4 74.0h.8M71.1 67.0h.8M123.1 60.1h.8M129.1 77.4h.8M58.8 69.6h.8M106.4 58.6h.8M119.7 48.3h.8M75.9 69.2h.8M56.5 51.1h.8M110.9 69.6h.8M82.1 57.3h.8M52.8 60.0h.8M61.5 70.7h.8M133.8 60.6h.8M133.4 47.4h.8M128.5 58.1h.8M129.0 62.2h.8M52.3 54.7h.8M134.9 42.8h.8M72.9 50.9h.8M58.6 54.5h.8M81.2 61.7h.8M65.2 69.3h.8M60.1 60.6h.8M115.7 59.7h.8M77.7 64.1h.8M139.3 60.6h.8M57.5 60.9h.8M94.5 67.5h.8M122.0 78.0h.8M140.3 54.2h.8M122.3 68.4h.8M133.4 73.1h.8M108.2 59.8h.8M70.4 59.6h.8M123.2 57.0h.8M134.5 63.4h.8M130.8 45.6h.8M121.1 73.6h.8M103.1 66.2h.8M57.7 48.6h.8M131.2 54.9h.8M112.9 50.7h.8M66.1 74.5h.8M130.5 55.3h.8M117.7 66.8h.8M70.0 71.0h.8M58.3 51.2h.8M63.1 66.5h.8M124.7 69.7h.8M118.6 61.6h.8M68.6 53.2h.8M129.7 43.8h.8M68.0 54.5h.8M127.7 56.1h.8M134.1 55.3h.8M122.3 47.7h.8M125.0 64.8h.8M72.4 67.3h.8M117.1 36.4h.8M126.1 64.9h.8M127.9 64.5h.8M91.3 65.3h.8M53.1 72.5h.8M113.8 56.8h.8M121.4 59.7h.8M138.4 66.1h.8M65.3 56.4h.8M135.3 63.4h.8M124.9 73.7h.8M54.2 56.3h.8M57.7 75.2h.8M122.7 50.9h.8M124.7 40.0h.8M135.6 51.2h.8M97.6 58.1h.8M51.4 56.2h.8M91.4 72.5h.8M62.5 71.7h.8M124.5 70.5h.8M123.6 60.0h.8M55.8 62.8h.8M131.3 73.7h.8M69.0 73.5h.8M65.2 71.3h.8M69.0 52.2h.8M129.5 74.4h.8M57.8 61.8h.8M135.6 60.3h.8M127.1 62.1h.8M122.6 59.3h.8M94.1 69.1h.8M59.5 69.5h.8M128.7 66.1h.8M58.1 64.1h.8M127.4 48.2h.8M85.7 51.9h.8M126.6 76.5h.8M59.6 71.7h.8M80.0 61.3h.8M98.9 67.1h.8M50.7 69.9h.8M131.3 62.9h.8M133.3 70.1h.8M89.5 71.3h.8M76.0 77.9h.8M135.0 58.9h.8M134.5 48.3h.8M123.0 62.5h.8M63.1 66.1h.8M54.5 69.8h.8M50.1 61.4h.8M57.3 56.0h.8M123.9 61.3h.8M140.3 44.2h.8M123.3 65.2h.8M55.7 60.0h.8M140.1 68.1h.8M121.9 58.9h.8M134.2 57.9h.8M64.3 63.5h.8M130.0 74.2h.8M128.4 56.6h.8M104.9 72.1h.8M133.0 56.8h.8M135.8 100.2h.8M126.9 60.2h.8M69.6 73.2h.8M138.8 77.6h.8M122.5 74.0h.8M73.9 64.1h.8M60.5 58.1h.8M124.3 55.4h.8M68.2 51.3h.8M52.9 44.8h.8M119.4 63.5h.8M126.7 61.9h.8M90.3 74.6h.8M50.2 67.0h.8M72.3 38.0h.8M124.8 50.2h.8M94.7 65.1h.8M83.1 71.2h.8M82.4 77.6h.8M104.1 45.3h.8M139.0 65.8h.8M77.4 59.3h.8M64.8 63.3h.8M126.6 61.1h.8M139.6 77.7h.8M105.0 75.1h.8M134.0 61.5h.8M80.8 57.9h.8M60.7 50.2h.8M115.2 68.9h.8M93.3 68.2h.8M130.9 63.5h.8M71.3 69.9h.8M130.8 64.6h.8M119.3 58.9h.8M129.5 52.9h.8M99.4 58.6h.8M133.6 70.4h.8M109.0 64.5h.8M102.5 51.1h.8M55.3 70.0h.8M110.9 61.2h.8M80.9 67.0h.8M98.7 68.6h.8M131.5 71.3h.8M55.4 47.2h.8M122.0 52.8h.8M114.2 59.8h.8M53.8 66.4h.8M86.2 62.0h.8M128.7 61.0h.8M121.3 48.6h.8M96.7 57.6h.8M122.9 96.5h.8M101.9 53.9h.8M140.8 55.7h.8M103.0 47.0h.8M71.4 79.8h.8M124.8 57.6h.8M103.3 66.9h.8M111.6 66.9h.8M130.9 48.5h.8M124.5 56.1h.8M137.0 70.1h.8M125.2 61.9h.8M63.1 86.7h.8M65.4 63.6h.8M58.2 56.8h.8M60.1 46.1h.8M56.7 63.2h.8M130.9 57.4h.8M62.9 59.3h.8M58.1 49.9h.8M118.5 42.0h.8M79.0 50.8h.8M78.2 65.0h.8M125.6 65.7h.8M84.6 56.6h.8M65.1 65.8h.8M133.5 56.2h.8M49.2 50.0h.8M52.2 59.7h.8M76.2 66.3h.8M67.0 56.0h.8M77.6 52.5h.8M59.0 74.5h.8M67.5 59.5h.8M65.8 55.0h.8M140.0 55.8h.8M55.7 88.9h.8M58.0 55.8h.8M59.7 58.3h.8M100.5 76.7h.8M121.1 50.2h.8M61.7 63.7h.8M79.8 82.1h.8M107.1 56.3h.8M131.2 63.5h.8M106.3 53.5h.8M70.8 53.4h.8M51.4 59.2h.8M54.9 53.1h.8M53.5 76.8h.8M89.8 55.8h.8M116.1 68.5h.8M127.5 63.9h.8M58.9 60.5h.8M127.4 50.8h.8M50.3 57.5h.8M69.9 53.7h.8M112.8 70.7h.8M127.3 74.9h.8M94.9 59.4h.8M113.2 59.2h.8M64.0 72.9h.8M63.6 65.1h.8M127.2 57.0h.8M125.9 47.2h.8M63.6 58.2h.8M119.3 56.8h.8M58.3 52.2h.8M71.5 49.6h.8M62.0 74.4h.8M128.1 46.5h.8M59.1 68.2h.8M60.5 51.0h.8M65.0 67.3h.8M57.3 59.9h.8M138.7 60.5h.8M139.0 60.3h.8M124.0 60.4h.8M59.2 79.3h.8M104.7 68.0h.8M115.3 58.0h.8M96.5 58.4h.8M123.4 53.7h.8M77.1 58.4h.8M62.7 51.6h.8M123.9 69.8h.8M70.4 70.8h.8M128.2 70.3h.8M99.4 60.8h.8M83.9 67.2h.8M93.0 77.2h.8M138.3 59.0h.8M139.5 66.6h.8M108.9 78.5h.8M57.6 56.5h.8M130.8 71.9h.8M53.4 66.1h.8M86.7 48.0h.8M117.7 67.1h.8M71.4 80.4h.8M72.0 72.2h.8M130.1 59.6h.8M128.3 72.6h.8M122.2 59.9h.8M131.8 49.2h.8M57.6 36.5h.8M58.0 45.7h.8M133.2 68.3h.8M135.7 76.0h.8M69.2 69.3h.8M96.0 62.9h.8M129.6 69.0h.8M64.9 54.3h.8M128.3 74.4h.8M126.5 63.2h.8M62.8 52.7h.8M123.8 92.2h.8M122.5 65.0h.8M125.7 76.4h.8M85.1 49.2h.8M103.3 50.7h.8M106.9 65.3h.8M112.0 70.4h.8M121.8 61.4h.8M128.3 57.3h.8M113.7 74.5h.8M93.3 68.4h.8M53.5 53.7h.8M132.1 76.4h.8M117.4 64.6h.8M109.8 56.6h.8M130.6 67.9h.8M51.7 57.5h.8M126.0 72.0h.8M91.8 68.0h.8M133.3 60.0h.8M113.8 68.5h.8M123.3 62.0h.8M139.5 66.6h.8M76.6 54.3h.8M108.0 49.0h.8M61.5 46.5h.8M87.8 47.8h.8M125.4 68.6h.8M63.4 62.4h.8M62.2 60.8h.8M56.1 60.3h.8M73.6 69.0h.8M93.2 64.2h.8M125.3 54.5h.8M115.7 66.1h.8M70.0 59.2h.8M79.6 64.1h.8M131.9 49.3h.8M69.3 60.0h.8M89.7 53.3h.8M76.4 62.0h.8M62.3 72.5h.8M107.6 62.3h.8M75.0 55.8h.8M89.5 57.5h.8M80.0 65.0h.8M84.6 54.0h.8M63.0 63.2h.8M68.3 71.4h.8M116.5 57.6h.8M103.4 57.9h.8M109.3 48.8h.8M53.5 57.1h.8M72.5 53.5h.8M125.3 70.8h.8M128.6 65.5h.8M60.4 58.6h.8M124.0 52.5h.8M111.9 79.6h.8M110.9 57.7h.8M63.1 81.1h.8M79.4 65.5h.8M126.9 76.2h.8M125.6 67.4h.8M124.4 67.6h.8M110.9 78.2h.8M57.7 61.6h.8M133.8 61.7h.8M137.5 66.9h.8M50.9 52.3h.8M92.8 62.2h.8M80.9 64.3h.8M64.6 71.3h.8M126.9 54.5h.8M100.6 47.4h.8M139.2 60.5h.8M124.2 60.7h.8M63.7 51.1h.8M63.6 66.7h.8M112.3 57.0h.8M117.9 64.3h.8M69.2 62.4h.8M71.4 60.5h.8M108.0 56.8h.8M131.8 48.1h.8M53.6 61.9h.8M89.7 65.8h.8M132.8 80.0h.8M109.4 59.2h.8M59.1 64.8h.8M61.9 47.4h.8M69.1 52.5h.8M50.2 63.7h.8M73.3 62.1h.8M128.4 61.5h.8M83.2 56.8h.8M126.6 71.3h.8M62.8 65.2h.8M135.1 55.4h.8M123.1 68.9h.8M60.0 64.2h.8M132.9 36.0h.8M132.5 56.0h.8M68.7 69.2h.8M68.2 78.9h.8M106.9 65.0h.8M56.4 38.1h.8M72.6 62.2h.8M131.5 45.1h.8M113.5 73.6h.8M122.2 51.3h.8M93.5 62.5h.8M61.6 59.8h.8M60.7 57.9h.8M132.9 45.3h.8M65.0 63.0h.8M68.7 69.9h.8M133.7 63.7h.8M126.0 48.7h.8M133.4 38.6h.8M129.7 53.9h.8M122.4 67.0h.8M134.7 62.1h.8M138.0 88.3h.8M125.9 69.1h.8M136.3 77.7h.8M78.7 63.4h.8M137.4 59.4h.8M58.6 79.5h.8M132.7 72.6h.8M61.5 75.7h.8M106.0 63.5h.8M75.1 64.7h.8M78.2 49.4h.8M131.7 57.2h.8M50.7 78.1h.8M136.5 73.8h.8M122.1 54.8h.8M53.1 53.5h.8M92.7 54.9h.8M87.4 62.0h.8M61.5 58.1h.8M136.5 61.9h.8M133.1 66.9h.8M131.3 80.5h.8M57.4 45.4h.8M134.0 56.4h.8M119.5 68.1h.8M58.7 64.0h.8M56.6 50.6h.8M136.4 63.0h.8M76.6 53.1h.8M116.8 61.6h.8M107.9 68.3h.8M59.1 65.6h.8M74.3 58.2h.8M120.6 55.2h.8M69.2 61.3h.8M125.1 82.0h.8M132.5 36.9h.8M126.7 60.0h.8M63.3 45.7h.8M66.3 69.0h.8M129.9 67.3h.8M111.5 56.2h.8M140.7 64.8h.8M137.1 50.2h.8M120.7 70.0h.8M112.5 67.8h.8M124.2 52.1h.8M133.5 76.1h.8M129.4 43.0h.8M118.1 66.4h.8M109.1 57.5h.8M55.5 67.8h.8M97.0 56.1h.8M130.8 61.0h.8M63.4 50.7h.8M57.6 61.6h.8M125.3 53.4h.8M130.3 58.8h.8M57.7 65.6h.8M56.3 73.0h.8M137.1 78.9h.8M130.5 56.4h.8M131.9 60.8h.8M132.0 64.6h.8M117.0 52.7h.8M67.3 66.9h.8M116.6 68.5h.8M78.4 58.5h.8M111.6 68.5h.8M61.6 40.7h.8M68.5 56.8h.8M78.1 67.7h.8M56.4 28.6h.8M130.6 55.5h.8M112.3 45.7h.8M103.1 66.9h.8M64.9 71.0h.8M64.2 74.7h.8M55.3 65.6h.8M50.4 40.3h.8M109.8 59.4h.8M133.6 54.2h.8M124.0 56.3h.8M96.9 57.1h.8M63.6 60.5h.8M128.7 69.6h.8M66.5 66.7h.8M63.6 67.7h.8M56.7 50.9h.8M67.1 42.3h.8M103.9 55.5h.8M132.0 62.7h.8M94.0 66.1h.8M108.6 39.4h.8M125.3 63.0h.8M68.1 66.9h.8M88.4 53.6h.8M75.6 50.8h.8M89.0 81.1h.8M132.0 39.1h.8M125.9 41.7h.8M62.8 70.3h.8M61.3 67.2h.8M121.0 58.3h.8M63.9 54.8h.8M78.9 64.9h.8M67.1 52.9h.8M60.0 62.6h.8M140.7 67.6h.8M63.1 49.0h.8M73.0 56.7h.8M70.4 59.9h.8M60.6 41.9h.8M79.0 54.7h.8M57.1 58.3h.8M113.3 58.0h.8M76.4 69.8h.8M111.5 50.7h.8M94.8 62.1h.8M121.3 62.4h.8M134.6 44.0h.8M124.1 82.9h.8M60.3 72.6h.8M122.0 58.7h.8M59.3 59.4h.8M118.6 54.2h.8M124.7 77.0h.8M130.9 50.1h.8M62.3 58.1h.8M115.3 48.2h.8M123.8 74.0h.8M129.9 66.2h.8M85.8 78.5h.8M127.8 61.8h.8M81.6 44.4h.8M140.0 72.1h.8M89.8 61.2h.8M55.4 68.8h.8M55.0 51.3h.8M90.4 60.4h.8M108.2 52.6h.8M139.8 69.5h.8M65.9 42.2h.8M110.3 55.7h.8M61.0 53.9h.8M81.1 67.3h.8M128.6 68.2h.8M74.7 56.3h.8M66.8 71.9h.8M87.5 63.9h.8M99.8 47.4h.8M136.0 60.7h.8M58.1 65.9h.8M124.8 67.6h.8M102.1 45.1h.8M55.9 57.9h.8M128.5 65.5h.8M131.8 50.8h.8M72.1 69.5h.8M63.0 58.6h.8M56.9 69.4h.8M116.0 53.6h.8M120.1 52.8h.8M102.0 61.1h.8M110.2 59.9h.8M63.5 73.3h.8M89.8 76.5h.8M61.9 52.4h.8M140.6 55.7h.8M129.1 74.6h.8M91.1 59.2h.8M60.9 60.8h.8M113.2 64.8h.8M49.2 65.8h.8M126.8 76.3h.8M88.8 72.8h.8M60.3 49.1h.8M126.0 55.5h.8M111.0 51.4h.8M117.0 73.6h.8M124.7 67.4h.8M74.5 61.0h.8M135.4 49.9h.8M136.6 60.7h.8M52.8 58.4h.8M128.8 64.5h.8M58.8 53.4h.8M66.3 74.0h.8M128.6 61.3h.8M121.1 62.1h.8M111.6 72.7h.8M112.5 65.0h.8M124.3 51.3h.8M73.8 41.6h.8M122.4 54.3h.8M128.2 62.3h.8M82.9 62.0h.8M99.1 57.8h.8M110.9 47.0h.8M101.3 68.5h.8M126.6 74.4h.8M130.9 68.8h.8M64.5 69.7h.8M60.4 68.5h.8M60.2 48.2h.8M122.6 68.4h.8M55.8 68.1h.8M68.6 70.9h.8M137.6 80.8h.8M137.0 65.8h.8M117.7 54.7h.8M58.4 57.2h.8M131.1 53.7h.8M97.7 68.9h.8M58.0 69.3h.8M126.5 81.9h.8M74.7 61.2h.8M62.2 50.7h.8M126.5 70.5h.8M58.2 73.7h.8M113.0 63.1h.8M112.9 61.7h.8M101.7 80.3h.8M68.0 45.9h.8M59.4 45.8h.8M132.0 52.1h.8M58.0 44.1h.8M135.1 68.9h.8M115.5 60.9h.8M128.7 63.1h.8M115.9 54.9h.8M129.9 63.7h.8M61.0 50.4h.8M122.7 56.6h.8M57.6 68.0h.8M74.3 49.1h.8M69.8 62.4h.8M73.2 62.2h.8M126.5 49.8h.8M125.5 77.1h.8M124.9 54.3h.8M139.1 53.5h.8M110.8 63.1h.8M129.1 60.2h.8M114.9 67.6h.8M57.2 65.0h.8M59.2 66.5h.8M62.6 77.0h.8M124.4 49.9h.8M127.5 91.0h.8M136.5 74.4h.8M64.4 64.2h.8M107.0 83.1h.8M61.2 62.3h.8M125.9 62.1h.8M129.7 48.9h.8M138.4 57.9h.8M61.0 81.0h.8M67.5 53.6h.8M109.7 63.0h.8M131.4 71.5h.8M122.8 76.0h.8M118.3 82.6h.8M72.3 57.6h.8M66.0 75.5h.8M131.7 50.8h.8M79.6 62.6h.8M128.4 42.8h.8M61.9 46.9h.8M50.1 47.6h.8M81.0 52.8h.8M134.8 82.7h.8M126.0 54.5h.8M99.1 60.1h.8M62.1 51.4h.8M65.3 38.4h.8M64.1 87.5h.8M132.5 53.5h.8M123.7 62.9h.8M118.9 63.0h.8M65.2 57.6h.8M122.5 55.3h.8M63.4 71.1h.8M102.9 64.4h.8M66.4 57.7h.8M85.9 52.6h.8M64.3 71.2h.8M139.7 62.5h.8M125.4 58.9h.8M137.7 62.9h.8M130.1 53.1h.8M60.5 69.8h.8M107.9 60.1h.8M115.1 48.9h.8M58.5 62.3h.8M123.5 72.2h.8M81.6 52.3h.8M65.3 69.2h.8M133.3 61.1h.8M124.8 48.1h.8M68.3 70.1h.8M62.5 60.3h.8M127.3 62.6h.8M109.9 53.1h.8M58.7 50.6h.8M67.5 57.2h.8M125.6 69.9h.8M51.5 43.5h.8M73.5 64.3h.8M115.7 63.2h.8M71.0 52.5h.8M132.7 56.4h.8M120.8 66.3h.8M124.0 67.9h.8M102.5 62.3h.8M119.7 48.8h.8M138.1 66.0h.8M102.0 49.2h.8M128.3 71.2h.8M98.4 67.8h.8M115.3 59.8h.8M83.5 66.5h.8M137.2 66.9h.8M63.2 73.7h.8M57.7 50.4h.8M133.0 61.6h.8M117.8 74.5h.8M61.4 77.9h.8M96.5 53.1h.8M61.6 78.5h.8M109.8 59.6h.8M94.7 75.7h.8M67.9 48.8h.8M57.0 65.5h.8M133.7 64.7h.8M124.3 45.4h.8M56.2 44.1h.8M55.4 61.2h.8M135.9 46.6h.8M122.1 68.0h.8M55.1 36.2h.8M134.0 68.7h.8M119.6 62.7h.8M54.7 59.5h.8M132.8 50.8h.8M90.3 53.7h.8M115.4 51.3h.8M57.4 71.2h.8M85.3 60.3h.8M60.2 65.3h.8M66.8 73.5h.8M106.4 57.1h.8M100.5 65.6h.8M130.1 69.5h.8M74.6 54.0h.8M58.6 61.4h.8M59.2 92.2h.8M133.8 59.9h.8M108.9 53.3h.8M65.0 59.3h.8M60.9 60.6h.8M69.6 62.0h.8M68.6 52.3h.8M89.4 67.1h.8M71.7 46.2h.8M119.4 52.5h.8M117.3 68.4h.8M123.5 74.2h.8M52.2 61.7h.8M133.2 51.1h.8M114.6 52.4h.8M70.5 46.9h.8M59.7 64.8h.8M71.7 58.2h.8M56.8 59.3h.8M68.9 56.6h.8M58.1 69.1h.8M123.9 74.4h.8M125.5 81.6h.8M50.7 69.6h.8M126.9 70.2h.8M46.3 62.0h.8M78.0 46.5h.8M61.1 24.9h.8M50.6 62.7h.8M54.0 68.1h.8M119.0 49.8h.8M121.8 74.1h.8M135.9 40.0h.8M52.3 59.6h.8M63.9 37.3h.8M125.4 51.3h.8M84.3 57.8h.8M123.3 70.3h.8M58.6 57.2h.8M53.7 53.8h.8M107.8 64.5h.8M47.7 59.6h.8M130.7 45.0h.8M129.4 52.3h.8M112.8 67.1h.8M131.4 83.1h.8M62.5 59.5h.8M124.8 76.1h.8M133.1 48.7h.8M136.7 58.4h.8M118.1 55.5h.8M79.0 58.4h.8M66.3 58.0h.8M61.6 69.0h.8M94.7 66.9h.8M60.0 65.2h.8M61.5 70.1h.8M125.8 57.6h.8M120.9 62.2h.8M70.5 57.5h.8M134.0 43.1h.8M118.3 56.2h.8M87.5 66.2h.8M101.7 58.4h.8M99.6 64.7h.8M109.3 64.6h.8M122.8 77.2h.8M116.0 67.1h.8M118.9 70.3h.8M128.9 84.2h.8M69.1 54.5h.8M74.3 63.2h.8M139.1 68.1h.8M88.0 55.7h.8M68.0 66.1h.8M125.6 56.5h.8M63.4 75.6h.8M131.7 38.8h.8M46.4 58.1h.8M117.1 56.2h.8M113.3 56.9h.8M135.8 42.5h.8M127.7 37.7h.8M129.1 44.3h.8M112.0 68.0h.8M59.5 63.9h.8M106.6 68.5h.8M69.7 51.5h.8M129.4 55.9h.8M53.4 67.2h.8M114.7 55.4h.8M105.8 56.9h.8M66.4 63.3h.8M58.8 68.8h.8M80.7 61.2h.8M111.4 68.3h.8M86.6 72.1h.8M64.6 54.7h.8M71.5 61.2h.8M61.3 46.4h.8M65.1 64.4h.8M66.0 57.2h.8M133.5 56.0h.8M123.9 61.8h.8M126.5 55.8h.8M136.7 65.5h.8M60.3 65.4h.8M58.1 59.8h.8M90.6 62.2h.8M91.4 63.2h.8M123.4 61.7h.8M139.8 62.4h.8M75.9 71.1h.8M137.6 75.2h.8M58.8 59.9h.8M94.1 64.5h.8M67.5 73.1h.8M139.4 52.2h.8M88.3 76.2h.8M81.2 88.3h.8M61.9 58.3h.8M74.9 64.7h.8M118.4 66.1h.8M74.9 60.5h.8M127.6 45.2h.8M60.6 47.5h.8M136.8 63.9h.8M68.4 70.2h.8M55.5 58.5h.8M131.4 67.7h.8M60.3 74.9h.8M112.2 75.7h.8M55.4 59.3h.8M139.1 69.8h.8M72.9 59.1h.8M63.8 69.7h.8M51.5 53.9h.8M68.5 49.8h.8M126.6 43.8h.8M116.8 57.0h.8M62.8 60.8h.8M103.3 43.6h.8M61.2 62.1h.8M127.0 43.0h.8M86.0 70.2h.8M127.2 54.8h.8M74.4 66.0h.8M92.0 71.1h.8M65.9 77.6h.8M59.8 40.5h.8M127.0 56.8h.8M52.5 58.8h.8M128.3 53.3h.8M50.2 71.6h.8M116.1 83.6h.8M80.6 59.0h.8M83.7 65.0h.8M137.5 67.9h.8M127.4 66.4h.8M122.9 68.5h.8M83.0 56.1h.8M58.0 49.9h.8M63.3 55.4h.8M123.9 49.0h.8M54.3 59.1h.8M120.9 52.6h.8M60.5 77.1h.8M61.9 67.6h.8M64.1 66.3h.8M134.5 61.4h.8M96.4 44.0h.8M66.4 64.6h.8M59.1 61.5h.8M108.7 54.2h.8M64.5 71.2h.8M72.2 75.6h.8M108.9 53.8h.8M141.2 69.2h.8M58.7 67.0h.8M56.7 46.0h.8M55.3 41.9h.8M67.3 52.2h.8M59.9 58.6h.8M101.5 61.7h.8M54.4 63.3h.8M140.0 60.4h.8M97.9 57.5h.8M133.7 57.1h.8M128.3 69.0h.8M107.0 63.8h.8M114.2 51.3h.8M51.6 59.5h.8M92.5 70.1h.8M63.9 63.8h.8M93.6 54.1h.8M67.9 58.6h.8M65.5 55.5h.8M126.2 73.4h.8M59.7 65.5h.8M60.5 59.5h.8M117.7 61.7h.8M125.0 69.7h.8M62.6 43.6h.8M117.5 52.3h.8M57.4 61.0h.8M115.2 77.3h.8M59.5 48.9h.8M127.1 55.1h.8M116.9 80.1h.8M138.7 48.7h.8M51.1 40.3h.8M125.4 65.6h.8M61.7 51.5h.8M59.8 77.8h.8M114.9 70.1h.8M123.8 59.7h.8M101.3 47.4h.8M113.2 53.4h.8M117.2 52.3h.8M132.8 72.5h.8M98.1 70.3h.8M58.7 69.9h.8M103.2 58.9h.8M57.1 75.0h.8M105.7 58.1h.8M65.7 64.6h.8M54.6 46.5h.8M123.0 62.1h.8M83.7 68.3h.8M118.2 62.8h.8M62.8 47.6h.8M125.8 64.6h.8M76.6 58.3h.8M97.1 61.9h.8M122.0 59.5h.8M106.5 60.9h.8M51.6 41.5h.8M52.1 70.8h.8M120.7 74.5h.8M113.1 69.2h.8M107.0 65.9h.8M117.7 79.3h.8M63.8 61.6h.8M134.0 49.0h.8M61.7 71.3h.8M77.6 49.9h.8M123.7 61.0h.8M128.7 55.5h.8M54.2 63.9h.8M128.1 55.8h.8M82.4 60.8h.8M74.0 78.4h.8M129.7 73.9h.8M137.7 75.4h.8M66.2 78.2h.8M140.9 41.4h.8M54.7 76.6h.8M135.1 51.2h.8M63.5 55.8h.8M62.4 69.8h.8M121.6 45.7h.8M65.4 65.1h.8M136.9 59.1h.8M136.6 58.1h.8M122.9 63.4h.8M66.0 62.9h.8M61.5 72.9h.8M93.3 63.8h.8M55.8 64.0h.8M59.0 43.0h.8M64.5 66.2h.8M129.2 49.5h.8M69.9 59.9h.8M50.1 59.4h.8M124.3 53.8h.8M131.3 54.6h.8M103.0 70.2h.8M64.3 59.8h.8M102.6 61.5h.8M128.6 61.0h.8M58.6 52.9h.8M133.5 77.4h.8M60.2 68.6h.8M64.0 62.9h.8M138.8 67.7h.8M123.0 72.1h.8M68.4 51.2h.8M84.1 60.0h.8M121.9 78.0h.8M134.2 54.4h.8M112.5 46.2h.8M57.0 54.1h.8M101.7 37.9h.8M57.2 74.9h.8M58.5 57.8h.8M113.0 65.6h.8M138.9 60.6h.8M57.0 50.3h.8M65.1 61.9h.8M59.5 69.4h.8M59.4 48.6h.8M136.9 56.7h.8M58.5 46.9h.8M133.9 81.5h.8M52.4 67.3h.8M111.6 63.8h.8M73.8 47.6h.8M59.7 66.6h.8M128.1 64.1h.8M50.9 71.7h.8M63.1 50.3h.8M67.8 47.2h.8M61.8 63.0h.8M122.5 81.0h.8M72.3 63.4h.8M122.6 26.8h.8M91.7 59.7h.8M138.6 74.6h.8M126.0 72.3h.8M61.4 55.9h.8M56.6 67.5h.8M137.4 52.9h.8M60.9 63.3h.8M119.2 50.6h.8M85.7 49.7h.8M139.9 75.9h.8M124.6 52.3h.8M117.0 69.7h.8M88.3 55.5h.8M68.0 67.5h.8M124.5 57.9h.8M48.1 84.1h.8M133.8 78.2h.8M102.6 51.1h.8M65.8 65.8h.8M71.2 64.1h.8M69.5 74.6h.8M96.6 50.4h.8M131.5 77.6h.8M124.4 77.2h.8M72.3 54.3h.8M62.0 60.2h.8M134.0 48.3h.8M68.5 63.6h.8M59.6 51.7h.8M133.3 51.0h.8M94.1 60.2h.8M74.1 56.8h.8M129.7 62.7h.8M84.8 62.0h.8M63.0 46.4h.8M66.3 68.9h.8M114.9 71.4h.8M86.5 58.3h.8M135.5 60.3h.8M131.1 53.9h.8M53.4 73.0h.8M60.4 59.4h.8M116.6 59.8h.8M106.1 64.8h.8M128.6 56.3h.8M76.2 58.3h.8M66.6 51.6h.8M86.8 67.5h.8M66.5 53.8h.8M64.0 73.9h.8M132.3 60.9h.8M64.3 58.2h.8M67.6 55.2h.8M66.5 65.3h.8M53.9 71.7h.8M59.2 44.5h.8M104.4 66.6h.8M135.3 52.9h.8M105.2 52.9h.8M119.5 51.4h.8M85.9 58.6h.8M92.2 60.9h.8M78.3 59.5h.8M81.4 52.3h.8M52.6 70.4h.8M68.6 78.9h.8M95.8 65.3h.8M135.8 90.8h.8M120.8 67.3h.8M94.3 77.9h.8M126.2 74.6h.8M111.9 59.1h.8M137.4 56.3h.8M128.9 82.7h.8M63.5 59.7h.8M114.6 50.2h.8M91.5 74.6h.8M99.3 52.3h.8M126.5 62.8h.8M71.0 45.8h.8M68.7 50.9h.8M127.8 61.9h.8M117.6 63.9h.8M56.9 63.6h.8M61.7 48.3h.8M125.4 68.9h.8M50.5 58.8h.8M99.2 59.4h.8M130.8 64.8h.8M134.0 58.1h.8M137.2 58.7h.8M102.1 55.5h.8M119.3 56.9h.8M105.7 73.7h.8M65.6 61.5h.8M61.4 82.0h.8M69.0 56.9h.8M105.0 80.1h.8M65.2 57.4h.8M63.6 50.0h.8M110.1 49.5h.8M141.3 50.9h.8M59.2 73.7h.8M84.2 51.6h.8M130.8 72.7h.8M52.7 67.2h.8M133.8 69.3h.8M114.3 59.6h.8M134.9 55.6h.8M90.2 55.9h.8M122.4 57.5h.8M124.1 68.2h.8M103.1 55.3h.8M138.4 54.7h.8M63.6 47.9h.8M106.4 68.1h.8M56.4 75.9h.8M123.8 44.1h.8M108.4 64.3h.8M141.0 48.2h.8M126.3 71.6h.8M58.2 67.7h.8M134.9 58.5h.8M123.5 44.0h.8M116.1 58.3h.8M125.0 57.2h.8M56.7 65.3h.8M97.3 70.7h.8M126.4 65.9h.8M59.9 76.7h.8M53.5 50.2h.8M118.9 58.9h.8M135.7 53.9h.8M56.6 59.1h.8M78.9 58.0h.8M65.9 74.7h.8M123.4 84.0h.8M58.7 69.0h.8M99.4 63.4h.8M62.4 55.0h.8M60.5 59.5h.8M124.0 70.8h.8M60.0 55.7h.8M76.6 62.7h.8M98.3 66.5h.8M57.1 64.5h.8M134.6 62.6h.8M111.5 56.9h.8M85.6 67.5h.8M123.5 43.0h.8M70.7 55.7h.8M65.7 69.3h.8M59.0 62.7h.8M132.6 82.7h.8M134.8 66.6h.8M64.7 49.5h.8M55.6 55.4h.8M63.5 73.1h.8M116.6 68.0h.8M67.1 61.6h.8M50.5 51.3h.8M72.9 64.2h.8M126.1 61.2h.8M122.0 78.4h.8M62.4 76.2h.8M136.2 63.8h.8M86.6 58.0h.8M58.1 68.6h.8M137.8 68.3h.8M62.3 64.1h.8M64.9 47.5h.8M63.2 67.3h.8M97.2 61.3h.8M121.3 47.4h.8M100.2 76.3h.8M116.5 61.3h.8M95.5 62.5h.8M70.7 74.3h.8M64.7 49.2h.8M127.0 59.4h.8M124.4 41.6h.8M55.9 63.7h.8M130.6 58.2h.8M115.5 50.9h.8M132.7 71.6h.8M65.9 72.1h.8M117.1 56.7h.8M65.9 70.1h.8M66.5 39.6h.8M136.8 66.9h.8M66.6 67.9h.8M53.6 46.0h.8M99.2 55.1h.8M54.4 45.6h.8M58.6 68.8h.8M64.8 55.1h.8M65.1 59.6h.8M60.5 52.1h.8M118.9 62.0h.8M101.4 62.0h.8M139.5 63.1h.8M124.0 59.9h.8M53.5 63.4h.8M64.9 72.5h.8M137.7 73.0h.8M82.8 75.5h.8M65.8 61.3h.8M134.4 80.9h.8M113.1 65.5h.8M103.7 67.5h.8M124.2 65.9h.8M105.8 77.3h.8M134.0 73.4h.8M70.3 49.4h.8M134.0 66.9h.8M62.9 62.4h.8M60.7 64.8h.8M122.0 66.8h.8M133.3 64.8h.8M62.7 70.0h.8M54.3 52.4h.8M122.4 55.2h.8M138.3 61.9h.8M124.6 67.0h.8M119.2 82.4h.8M83.4 70.6h.8M124.1 56.2h.8M59.8 65.8h.8M66.7 52.8h.8M83.0 61.4h.8M60.7 58.0h.8M56.7 69.7h.8M129.0 73.9h.8M117.9 58.4h.8M130.4 59.5h.8M120.9 83.4h.8M56.4 61.6h.8M73.5 63.0h.8M90.3 58.7h.8M136.8 60.1h.8M127.1 72.4h.8M137.4 64.6h.8M107.4 64.5h.8M120.9 56.2h.8M56.2 68.5h.8M115.5 73.7h.8M68.0 59.5h.8M54.7 74.6h.8M132.5 70.4h.8M84.7 65.5h.8M135.1 67.0h.8M116.8 67.1h.8M67.0 73.0h.8M123.3 79.2h.8M134.5 70.4h.8M117.6 67.3h.8M111.6 68.1h.8M138.4 67.3h.8M131.5 65.9h.8M117.6 67.0h.8M116.3 51.3h.8M130.3 71.5h.8M106.0 59.8h.8M110.7 55.3h.8M124.5 58.5h.8M76.1 79.6h.8M57.5 43.2h.8M60.6 61.5h.8M128.6 67.8h.8M59.1 62.4h.8M67.1 28.9h.8M71.4 56.7h.8M51.9 75.5h.8M122.7 67.7h.8M128.7 65.6h.8M80.6 64.5h.8M130.9 56.2h.8M116.3 60.7h.8M136.7 62.7h.8M60.9 62.8h.8M62.8 67.4h.8M69.6 56.5h.8M123.8 51.7h.8M71.4 49.9h.8M136.5 58.4h.8M139.1 53.3h.8M132.3 73.2h.8M136.3 57.6h.8M66.1 62.1h.8M130.3 66.0h.8M63.4 61.8h.8M99.2 70.8h.8M135.7 51.1h.8M123.0 36.4h.8M66.5 46.0h.8M60.6 60.0h.8M96.1 62.8h.8M140.1 70.1h.8M63.7 34.7h.8M60.5 68.6h.8M92.5 67.0h.8M60.4 70.1h.8M138.3 57.0h.8M138.2 61.6h.8M124.0 59.9h.8M58.7 67.4h.8M132.7 58.6h.8M124.6 68.1h.8M65.8 68.7h.8M64.3 43.6h.8M115.4 53.6h.8M83.6 44.2h.8M67.8 74.5h.8M124.3 66.1h.8M86.7 61.3h.8M121.3 43.5h.8M97.5 56.6h.8M70.0 53.7h.8M137.3 67.2h.8M93.9 56.6h.8M97.3 53.4h.8M134.1 34.3h.8M134.6 73.5h.8M137.8 60.7h.8M87.0 70.0h.8M139.1 67.4h.8M61.5 64.5h.8M53.4 59.6h.8M119.2 47.3h.8M69.1 52.5h.8M121.8 69.4h.8M87.3 48.0h.8M131.2 57.3h.8M134.7 59.2h.8M79.6 81.9h.8M82.3 63.7h.8M57.9 67.5h.8M63.1 50.9h.8M139.9 76.2h.8M139.8 54.5h.8M66.4 59.0h.8M135.0 67.7h.8M62.3 58.1h.8M89.9 61.9h.8M136.0 54.9h.8M60.9 62.0h.8M59.4 52.7h.8M130.7 40.0h.8M89.3 69.0h.8M58.0 60.1h.8M65.6 69.2h.8M124.6 64.2h.8M122.2 54.0h.8M66.8 65.8h.8M68.4 37.4h.8M51.6 67.2h.8M61.5 50.7h.8M73.8 61.4h.8M72.6 61.6h.8M66.0 58.3h.8M80.3 46.9h.8M60.0 64.7h.8M69.3 56.8h.8M94.7 48.4h.8M111.2 51.6h.8M86.7 60.1h.8M132.3 59.9h.8M131.6 49.9h.8M66.4 60.2h.8M127.6 64.7h.8M130.8 53.8h.8M114.8 72.0h.8M92.9 55.3h.8M65.1 78.9h.8M137.9 66.5h.8M118.6 63.4h.8M56.5 81.0h.8M99.2 64.2h.8M130.3 58.4h.8M117.3 64.9h.8M53.3 60.7h.8M130.8 77.1h.8M107.5 67.1h.8M89.0 50.0h.8M117.4 73.3h.8M55.6 37.3h.8M126.6 46.8h.8M55.9 64.0h.8M133.5 67.5h.8M127.2 66.9h.8M101.4 58.4h.8M63.0 61.5h.8M135.7 62.0h.8M113.9 62.2h.8M58.9 62.4h.8M53.8 70.8h.8M132.5 73.6h.8M56.0 57.0h.8M68.3 53.9h.8M91.6 64.0h.8M116.7 71.4h.8M126.3 67.1h.8M63.6 57.7h.8M55.0 58.7h.8M134.0 65.9h.8M88.6 60.6h.8M132.5 58.9h.8M70.2 43.4h.8M137.6 48.7h.8M140.8 67.6h.8M138.2 60.6h.8M89.5 72.9h.8M60.6 73.8h.8M138.4 63.6h.8M140.4 72.9h.8M77.9 64.2h.8M95.4 63.1h.8M96.7 60.5h.8M118.4 63.6h.8M61.2 84.8h.8M132.5 74.5h.8M128.3 48.1h.8M120.6 65.7h.8M67.2 58.5h.8M64.8 73.4h.8M60.4 82.6h.8M140.0 55.5h.8M53.8 66.6h.8M129.1 60.6h.8M68.1 82.4h.8M130.3 63.4h.8M61.1 64.7h.8M63.5 69.2h.8M69.3 85.6h.8M116.2 70.2h.8M74.3 69.0h.8M60.1 52.3h.8M59.4 82.2h.8M120.2 60.9h.8M99.3 55.8h.8M80.8 58.8h.8M72.2 55.4h.8M64.4 91.9h.8M131.2 70.0h.8M91.5 58.5h.8M62.8 72.3h.8M121.9 53.0h.8M120.4 66.2h.8M113.2 70.7h.8M63.6 71.3h.8M63.3 63.9h.8M56.4 67.1h.8M121.6 72.3h.8M59.5 66.3h.8M74.2 75.8h.8M77.1 50.6h.8M124.5 61.9h.8M59.7 58.4h.8M89.2 59.4h.8M57.1 76.0h.8M141.1 49.3h.8M66.9 71.7h.8M67.3 46.2h.8M88.3 65.9h.8M98.5 55.5h.8M133.6 64.4h.8M117.4 80.2h.8M53.6 55.7h.8M56.7 51.9h.8M59.3 40.0h.8M56.8 33.4h.8M101.6 60.0h.8M68.4 75.0h.8M138.1 74.2h.8M126.8 59.1h.8M97.8 63.1h.8M73.6 47.3h.8M66.6 75.4h.8M121.6 46.2h.8M48.4 49.9h.8M68.3 66.2h.8M73.7 53.5h.8M119.7 70.0h.8M88.1 65.8h.8M125.1 57.3h.8M139.8 43.3h.8M137.6 70.9h.8M98.9 61.1h.8M118.1 69.0h.8M117.1 64.6h.8M118.9 92.2h.8M136.5 71.7h.8M118.1 54.4h.8M127.3 75.9h.8M128.8 55.8h.8M90.6 63.5h.8M116.5 48.2h.8M122.6 59.3h.8M113.2 47.7h.8M68.4 71.3h.8M113.4 58.9h.8M115.1 70.5h.8M78.1 49.8h.8M57.6 54.3h.8M125.5 72.6h.8M131.4 67.4h.8M114.8 62.1h.8M62.6 75.8h.8M59.1 59.9h.8M64.0 63.0h.8M59.6 65.9h.8M116.3 65.1h.8M62.8 55.7h.8M51.5 72.4h.8M124.5 61.2h.8M133.9 63.9h.8M63.1 68.8h.8M122.2 68.4h.8M128.0 84.9h.8M94.9 55.6h.8M138.8 61.3h.8M76.2 74.9h.8M55.7 77.5h.8M128.3 63.9h.8M61.3 47.9h.8M64.0 40.2h.8M122.8 46.3h.8M138.5 38.2h.8M134.0 61.0h.8M60.4 70.2h.8M72.1 80.1h.8M98.8 61.1h.8M129.0 64.9h.8M126.6 49.6h.8M64.8 53.3h.8M70.8 59.4h.8M103.4 58.0h.8M64.6 57.6h.8M60.6 69.2h.8M48.4 65.6h.8M114.2 51.7h.8M77.8 67.5h.8M83.9 54.5h.8M62.3 76.4h.8M58.9 44.4h.8M55.1 48.0h.8M58.8 75.7h.8M111.8 53.0h.8M83.1 63.9h.8M54.0 77.8h.8M65.5 70.7h.8M59.7 74.1h.8M134.0 53.5h.8M93.6 75.2h.8M99.6 67.8h.8M67.8 64.6h.8M131.3 78.4h.8M118.5 49.9h.8M101.5 72.1h.8M58.5 59.9h.8M125.9 65.9h.8M66.2 58.1h.8M123.2 58.3h.8M128.0 51.5h.8M60.8 69.5h.8M120.8 63.6h.8M66.1 64.0h.8M65.3 56.0h.8M129.6 69.2h.8M55.6 71.9h.8M132.3 51.7h.8M62.5 92.5h.8M63.4 64.8h.8M74.9 55.3h.8M104.7 50.2h.8M121.6 56.7h.8M61.4 64.9h.8M128.3 58.3h.8M81.5 92.2h.8M129.8 62.4h.8M130.0 61.9h.8M58.8 54.6h.8M53.3 61.6h.8M124.7 32.1h.8M132.1 70.9h.8M60.6 87.8h.8M114.2 53.8h.8M134.3 73.0h.8M58.0 72.1h.8M54.3 65.1h.8M121.6 68.0h.8M63.9 70.0h.8M65.9 78.0h.8M88.7 53.2h.8M96.7 75.8h.8M59.0 66.6h.8M137.5 64.7h.8M126.4 72.9h.8M66.8 55.8h.8M93.0 71.9h.8M62.2 69.0h.8M136.7 47.5h.8M131.1 66.1h.8M136.3 52.3h.8M125.1 61.3h.8M56.6 71.3h.8M87.7 61.3h.8M64.5 52.9h.8M72.3 58.7h.8M128.0 60.0h.8M121.1 81.9h.8M70.2 65.9h.8M59.6 39.8h.8M89.6 59.8h.8M120.4 67.7h.8M113.8 59.8h.8M61.3 87.6h.8M132.5 68.9h.8M55.9 40.0h.8M53.0 47.6h.8M131.1 60.4h.8M132.9 53.0h.8M74.6 56.2h.8M137.4 55.7h.8M70.5 78.8h.8M62.3 77.9h.8M115.6 49.7h.8M137.2 53.1h.8M137.2 51.2h.8M77.8 71.9h.8M130.3 49.3h.8M58.6 71.3h.8M63.2 47.0h.8M61.5 70.9h.8M123.1 47.6h.8M137.3 63.5h.8M112.3 55.4h.8M89.7 82.3h.8M70.0 52.8h.8M129.7 72.9h.8M138.8 47.3h.8M65.4 38.0h.8M67.3 58.7h.8M66.4 46.4h.8M131.4 74.8h.8M138.5 67.1h.8M126.0 79.3h.8M68.6 54.3h.8M121.9 74.4h.8M87.2 74.2h.8M98.2 67.4h.8M126.9 53.5h.8M127.0 88.5h.8M88.9 57.9h.8M84.7 66.8h.8M56.7 66.6h.8M73.0 62.6h.8M137.6 58.2h.8M121.4 59.0h.8M62.3 57.5h.8M59.5 49.2h.8M107.5 78.5h.8M128.0 68.7h.8M84.4 86.8h.8M125.8 92.0h.8M115.2 67.6h.8M139.9 64.0h.8M52.9 58.9h.8M109.8 50.3h.8M66.2 55.7h.8M55.8 70.8h.8M130.5 67.5h.8M99.5 52.7h.8M99.6 69.2h.8M126.9 78.7h.8M119.7 65.7h.8M54.9 59.6h.8M59.5 62.2h.8M52.4 55.9h.8M71.7 50.6h.8M130.5 67.7h.8M83.2 59.5h.8M53.2 63.0h.8M66.0 40.0h.8M123.4 62.0h.8M88.1 46.7h.8M102.1 72.4h.8M139.4 50.1h.8M122.6 51.4h.8M47.8 57.3h.8M59.3 64.5h.8M63.2 59.9h.8M129.3 62.2h.8M123.4 62.5h.8M106.5 78.5h.8M121.2 61.9h.8M133.3 65.0h.8M138.8 67.2h.8M140.0 65.6h.8M127.5 54.6h.8M118.5 68.8h.8M66.6 80.2h.8M59.2 31.6h.8M125.7 74.1h.8M83.9 54.8h.8M105.3 61.7h.8M127.0 65.1h.8M109.8 49.0h.8M56.4 57.1h.8M63.0 72.2h.8M124.9 66.8h.8M132.7 60.0h.8M126.7 59.9h.8M132.7 50.9h.8M63.0 30.7h.8M56.8 61.8h.8M77.6 60.8h.8M62.1 59.7h.8M85.8 54.6h.8M121.9 68.0h.8M99.3 51.5h.8M72.1 59.4h.8M139.8 55.3h.8M126.8 59.3h.8M134.1 81.1h.8M127.8 45.5h.8M63.7 71.7h.8M68.6 70.1h.8M72.2 59.0h.8M132.4 54.2h.8M122.2 77.7h.8M53.5 54.1h.8M54.7 59.9h.8M54.3 67.3h.8M125.0 72.6h.8M56.9 46.6h.8M76.4 69.8h.8M133.6 72.4h.8M79.0 55.0h.8M63.7 62.7h.8M98.1 70.3h.8M65.9 60.0h.8M139.7 64.9h.8M53.1 53.4h.8M56.8 55.3h.8M52.7 52.4h.8M116.2 51.7h.8M76.9 66.1h.8M66.2 46.1h.8M51.7 59.1h.8M134.8 70.3h.8M135.4 57.7h.8M110.6 49.9h.8M62.4 62.7h.8M136.8 58.6h.8M125.5 71.5h.8M67.6 44.8h.8M132.5 52.7h.8M64.1 55.1h.8M141.2 58.8h.8M68.9 68.5h.8M71.3 68.0h.8M65.3 43.1h.8M53.5 66.5h.8M129.1 78.9h.8M137.9 69.9h.8M45.2 58.6h.8M52.5 54.1h.8M132.1 72.8h.8M129.8 62.6h.8M134.8 66.6h.8M133.3 63.6h.8M63.3 84.2h.8M123.8 73.8h.8M62.2 72.2h.8M54.0 30.4h.8M105.9 53.7h.8M65.5 63.6h.8M74.7 65.4h.8M97.7 79.9h.8M60.8 55.0h.8M63.1 74.6h.8M133.9 39.6h.8M137.2 58.8h.8M117.0 73.8h.8M119.5 72.7h.8M136.0 60.9h.8M63.0 57.6h.8M108.8 66.9h.8M115.8 67.3h.8M139.7 57.7h.8M94.4 51.5h.8M135.4 53.2h.8M76.0 51.5h.8M66.9 70.9h.8M133.6 63.2h.8M65.8 60.7h.8M135.5 50.1h.8M125.1 66.6h.8M78.7 62.5h.8M140.9 75.2h.8M134.7 69.1h.8M54.9 72.6h.8M119.7 78.1h.8M62.9 42.4h.8M132.1 67.0h.8M120.9 51.4h.8M127.4 54.3h.8M140.5 61.4h.8M132.2 74.6h.8M56.8 63.6h.8M55.4 48.2h.8M133.8 46.4h.8M61.4 66.4h.8M129.3 53.1h.8M124.4 62.9h.8M68.1 50.5h.8M68.3 45.6h.8M75.7 53.1h.8M66.9 70.8h.8M130.6 69.5h.8M49.7 74.6h.8M117.1 72.4h.8M133.0 65.0h.8M139.4 71.0h.8M65.6 65.9h.8M61.0 74.4h.8M55.9 80.2h.8M132.5 67.9h.8M123.4 74.0h.8M131.4 57.3h.8M70.5 61.7h.8M72.6 69.7h.8M58.0 76.9h.8M65.2 58.9h.8M64.9 62.1h.8M97.6 63.4h.8M134.2 55.9h.8M63.5 74.5h.8M126.6 46.3h.8M122.7 43.2h.8M78.3 48.6h.8M106.9 65.4h.8M73.9 53.0h.8M80.5 72.1h.8M104.2 70.6h.8M135.3 63.5h.8M111.1 67.0h.8M125.3 54.3h.8M62.4 54.6h.8M118.7 76.7h.8M88.9 62.1h.8M133.8 59.1h.8M124.6 52.8h.8M118.0 76.0h.8M62.5 77.5h.8M117.0 69.3h.8M138.4 55.3h.8M64.3 76.6h.8M129.5 57.3h.8M69.3 55.1h.8M130.8 67.0h.8M58.0 58.0h.8M74.0 58.6h.8M137.9 73.8h.8M122.7 69.6h.8M63.9 63.4h.8M56.8 57.8h.8M131.4 57.9h.8M63.7 74.7h.8M89.2 65.5h.8M57.0 72.0h.8M111.5 64.3h.8M103.1 59.7h.8M113.4 72.0h.8M116.0 48.1h.8M106.6 64.8h.8M105.1 45.6h.8M130.6 44.0h.8M57.2 46.0h.8M102.2 64.8h.8M83.4 65.6h.8M64.3 45.1h.8M78.6 50.3h.8M101.2 61.8h.8M74.1 59.9h.8M126.4 50.6h.8M94.0 75.7h.8M56.1 45.4h.8M63.1 37.5h.8M130.1 59.6h.8M59.0 84.8h.8M64.9 61.4h.8M88.3 71.5h.8M83.3 61.3h.8M79.6 60.9h.8M134.4 74.8h.8M109.6 56.7h.8M66.0 72.4h.8M122.2 57.6h.8M61.7 65.6h.8M75.1 53.8h.8M54.4 51.6h.8M63.7 41.4h.8M136.7 76.1h.8M70.6 55.0h.8M128.7 52.8h.8M62.6 78.3h.8M57.7 54.5h.8M132.6 62.7h.8M71.0 37.1h.8M130.4 68.9h.8M83.3 73.3h.8M79.3 59.5h.8M59.0 56.5h.8M105.0 58.3h.8M126.8 80.3h.8M64.9 63.9h.8M122.3 73.6h.8M50.4 56.4h.8M126.0 74.5h.8M64.1 74.6h.8M59.8 47.1h.8M54.7 69.3h.8M104.9 47.8h.8M58.9 75.9h.8M120.2 53.9h.8M69.6 70.7h.8M118.6 72.7h.8M125.8 62.9h.8M82.9 59.8h.8M60.2 59.4h.8M59.5 43.7h.8M140.3 68.3h.8M136.9 66.0h.8M82.0 52.9h.8M53.7 54.9h.8M86.6 56.6h.8M54.5 63.5h.8M65.8 56.0h.8M139.5 64.2h.8M66.9 81.8h.8M126.5 71.4h.8M74.2 71.7h.8M138.6 56.0h.8M113.8 63.4h.8M57.4 53.2h.8M61.3 64.9h.8M57.2 50.5h.8M53.2 56.0h.8M63.0 63.2h.8M110.1 49.0h.8M56.9 59.9h.8M134.7 59.2h.8M122.1 73.0h.8M130.7 76.3h.8M52.3 69.1h.8M58.5 68.1h.8M71.6 62.7h.8M67.5 68.3h.8M121.1 56.8h.8M60.2 50.8h.8M60.4 59.1h.8M126.8 56.4h.8M55.8 65.6h.8M98.3 67.6h.8M131.1 56.2h.8M114.0 56.3h.8M139.5 60.4h.8M117.7 70.7h.8M93.8 64.3h.8M135.9 78.1h.8M64.1 65.2h.8M138.1 58.5h.8M64.8 71.5h.8M69.6 70.8h.8M73.7 69.1h.8M67.4 52.2h.8M121.7 57.7h.8M120.2 58.4h.8M72.2 87.0h.8M130.1 62.2h.8M64.8 50.4h.8M128.6 65.7h.8M54.1 54.2h.8M60.8 67.4h.8M114.9 67.4h.8M137.8 50.7h.8M70.5 67.7h.8M52.4 50.5h.8M138.6 55.0h.8M60.4 78.0h.8M53.8 59.6h.8M115.1 58.6h.8M61.6 65.7h.8M125.7 71.3h.8M60.3 52.4h.8M91.3 58.5h.8M62.6 65.5h.8M117.1 65.1h.8M128.1 64.3h.8M53.2 55.3h.8M114.0 63.2h.8M51.2 57.3h.8M51.0 66.0h.8M90.7 69.4h.8M67.7 79.0h.8M65.7 67.5h.8M70.7 53.2h.8M63.9 59.7h.8M63.4 74.7h.8M138.4 66.7h.8M124.7 74.1h.8M77.6 49.8h.8M129.2 74.5h.8M140.1 63.0h.8M136.0 63.8h.8M86.5 59.4h.8M126.6 60.1h.8M85.7 62.4h.8M61.1 65.7h.8M54.2 68.8h.8M119.7 65.4h.8M70.2 55.7h.8M55.5 65.1h.8M72.5 54.6h.8M123.8 64.5h.8M107.9 74.2h.8M65.4 54.2h.8M77.3 71.3h.8M54.8 71.7h.8M62.0 64.7h.8M131.6 55.5h.8M59.1 50.5h.8M63.8 59.2h.8M88.4 74.0h.8M67.4 30.7h.8M130.4 55.2h.8M62.1 43.9h.8M124.3 65.3h.8M138.8 77.9h.8M128.9 54.7h.8M131.8 73.1h.8M92.1 62.1h.8M52.9 50.6h.8M66.2 62.7h.8M89.6 58.8h.8M82.6 50.0h.8M126.3 69.7h.8M125.5 56.7h.8M136.8 66.9h.8M59.6 62.7h.8M65.3 52.6h.8M130.4 49.2h.8M138.3 57.0h.8M76.4 69.2h.8M83.9 62.7h.8M134.7 65.8h.8M130.9 73.5h.8M127.9 59.3h.8M116.6 58.0h.8M65.8 42.0h.8M55.3 69.8h.8M57.9 55.8h.8M93.4 67.2h.8M138.1 62.0h.8M63.3 53.3h.8M95.6 55.3h.8M91.5 56.5h.8M75.1 53.2h.8M125.2 61.8h.8M125.6 61.2h.8M77.4 83.2h.8M80.1 57.2h.8M102.1 69.9h.8M92.3 56.8h.8M92.9 58.5h.8M81.6 50.5h.8M117.2 90.4h.8M117.0 72.7h.8M59.1 45.8h.8M121.7 76.4h.8M122.7 65.4h.8M111.7 73.0h.8M125.8 79.3h.8M92.9 62.7h.8M137.2 68.5h.8M57.0 49.0h.8M124.3 76.7h.8M132.1 56.0h.8M58.8 59.6h.8M135.5 69.0h.8M126.0 75.2h.8M63.1 67.2h.8M68.0 60.8h.8M127.7 82.4h.8M136.7 49.7h.8M79.3 68.3h.8M59.4 62.2h.8M104.8 61.4h.8M53.7 80.4h.8M65.6 58.4h.8M126.5 56.5h.8M109.6 49.1h.8M61.3 60.1h.8M56.3 62.6h.8M124.5 49.2h.8M81.8 65.4h.8M126.5 56.9h.8M105.4 71.1h.8M94.1 55.2h.8M59.8 69.2h.8M108.3 65.8h.8M126.3 59.6h.8M60.5 48.0h.8M124.1 75.1h.8M124.6 78.2h.8M68.2 68.1h.8M60.7 72.8h.8M126.5 54.6h.8M110.2 47.8h.8M125.4 74.5h.8M72.1 63.9h.8M117.6 55.1h.8M136.6 74.7h.8M132.8 61.6h.8M100.8 70.9h.8M114.9 46.4h.8M135.1 69.3h.8M57.6 50.1h.8M58.0 74.0h.8M60.1 57.7h.8M128.1 74.6h.8M106.2 63.3h.8M136.8 77.8h.8M72.2 62.4h.8M137.8 62.8h.8M56.7 65.6h.8M61.6 67.5h.8M135.8 39.6h.8M97.2 56.2h.8M67.0 72.1h.8M120.7 62.4h.8M114.7 72.8h.8M120.5 58.7h.8M67.6 62.3h.8M127.2 60.1h.8M67.1 51.9h.8M65.9 52.1h.8M139.9 59.5h.8M62.5 77.0h.8M69.4 50.9h.8M118.2 60.5h.8M92.1 68.3h.8M95.7 85.7h.8M61.2 54.8h.8M105.2 69.1h.8M58.4 74.0h.8M60.7 66.6h.8M114.3 52.5h.8M65.8 51.7h.8M128.5 62.1h.8M99.9 73.3h.8M127.9 74.4h.8M139.2 63.1h.8M82.8 56.5h.8M83.5 69.4h.8M64.8 52.5h.8M58.2 46.9h.8M97.9 70.0h.8M74.2 60.7h.8M125.4 54.8h.8M115.4 66.2h.8M126.0 78.1h.8M58.2 40.5h.8M124.8 58.2h.8M57.9 89.9h.8M67.3 45.0h.8M116.6 49.3h.8M121.5 70.0h.8M60.7 45.3h.8M131.5 50.4h.8M64.7 58.9h.8M116.4 59.2h.8M51.4 57.6h.8M131.3 68.1h.8M52.9 44.3h.8M125.5 42.7h.8M81.3 61.4h.8M128.1 69.2h.8M76.9 62.0h.8M129.4 39.4h.8M62.7 68.7h.8M114.7 51.6h.8M124.7 78.4h.8M134.3 58.3h.8M111.1 58.0h.8M53.5 63.9h.8M140.5 74.7h.8M94.6 60.8h.8M98.3 55.6h.8M118.6 67.4h.8M139.3 54.9h.8M67.8 71.8h.8M121.8 60.4h.8M49.6 70.4h.8M133.6 46.9h.8M70.3 57.8h.8M56.7 53.0h.8M72.0 78.5h.8M59.4 59.1h.8M129.1 53.6h.8M134.8 64.7h.8M135.0 56.9h.8M92.4 48.1h.8M139.1 58.6h.8M59.9 66.7h.8M113.0 64.5h.8M122.7 57.3h.8M54.2 76.9h.8M67.6 75.7h.8M129.6 61.2h.8M111.6 62.7h.8M68.3 41.5h.8M109.5 46.1h.8M95.5 72.9h.8M126.5 68.0h.8M56.9 46.0h.8M66.9 65.2h.8M59.7 54.6h.8M74.5 78.9h.8M53.7 47.2h.8M135.6 52.4h.8M132.5 53.8h.8M108.9 69.9h.8M115.3 70.9h.8M60.4 62.7h.8M56.2 65.6h.8M129.7 81.1h.8M60.1 54.5h.8M71.6 52.7h.8M63.4 62.7h.8M125.7 71.9h.8M55.0 73.3h.8M126.0 68.8h.8M101.9 74.4h.8M66.0 60.8h.8M73.4 57.3h.8M113.6 65.5h.8M128.7 60.9h.8M59.8 48.3h.8M137.9 66.3h.8M93.7 64.4h.8M121.9 52.7h.8M125.0 60.4h.8M136.6 61.8h.8M134.5 76.0h.8M122.2 56.5h.8M67.0 62.2h.8M132.8 58.6h.8M59.1 74.8h.8M99.2 64.7h.8M77.5 70.0h.8M66.7 63.8h.8M130.0 63.3h.8M98.6 66.5h.8M140.6 72.3h.8M64.7 42.6h.8M53.4 59.3h.8M118.4 57.1h.8M51.9 50.8h.8M128.7 68.1h.8M88.2 53.0h.8M124.7 55.3h.8M58.3 49.2h.8M91.0 62.3h.8M132.5 59.7h.8M125.8 56.2h.8M138.8 47.3h.8M58.9 65.2h.8M120.2 64.8h.8M70.0 56.3h.8M132.6 58.3h.8M121.0 62.0h.8M128.1 66.5h.8M128.6 78.7h.8M65.6 59.2h.8M129.6 69.1h.8M57.3 35.0h.8M61.9 70.9h.8M62.7 42.0h.8M124.1 57.8h.8M129.1 54.3h.8M109.5 42.4h.8M115.0 60.2h.8M108.9 65.4h.8M123.2 70.3h.8M103.0 51.5h.8M62.2 85.2h.8M125.1 51.4h.8M68.3 50.2h.8M62.7 75.9h.8M130.8 67.8h.8M65.5 57.7h.8M128.3 58.5h.8M129.5 59.6h.8M57.6 60.5h.8M139.2 55.7h.8M62.7 73.5h.8M125.8 49.8h.8M132.2 54.0h.8M53.0 73.7h.8M139.9 47.8h.8M129.9 52.3h.8M56.5 66.4h.8M99.2 72.1h.8M126.9 62.6h.8M84.0 49.1h.8M92.8 71.0h.8M87.5 70.0h.8M60.4 57.7h.8M133.4 74.0h.8M75.4 59.9h.8M67.2 45.1h.8M121.5 59.3h.8M62.2 57.3h.8M126.9 62.8h.8M133.1 102.8h.8M112.2 56.8h.8M53.8 64.2h.8M139.4 48.5h.8M51.9 52.6h.8M55.4 56.0h.8M65.8 63.8h.8M127.1 63.1h.8M76.5 45.9h.8M59.6 73.8h.8M122.2 49.7h.8M128.9 55.5h.8M55.8 48.0h.8M119.5 62.4h.8M55.8 67.8h.8M73.2 62.9h.8M139.4 61.7h.8M60.6 66.0h.8M61.2 69.7h.8M93.7 62.4h.8M114.9 57.5h.8M106.5 76.6h.8M55.0 59.5h.8M103.7 46.9h.8M64.3 73.9h.8M115.3 79.5h.8M46.5 62.2h.8M61.7 74.1h.8M95.0 61.9h.8M138.2 59.9h.8M98.5 69.8h.8M128.4 65.0h.8M76.1 85.2h.8M68.5 73.7h.8M81.4 68.5h.8M64.6 67.8h.8M75.0 62.1h.8M71.3 61.2h.8M65.8 87.9h.8M85.4 70.4h.8M130.2 71.7h.8M121.5 71.9h.8M66.1 57.3h.8M73.2 66.4h.8M113.9 70.2h.8M119.3 63.2h.8M114.9 62.9h.8M95.3 81.5h.8M53.5 66.3h.8M123.4 52.2h.8M80.5 68.4h.8M73.2 68.3h.8M128.8 74.1h.8M135.2 62.8h.8M106.5 69.7h.8M95.9 49.3h.8M104.0 67.7h.8M69.5 60.5h.8M129.0 67.4h.8M75.6 62.0h.8M54.2 57.8h.8M102.4 48.3h.8M59.9 47.1h.8M118.1 47.7h.8M131.2 75.2h.8M57.7 60.8h.8M53.4 51.6h.8M74.6 60.3h.8M72.8 55.2h.8M73.2 67.0h.8M132.5 63.0h.8M95.9 50.8h.8M51.1 64.6h.8M49.0 39.5h.8M54.8 73.5h.8M54.5 64.6h.8M59.0 46.2h.8M86.0 57.2h.8M101.4 63.3h.8M119.4 63.4h.8M50.0 65.0h.8M63.6 72.7h.8M103.8 82.7h.8M53.1 51.3h.8M117.4 63.0h.8M115.5 69.6h.8M104.9 49.9h.8M127.3 78.2h.8M66.7 64.8h.8M68.1 65.7h.8M51.7 67.2h.8M131.8 56.8h.8M127.5 51.9h.8M132.8 62.4h.8M121.5 56.7h.8M135.3 56.2h.8M64.9 55.4h.8M82.5 70.4h.8M130.5 45.3h.8M57.9 62.1h.8M65.3 63.5h.8M48.9 61.3h.8M46.7 46.7h.8M59.1 77.2h.8M133.4 82.1h.8M60.8 55.2h.8M57.6 67.8h.8M64.5 71.6h.8M113.3 58.6h.8M57.5 56.1h.8M126.8 68.3h.8M119.8 58.5h.8M62.4 72.0h.8M137.7 50.4h.8M121.8 77.2h.8M99.7 69.8h.8M57.1 58.8h.8M70.6 61.2h.8M122.6 72.0h.8M66.4 66.0h.8M58.0 70.5h.8M59.7 46.2h.8M72.7 73.2h.8M121.7 69.0h.8M83.1 65.0h.8M115.3 70.5h.8M137.2 61.1h.8M81.2 60.3h.8M75.2 64.3h.8M134.8 79.8h.8M133.2 54.6h.8M65.1 59.9h.8M62.3 79.4h.8M110.6 71.1h.8M125.5 61.1h.8M53.1 33.8h.8M79.3 61.7h.8M85.2 59.0h.8M134.7 77.3h.8M130.5 80.1h.8M117.4 70.1h.8M68.7 48.2h.8M126.4 76.8h.8M79.1 52.8h.8M50.3 59.3h.8M62.2 70.8h.8M133.6 65.6h.8M65.6 55.5h.8M63.7 36.8h.8M80.6 71.4h.8M114.8 74.1h.8M66.3 68.5h.8M122.4 54.6h.8M67.1 68.6h.8M53.4 64.8h.8M93.1 51.6h.8M64.1 53.7h.8M135.2 55.5h.8M94.1 66.4h.8M62.7 55.0h.8M101.4 52.6h.8M133.5 43.1h.8M69.7 70.7h.8M122.8 68.6h.8M138.0 70.4h.8M94.7 61.0h.8M123.3 52.6h.8M92.2 78.0h.8M56.6 87.6h.8M128.0 48.8h.8M124.6 56.4h.8M58.7 58.7h.8M73.6 68.2h.8M114.3 57.5h.8M133.7 51.5h.8M125.5 81.3h.8M50.4 54.2h.8M134.1 56.0h.8M63.1 37.6h.8M129.3 41.5h.8M55.4 62.1h.8M64.0 77.6h.8M114.8 62.4h.8M132.4 65.1h.8M136.3 72.1h.8M118.7 42.8h.8M134.2 48.7h.8M117.7 43.0h.8M64.0 58.4h.8M121.0 52.9h.8M126.1 69.9h.8M81.9 61.4h.8M125.6 61.0h.8M76.8 54.4h.8M109.4 64.7h.8M65.7 60.4h.8M112.1 56.3h.8M65.1 76.8h.8M129.6 56.6h.8M134.4 58.1h.8M120.8 72.3h.8M116.2 45.1h.8M60.4 75.3h.8M54.0 77.2h.8M62.8 67.4h.8M71.6 63.4h.8M88.4 52.4h.8M86.5 59.4h.8M61.2 56.7h.8M108.5 50.9h.8M128.0 58.7h.8M118.8 80.3h.8M122.6 63.3h.8M139.9 67.4h.8M101.0 52.4h.8M121.8 67.5h.8M70.0 60.1h.8M134.2 54.0h.8M117.7 72.9h.8M64.5 80.5h.8M133.1 60.1h.8M52.8 63.9h.8M59.4 48.0h.8M84.2 65.0h.8M61.5 74.9h.8M122.0 78.3h.8M68.6 58.2h.8M97.9 62.5h.8M90.9 60.3h.8M123.6 54.9h.8M88.4 54.9h.8M137.3 54.7h.8M136.9 63.6h.8M121.1 73.9h.8M64.5 68.8h.8M72.5 63.2h.8M118.4 54.4h.8M110.3 70.8h.8M64.5 89.0h.8M112.7 66.4h.8M75.3 48.0h.8M61.4 94.8h.8M63.4 78.6h.8M140.6 76.9h.8M133.0 70.5h.8M97.0 70.4h.8M65.7 65.5h.8M55.3 51.8h.8M64.6 69.4h.8M124.4 50.3h.8M72.9 70.1h.8M62.3 74.2h.8M113.3 62.1h.8M129.6 49.8h.8M54.0 73.8h.8M67.0 68.7h.8M120.7 73.6h.8M79.3 61.1h.8M59.1 74.3h.8M95.0 58.4h.8M75.9 59.2h.8M64.8 56.4h.8M65.8 59.8h.8M99.7 52.5h.8M99.7 71.9h.8M63.3 64.5h.8M66.4 67.4h.8M73.4 67.3h.8M61.0 64.2h.8M70.9 79.6h.8M125.7 67.6h.8M68.8 76.9h.8M101.2 59.0h.8M76.0 53.5h.8M54.8 64.5h.8M89.5 54.6h.8M123.9 45.9h.8M131.3 77.0h.8M140.9 45.3h.8M105.3 53.0h.8M51.7 60.8h.8M140.2 64.7h.8M132.6 63.2h.8M65.4 59.5h.8M113.7 78.9h.8M99.0 47.0h.8M99.0 70.7h.8M53.5 79.8h.8M71.8 67.0h.8M57.5 68.1h.8M118.9 63.7h.8M106.5 51.8h.8M96.6 54.0h.8M130.3 43.5h.8M122.7 92.3h.8M81.3 55.7h.8M83.1 68.2h.8M128.9 49.5h.8M54.3 72.8h.8M102.7 53.8h.8M108.0 59.4h.8M70.4 65.4h.8M121.1 70.0h.8M133.1 86.6h.8M54.1 61.6h.8M128.9 62.4h.8M54.3 46.8h.8M55.9 45.0h.8M64.6 62.1h.8M67.8 57.9h.8M133.3 59.3h.8M120.9 63.3h.8M54.2 48.6h.8M85.4 68.7h.8M64.7 43.8h.8M66.7 77.7h.8M63.8 76.2h.8M122.8 67.3h.8M138.4 60.5h.8M84.4 61.0h.8M57.7 56.3h.8M51.6 69.4h.8M110.0 57.4h.8M139.9 52.8h.8M125.6 64.5h.8M63.6 52.4h.8M139.7 51.5h.8M136.0 73.2h.8M123.0 55.8h.8M138.3 43.6h.8M120.6 66.2h.8M127.6 75.7h.8M67.9 54.1h.8M103.6 62.9h.8M132.5 64.7h.8M113.5 68.6h.8M121.8 76.4h.8M77.4 59.3h.8M103.7 42.8h.8M67.8 66.0h.8M104.7 51.3h.8M64.2 57.0h.8M130.9 61.0h.8M59.7 67.8h.8M118.8 66.9h.8M61.5 70.8h.8M96.2 42.5h.8M126.0 81.1h.8M62.1 64.1h.8M59.8 59.9h.8M122.7 63.2h.8M131.4 65.1h.8M71.0 67.5h.8M100.7 66.8h.8M139.2 57.7h.8M116.5 53.6h.8M138.9 62.8h.8M128.8 63.6h.8M54.1 82.1h.8M53.6 63.6h.8M79.0 55.9h.8M62.2 49.6h.8M130.6 63.1h.8M120.1 42.9h.8M125.4 55.2h.8M94.9 63.6h.8M61.7 66.0h.8M61.8 78.7h.8M67.4 63.8h.8M69.8 65.1h.8M141.1 69.4h.8M75.2 77.8h.8M66.9 65.3h.8M110.1 61.4h.8M67.8 35.0h.8M137.0 48.3h.8M98.3 65.0h.8M67.6 48.7h.8M131.4 76.1h.8M75.4 63.5h.8M114.6 62.1h.8M121.5 84.4h.8M68.5 62.0h.8M59.7 62.5h.8M135.1 50.4h.8M79.1 72.7h.8M85.6 71.2h.8M62.2 63.3h.8M130.3 57.0h.8M128.8 57.5h.8M125.5 80.3h.8M111.3 77.9h.8M72.7 62.0h.8M134.8 68.1h.8M125.8 55.0h.8M67.7 58.9h.8M66.6 49.4h.8M63.7 53.0h.8M71.0 50.9h.8M106.1 52.1h.8M129.5 54.8h.8M67.5 45.5h.8M135.3 67.8h.8M72.0 70.9h.8M129.5 40.1h.8M71.1 65.2h.8M57.7 54.1h.8M49.7 88.2h.8M113.9 64.1h.8M129.6 54.9h.8M56.6 45.6h.8M58.9 68.3h.8M69.0 69.9h.8M61.9 58.9h.8M62.9 72.3h.8M128.3 60.3h.8M87.7 61.7h.8M105.0 57.4h.8M60.4 63.7h.8M57.8 38.7h.8M68.0 96.1h.8M53.7 62.4h.8M78.2 58.1h.8M116.9 60.5h.8M63.5 79.9h.8M60.9 45.5h.8M61.2 66.0h.8M140.5 85.8h.8M89.1 54.5h.8M63.9 58.7h.8M61.6 68.1h.8M71.0 51.5h.8M132.4 48.2h.8M116.8 44.0h.8M130.4 75.5h.8M131.1 67.3h.8M63.4 56.1h.8M101.5 77.0h.8M85.6 73.1h.8M55.3 50.6h.8M122.3 49.4h.8M130.7 69.0h.8M64.4 58.9h.8M65.1 74.4h.8M121.0 65.2h.8M108.8 77.5h.8M127.0 57.3h.8M123.4 61.2h.8M68.9 47.9h.8M75.9 64.7h.8M131.5 86.3h.8M88.4 61.3h.8M53.8 55.8h.8M68.5 65.4h.8M97.0 73.9h.8M62.4 66.7h.8M97.6 66.9h.8M124.5 70.3h.8M127.8 64.0h.8M129.7 56.0h.8M92.1 56.2h.8M114.3 70.1h.8M66.3 50.3h.8M138.3 60.7h.8M96.8 70.2h.8M127.3 53.7h.8M59.7 66.0h.8M90.7 61.1h.8M58.3 54.9h.8M60.5 60.2h.8M70.2 57.2h.8M92.3 65.0h.8M133.5 49.9h.8M98.7 56.1h.8M66.6 46.9h.8M66.1 58.9h.8M50.8 74.2h.8M81.7 66.7h.8M110.6 62.5h.8M68.6 76.5h.8M84.7 58.8h.8M122.9 63.7h.8M57.8 56.6h.8M62.5 60.7h.8M117.5 73.4h.8M137.2 61.0h.8M97.4 55.7h.8M127.5 65.7h.8M123.2 70.1h.8M121.1 59.7h.8M135.8 69.1h.8M127.9 49.0h.8M59.6 59.8h.8M56.3 69.6h.8M73.3 76.0h.8M64.9 67.8h.8M126.8 77.8h.8M63.8 62.5h.8M120.7 59.9h.8M140.4 61.7h.8M133.7 56.5h.8M63.4 67.2h.8M65.1 66.0h.8M63.8 60.4h.8M110.2 64.7h.8M62.9 62.3h.8M103.5 71.2h.8M57.7 61.1h.8M121.1 58.9h.8M89.5 61.2h.8M123.0 61.5h.8M127.4 63.8h.8M59.7 62.3h.8M78.2 56.8h.8M126.5 70.8h.8M60.3 88.9h.8M97.2 66.8h.8M80.8 54.6h.8M50.8 50.9h.8M71.4 50.6h.8M133.7 70.6h.8M98.8 68.2h.8M141.1 60.4h.8M137.7 58.9h.8M119.3 65.6h.8M141.4 61.0h.8M65.9 73.5h.8M125.8 64.4h.8M136.8 66.0h.8M80.6 58.8h.8M133.3 62.1h.8M134.3 57.8h.8M117.3 57.1h.8M132.8 71.5h.8M66.4 49.2h.8M130.4 66.8h.8M59.6 69.8h.8M57.8 58.3h.8M59.0 48.6h.8M115.5 84.4h.8M53.7 82.1h.8M70.5 60.7h.8M65.4 73.8h.8M52.7 46.9h.8M121.5 45.6h.8M140.2 71.9h.8M58.1 42.9h.8M108.4 55.9h.8M55.3 71.0h.8M57.5 64.5h.8M60.2 49.3h.8M81.5 69.0h.8M98.2 68.9h.8M119.4 74.4h.8M124.5 66.6h.8M62.8 56.5h.8M102.6 55.4h.8M97.6 51.6h.8M69.7 64.0h.8M133.5 59.0h.8M139.1 69.2h.8M63.2 53.6h.8M134.0 67.8h.8M97.4 56.8h.8M59.7 61.7h.8M104.3 65.7h.8M59.9 72.4h.8M120.8 54.1h.8M127.6 67.1h.8M75.9 57.2h.8M68.7 67.0h.8M88.8 51.9h.8M137.9 64.9h.8M120.7 60.4h.8M134.4 61.0h.8M112.8 57.0h.8M138.1 49.0h.8M60.8 35.8h.8M59.0 71.2h.8M110.7 46.8h.8M67.4 75.0h.8M139.0 51.4h.8M67.5 38.2h.8M82.3 59.9h.8M66.6 41.5h.8M60.6 81.7h.8M132.3 61.1h.8M129.8 52.8h.8M115.9 56.1h.8M72.7 47.8h.8M63.1 51.9h.8M93.7 61.4h.8M73.2 67.2h.8M128.0 78.6h.8M107.3 49.9h.8M89.3 65.2h.8M128.8 61.3h.8M132.3 64.4h.8M138.4 63.7h.8M78.1 63.6h.8M116.4 60.0h.8M96.6 53.5h.8M108.7 64.4h.8M68.5 79.4h.8M108.0 74.7h.8M60.8 57.4h.8M75.2 60.3h.8M115.0 75.6h.8M116.7 60.6h.8M116.8 67.9h.8M62.3 58.1h.8M129.1 63.3h.8M132.9 53.5h.8M116.7 51.9h.8M139.7 55.8h.8M122.0 73.4h.8M56.1 64.0h.8M113.4 43.8h.8M124.7 62.4h.8M62.6 51.0h.8M127.6 56.8h.8M123.8 42.3h.8M49.4 76.1h.8M78.7 67.5h.8M58.0 72.5h.8M136.2 55.1h.8M57.1 63.4h.8M94.8 71.0h.8M76.2 77.3h.8M84.0 57.8h.8M118.6 94.8h.8M100.1 66.7h.8M139.1 63.7h.8M62.7 58.1h.8M106.3 69.5h.8M141.3 45.7h.8M110.7 68.3h.8M124.1 50.6h.8M96.6 55.1h.8M135.4 63.5h.8M100.5 75.0h.8M112.8 51.9h.8M74.2 66.0h.8M54.0 71.7h.8M67.7 57.1h.8M86.2 62.0h.8M132.4 51.6h.8M98.3 49.3h.8M95.0 76.9h.8M50.5 67.9h.8M55.3 87.0h.8M67.1 66.3h.8M62.3 69.9h.8M126.1 65.2h.8M70.6 63.4h.8M59.9 42.2h.8M65.0 53.5h.8M74.0 68.5h.8M61.2 48.0h.8M100.1 60.7h.8M123.1 30.0h.8M119.8 50.8h.8M133.3 59.1h.8M130.0 85.3h.8M59.1 76.1h.8M127.0 73.0h.8M115.1 73.6h.8M63.2 72.2h.8M58.9 54.6h.8M61.0 56.2h.8M95.1 68.9h.8M93.9 64.7h.8M123.0 58.9h.8M137.2 67.9h.8M53.2 58.3h.8M62.0 39.3h.8M115.1 70.2h.8M123.8 59.1h.8M59.2 53.4h.8M134.1 74.1h.8M127.0 61.2h.8M119.0 67.6h.8M114.5 64.3h.8M120.2 71.2h.8M76.3 65.6h.8M74.1 59.6h.8M120.9 56.4h.8M84.6 67.5h.8M106.7 63.1h.8M125.3 62.7h.8M84.2 55.3h.8M47.9 58.3h.8M87.0 55.7h.8M83.3 61.0h.8M124.6 75.8h.8M135.8 74.0h.8M136.0 71.2h.8M105.0 60.8h.8M53.3 62.7h.8M129.1 46.5h.8M91.4 63.9h.8M117.6 53.6h.8M128.2 46.7h.8M132.8 76.1h.8M65.0 69.5h.8M65.3 50.1h.8M134.9 59.7h.8M133.2 42.3h.8M93.0 68.9h.8M125.5 67.3h.8M77.6 74.7h.8M126.4 61.6h.8M127.2 54.7h.8M62.7 54.8h.8M92.8 58.6h.8M121.1 35.2h.8M81.5 55.1h.8M60.6 72.6h.8M81.6 68.8h.8M66.4 59.1h.8M119.4 66.1h.8M66.0 59.7h.8M65.3 45.6h.8M113.2 60.3h.8M64.8 73.7h.8M49.8 57.9h.8M90.8 56.2h.8M57.0 63.1h.8M54.8 65.3h.8M84.8 56.9h.8M100.7 68.6h.8M60.9 54.1h.8M140.6 50.8h.8M67.7 69.9h.8M50.2 65.5h.8M126.9 54.3h.8M137.3 62.4h.8M58.8 42.4h.8M139.3 60.2h.8M70.0 42.3h.8M101.9 70.1h.8M57.8 58.7h.8M134.1 54.3h.8M121.4 60.0h.8M62.7 66.7h.8M69.6 67.3h.8M63.8 59.9h.8M63.4 56.7h.8M55.5 60.3h.8M128.5 65.9h.8M68.5 86.4h.8M74.4 55.5h.8M116.6 53.6h.8M121.9 76.6h.8M123.7 50.3h.8M139.0 63.0h.8M111.3 59.3h.8M130.3 77.6h.8M132.3 66.4h.8M107.3 62.9h.8M133.3 57.2h.8M85.9 57.9h.8M102.6 72.2h.8M80.3 62.5h.8M62.2 63.1h.8M54.4 52.0h.8M123.1 54.0h.8M129.4 37.1h.8M66.5 51.3h.8M115.9 65.1h.8M51.9 76.8h.8M73.3 42.2h.8M63.4 71.7h.8M69.8 56.2h.8M52.8 65.4h.8M109.0 65.2h.8M132.4 70.2h.8M139.3 70.7h.8M118.9 50.0h.8M90.1 54.9h.8M107.8 54.6h.8M71.8 67.7h.8M75.5 68.0h.8M140.4 88.7h.8M116.0 51.3h.8M86.2 55.8h.8M129.2 75.4h.8M77.4 61.7h.8M119.9 57.8h.8M119.0 66.5h.8M70.6 60.9h.8M62.8 53.3h.8M46.9 61.4h.8M98.5 50.7h.8M90.7 65.9h.8M58.8 80.3h.8M65.8 56.8h.8M75.7 67.9h.8M130.6 57.0h.8M119.9 74.0h.8M65.6 53.3h.8M90.9 59.2h.8M86.1 76.4h.8M58.5 53.1h.8M122.6 68.5h.8M124.3 54.8h.8" stroke="#666" stroke-width="0.8" fill="none" opacity="0.75"/>
<ellipse cx="60.6" cy="61.1" rx="10" ry="35" fill="none" stroke="#707070" stroke-width="1.2"/>
<ellipse cx="126.3" cy="61" rx="15" ry="35" fill="none" stroke="#222" stroke-width="1.6"/>
<text x="53.4" y="100.2" font-size="4.2" font-weight="bold" text-anchor="middle" fill="#999"  stroke="#999" stroke-width="0.15">R1</text>
<text x="120.8" y="100.3" font-size="4.5" font-weight="bold" text-anchor="middle" fill="#222"  stroke="#222" stroke-width="0.15">R2</text>
<text transform="translate(36.2,64) rotate(-90)" font-size="4.4" font-weight="bold" text-anchor="middle" fill="#3a3a3a" stroke="#3a3a3a" stroke-width="0.15">FSC-H</text>
<text transform="translate(37.6,27) rotate(-90)" font-size="3" font-weight="bold" text-anchor="middle" fill="#666" stroke="#666" stroke-width="0.15">(x 1,000)</text>
<text x="92.3" y="121.3" font-size="4.4" font-weight="bold" text-anchor="middle" fill="#3a3a3a"  stroke="#3a3a3a" stroke-width="0.15">FSC-A</text>
<rect x="41.5" y="112.8" width="4" height="2" fill="#777" filter="url(#b05)"/>
<rect x="54.5" y="112.8" width="4" height="2" fill="#777" filter="url(#b05)"/>
<rect x="62" y="112.8" width="4" height="2" fill="#777" filter="url(#b05)"/>
<rect x="86" y="112.8" width="4" height="2" fill="#777" filter="url(#b05)"/>
<rect x="109" y="112.8" width="4" height="2" fill="#777" filter="url(#b05)"/>
<rect x="131" y="112.8" width="4" height="2" fill="#777" filter="url(#b05)"/>
<line x1="43.5" y1="109" x2="142" y2="109" stroke="#888" stroke-width="1.2" stroke-dasharray="0.5 1.4"/>
<rect x="39.6" y="23.9" width="2" height="3.2" fill="#777" filter="url(#b05)"/>
<rect x="42.2" y="25.2" width="1.3" height="0.6" fill="#777"/>
<rect x="39.6" y="40.4" width="2" height="3.2" fill="#777" filter="url(#b05)"/>
<rect x="42.2" y="41.7" width="1.3" height="0.6" fill="#777"/>
<rect x="39.6" y="56.9" width="2" height="3.2" fill="#777" filter="url(#b05)"/>
<rect x="42.2" y="58.2" width="1.3" height="0.6" fill="#777"/>
<rect x="39.6" y="73.4" width="2" height="3.2" fill="#777" filter="url(#b05)"/>
<rect x="42.2" y="74.7" width="1.3" height="0.6" fill="#777"/>
<rect x="39.6" y="89.9" width="2" height="3.2" fill="#777" filter="url(#b05)"/>
<rect x="42.2" y="91.2" width="1.3" height="0.6" fill="#777"/>
<rect x="145" y="12" width="116.5" height="112" fill="#fff" stroke="#8a8a8a" stroke-width="1.1"/>
<rect x="162.5" y="21" width="95.5" height="86.5" fill="#fff" stroke="#666" stroke-width="0.8"/>
<path d="M162.7 107.5L162.7 48.6L163.8 37.0L165.0 23.3L166.2 35.3L167.3 40.2L168.5 47.5L169.6 65.2L170.8 67.3L171.9 73.5L173.1 79.9L174.2 92.3L175.4 96.7L176.5 101.8L177.7 102.8L178.8 105.9L179.0 107.5Z" fill="#c8c8c8" stroke="#b4b4b4" stroke-width="0.4"/>
<path d="M162.7 107.5L162.7 26.2L163.8 32.9L165.0 30.2L166.2 40.8L167.3 49.8L168.5 51.1L169.6 63.3L170.8 64.9L171.9 75.5L173.1 85.0L174.2 91.6L175.4 97.5L176.5 103.5L177.7 106.5L178.0 107.5Z" fill="#7e7e7e" stroke="#6a6a6a" stroke-width="0.4"/>
<line x1="179.5" y1="21.5" x2="179.5" y2="107.5" stroke="#111" stroke-width="2" stroke-dasharray="6.27 2.38"/>
<text x="203" y="7.7" font-size="8.7" font-weight="bold" text-anchor="middle" fill="#000"  stroke="#000" stroke-width="0.28">ISOTYPE</text>
<rect x="157.9" y="24.1" width="2.4" height="1.8" fill="#6a6a6a" filter="url(#b05)"/>
<rect x="161.1" y="24.7" width="1.4" height="0.6" fill="#777"/>
<rect x="157.9" y="37.85" width="2.4" height="1.8" fill="#6a6a6a" filter="url(#b05)"/>
<rect x="161.1" y="38.45" width="1.4" height="0.6" fill="#777"/>
<rect x="157.9" y="51.6" width="2.4" height="1.8" fill="#6a6a6a" filter="url(#b05)"/>
<rect x="161.1" y="52.2" width="1.4" height="0.6" fill="#777"/>
<rect x="157.9" y="65.35" width="2.4" height="1.8" fill="#6a6a6a" filter="url(#b05)"/>
<rect x="161.1" y="65.95" width="1.4" height="0.6" fill="#777"/>
<rect x="157.9" y="79.1" width="2.4" height="1.8" fill="#6a6a6a" filter="url(#b05)"/>
<rect x="161.1" y="79.7" width="1.4" height="0.6" fill="#777"/>
<rect x="157.9" y="92.85" width="2.4" height="1.8" fill="#6a6a6a" filter="url(#b05)"/>
<rect x="161.1" y="93.45" width="1.4" height="0.6" fill="#777"/>
<rect x="157.9" y="106.6" width="2.4" height="1.8" fill="#6a6a6a" filter="url(#b05)"/>
<rect x="161.1" y="107.2" width="1.4" height="0.6" fill="#777"/>
<line x1="162.5" y1="108.4" x2="258" y2="108.4" stroke="#999" stroke-width="1" stroke-dasharray="0.5 1.3"/>
<rect x="175.9" y="109.9" width="3.2" height="2" fill="#777" filter="url(#b05)"/>
<rect x="198.9" y="109.9" width="3.2" height="2" fill="#777" filter="url(#b05)"/>
<rect x="222.4" y="109.9" width="3.2" height="2" fill="#777" filter="url(#b05)"/>
<rect x="245.9" y="109.9" width="3.2" height="2" fill="#777" filter="url(#b05)"/>
<text transform="translate(153.25,65.25) rotate(-90)" font-size="4.6" font-weight="bold" text-anchor="middle" fill="#444" stroke="#444" stroke-width="0.15">Count</text>
<text x="210.25" y="119.4" font-size="4.7" font-weight="bold" text-anchor="middle" fill="#444" stroke="#444" stroke-width="0.15">PE-A</text>
<rect x="262" y="11.5" width="115" height="114.0" fill="#fff" stroke="#8a8a8a" stroke-width="1.1"/>
<rect x="277.5" y="21" width="97.0" height="87" fill="#fff" stroke="#666" stroke-width="0.8"/>
<path d="M278.0 108.0L278.0 106.3L279.1 103.4L280.3 101.9L281.4 103.0L282.6 104.2L283.7 102.1L284.9 100.0L286.0 98.9L287.2 98.1L288.3 98.4L289.5 98.7L290.6 95.9L291.8 93.4L292.9 95.1L294.1 89.1L295.2 91.5L296.4 89.7L297.5 89.5L298.7 78.4L299.8 78.7L301.0 74.0L302.1 73.9L303.3 79.1L304.4 72.1L305.6 66.0L306.7 69.1L307.9 49.1L309.0 57.1L310.2 58.3L311.3 38.7L312.5 52.5L313.6 28.0L314.8 38.7L315.9 35.3L317.1 43.1L318.2 41.1L319.4 51.4L320.5 58.4L321.7 42.7L322.8 61.4L324.0 55.7L325.1 71.1L326.3 64.5L327.4 71.6L328.6 79.0L329.7 84.7L330.9 90.0L332.0 92.4L333.2 98.6L334.3 100.3L335.5 101.9L336.6 104.5L337.8 104.9L338.9 106.5L340.0 108.0Z" fill="#c8c8c8" stroke="#b4b4b4" stroke-width="0.4"/>
<path d="M278.0 108.0L278.0 108.0L279.1 107.8L280.3 107.7L281.4 107.3L282.6 107.3L283.7 107.2L284.9 106.6L286.0 106.4L287.2 105.7L288.3 105.8L289.5 104.7L290.6 104.8L291.8 103.7L292.9 102.3L294.1 101.9L295.2 100.6L296.4 100.1L297.5 101.0L298.7 97.6L299.8 97.5L301.0 97.6L302.1 97.2L303.3 93.4L304.4 93.6L305.6 90.8L306.7 90.6L307.9 88.4L309.0 88.5L310.2 85.2L311.3 83.4L312.5 84.1L313.6 75.3L314.8 77.5L315.9 66.6L317.1 58.4L318.2 57.5L319.4 61.5L320.5 43.8L321.7 41.7L322.8 48.6L324.0 48.7L325.1 34.5L326.3 48.8L327.4 30.1L328.6 44.1L329.7 50.0L330.9 58.1L332.0 63.1L333.2 69.9L334.3 84.6L335.5 90.3L336.6 95.7L337.8 101.2L338.9 104.4L340.0 108.0Z" fill="#7e7e7e" stroke="#6a6a6a" stroke-width="0.4"/>
<line x1="293.7" y1="21.5" x2="293.7" y2="108" stroke="#111" stroke-width="2" stroke-dasharray="6.31 2.39"/>
<text x="319.5" y="7.9" font-size="8.7" font-weight="bold" text-anchor="middle" fill="#000"  stroke="#000" stroke-width="0.28">DYN K44A</text>
<rect x="272.9" y="24.1" width="2.4" height="1.8" fill="#6a6a6a" filter="url(#b05)"/>
<rect x="276.1" y="24.7" width="1.4" height="0.6" fill="#777"/>
<rect x="272.9" y="37.93333333333334" width="2.4" height="1.8" fill="#6a6a6a" filter="url(#b05)"/>
<rect x="276.1" y="38.53333333333334" width="1.4" height="0.6" fill="#777"/>
<rect x="272.9" y="51.76666666666667" width="2.4" height="1.8" fill="#6a6a6a" filter="url(#b05)"/>
<rect x="276.1" y="52.366666666666674" width="1.4" height="0.6" fill="#777"/>
<rect x="272.9" y="65.6" width="2.4" height="1.8" fill="#6a6a6a" filter="url(#b05)"/>
<rect x="276.1" y="66.2" width="1.4" height="0.6" fill="#777"/>
<rect x="272.9" y="79.43333333333334" width="2.4" height="1.8" fill="#6a6a6a" filter="url(#b05)"/>
<rect x="276.1" y="80.03333333333335" width="1.4" height="0.6" fill="#777"/>
<rect x="272.9" y="93.26666666666667" width="2.4" height="1.8" fill="#6a6a6a" filter="url(#b05)"/>
<rect x="276.1" y="93.86666666666667" width="1.4" height="0.6" fill="#777"/>
<rect x="272.9" y="107.1" width="2.4" height="1.8" fill="#6a6a6a" filter="url(#b05)"/>
<rect x="276.1" y="107.7" width="1.4" height="0.6" fill="#777"/>
<line x1="277.5" y1="108.9" x2="374.5" y2="108.9" stroke="#999" stroke-width="1" stroke-dasharray="0.5 1.3"/>
<rect x="290.9" y="110.4" width="3.2" height="2" fill="#777" filter="url(#b05)"/>
<rect x="314.4" y="110.4" width="3.2" height="2" fill="#777" filter="url(#b05)"/>
<rect x="338.4" y="110.4" width="3.2" height="2" fill="#777" filter="url(#b05)"/>
<rect x="362.4" y="110.4" width="3.2" height="2" fill="#777" filter="url(#b05)"/>
<text transform="translate(268.25,65.5) rotate(-90)" font-size="4.6" font-weight="bold" text-anchor="middle" fill="#444" stroke="#444" stroke-width="0.15">Count</text>
<text x="329" y="124.1" font-size="4.7" font-weight="bold" text-anchor="middle" fill="#444" stroke="#444" stroke-width="0.15">PE-A</text>
<rect x="377.3" y="11.5" width="118.19999999999999" height="115.5" fill="#fff" stroke="#8a8a8a" stroke-width="1.1"/>
<rect x="388" y="18.8" width="105.5" height="95.2" fill="#fff" stroke="#666" stroke-width="0.8"/>
<path d="M388.0 114.0L388.0 111.6L389.1 110.7L390.3 109.5L391.4 108.0L392.6 108.4L393.7 107.5L394.9 106.1L396.0 102.9L397.2 104.4L398.3 100.3L399.5 98.8L400.6 100.3L401.8 96.0L402.9 93.1L404.1 89.5L405.2 78.8L406.4 85.7L407.5 82.5L408.7 62.1L409.8 66.6L411.0 66.5L412.1 59.4L413.3 54.2L414.4 33.6L415.6 49.3L416.7 44.5L417.9 27.6L419.0 24.8L420.2 19.8L421.3 19.8L422.5 29.2L423.6 37.4L424.8 19.8L425.9 19.8L427.1 49.2L428.2 29.2L429.4 27.7L430.5 36.7L431.7 51.4L432.8 38.9L434.0 44.8L435.1 61.8L436.3 55.2L437.4 68.0L438.6 74.5L439.7 71.6L440.9 74.5L442.0 76.4L443.2 75.7L444.3 76.6L445.5 79.1L446.6 83.0L447.8 86.9L448.9 92.6L450.1 99.5L451.2 102.8L452.4 103.5L453.5 106.7L454.7 109.1L455.8 112.1L457.0 114.0L457.0 114.0Z" fill="#c8c8c8" stroke="#b4b4b4" stroke-width="0.4"/>
<path d="M388.0 114.0L388.0 111.4L389.1 110.5L390.3 109.6L391.4 107.7L392.6 107.4L393.7 105.7L394.9 106.3L396.0 103.9L397.2 101.5L398.3 101.3L399.5 97.2L400.6 95.2L401.8 96.2L402.9 95.3L404.1 84.8L405.2 86.8L406.4 84.2L407.5 69.8L408.7 62.5L409.8 56.8L411.0 50.5L412.1 61.5L413.3 60.9L414.4 57.1L415.6 34.0L416.7 51.3L417.9 47.1L419.0 48.1L420.2 44.7L421.3 43.6L422.5 36.1L423.6 42.7L424.8 40.3L425.9 25.7L427.1 47.2L428.2 32.6L429.4 37.0L430.5 43.5L431.7 45.7L432.8 44.6L434.0 51.9L435.1 62.2L436.3 63.3L437.4 67.8L438.6 68.2L439.7 62.3L440.9 73.8L442.0 81.4L443.2 79.1L444.3 78.7L445.5 86.0L446.6 87.2L447.8 95.4L448.9 98.6L450.1 98.4L451.2 103.7L452.4 105.0L453.5 107.3L454.7 109.9L455.8 112.1L457.0 114.0L457.0 114.0Z" fill="#7e7e7e" stroke="#6a6a6a" stroke-width="0.4"/>
<line x1="404.7" y1="19.3" x2="404.7" y2="114" stroke="#111" stroke-width="2" stroke-dasharray="6.90 2.62"/>
<text x="435" y="7.2" font-size="8.7" font-weight="bold" text-anchor="middle" fill="#000"  stroke="#000" stroke-width="0.28">RAB5 S34N</text>
<rect x="383.4" y="21.900000000000002" width="2.4" height="1.8" fill="#6a6a6a" filter="url(#b05)"/>
<rect x="386.6" y="22.5" width="1.4" height="0.6" fill="#777"/>
<rect x="383.4" y="37.1" width="2.4" height="1.8" fill="#6a6a6a" filter="url(#b05)"/>
<rect x="386.6" y="37.7" width="1.4" height="0.6" fill="#777"/>
<rect x="383.4" y="52.300000000000004" width="2.4" height="1.8" fill="#6a6a6a" filter="url(#b05)"/>
<rect x="386.6" y="52.900000000000006" width="1.4" height="0.6" fill="#777"/>
<rect x="383.4" y="67.5" width="2.4" height="1.8" fill="#6a6a6a" filter="url(#b05)"/>
<rect x="386.6" y="68.10000000000001" width="1.4" height="0.6" fill="#777"/>
<rect x="383.4" y="82.7" width="2.4" height="1.8" fill="#6a6a6a" filter="url(#b05)"/>
<rect x="386.6" y="83.30000000000001" width="1.4" height="0.6" fill="#777"/>
<rect x="383.4" y="97.89999999999999" width="2.4" height="1.8" fill="#6a6a6a" filter="url(#b05)"/>
<rect x="386.6" y="98.5" width="1.4" height="0.6" fill="#777"/>
<rect x="383.4" y="113.1" width="2.4" height="1.8" fill="#6a6a6a" filter="url(#b05)"/>
<rect x="386.6" y="113.7" width="1.4" height="0.6" fill="#777"/>
<line x1="388" y1="114.9" x2="493.5" y2="114.9" stroke="#999" stroke-width="1" stroke-dasharray="0.5 1.3"/>
<rect x="401.9" y="116.4" width="3.2" height="2" fill="#777" filter="url(#b05)"/>
<rect x="428.4" y="116.4" width="3.2" height="2" fill="#777" filter="url(#b05)"/>
<rect x="455.4" y="116.4" width="3.2" height="2" fill="#777" filter="url(#b05)"/>
<rect x="481.4" y="116.4" width="3.2" height="2" fill="#777" filter="url(#b05)"/>
<text transform="translate(382.5,67.4) rotate(-90)" font-size="4.6" font-weight="bold" text-anchor="middle" fill="#444" stroke="#444" stroke-width="0.15">Count</text>
<text x="443.5" y="124" font-size="4.7" font-weight="bold" text-anchor="middle" fill="#444" stroke="#444" stroke-width="0.15">PE-A</text>
<rect x="28.7" y="140" width="115.3" height="112" fill="#fff" stroke="#8a8a8a" stroke-width="1.1"/>
<rect x="38.8" y="147.5" width="103.7" height="91.30000000000001" fill="#fff" stroke="#666" stroke-width="0.8"/>
<path d="M39.0 238.8L39.0 238.8L40.1 238.6L41.3 238.4L42.4 238.1L43.6 237.9L44.7 237.7L45.9 237.5L47.0 237.4L48.2 237.0L49.3 236.9L50.5 236.2L51.6 235.4L52.8 234.1L53.9 234.0L55.1 233.8L56.2 233.0L57.4 230.6L58.5 230.1L59.7 223.7L60.8 219.5L62.0 220.1L63.1 208.9L64.3 213.1L65.4 195.5L66.6 188.9L67.7 194.5L68.9 177.6L70.0 170.8L71.2 181.5L72.4 161.3L73.5 172.8L74.7 148.5L75.8 148.5L77.0 148.5L78.1 167.0L79.3 160.5L80.4 153.3L81.6 156.5L82.7 171.9L83.9 153.0L85.0 156.8L86.2 175.9L87.3 183.3L88.5 173.8L89.6 183.6L90.8 182.3L91.9 190.5L93.1 196.8L94.2 207.1L95.4 209.4L96.5 209.9L97.7 212.2L98.8 220.1L100.0 223.2L101.1 228.3L102.3 231.3L103.4 235.1L104.6 237.0L105.7 238.5L106.0 238.8Z" fill="#c8c8c8" stroke="#b4b4b4" stroke-width="0.4"/>
<path d="M39.0 238.8L39.0 236.7L40.1 236.4L41.3 235.3L42.4 234.5L43.6 232.7L44.7 231.1L45.9 228.4L47.0 229.3L48.2 226.1L49.3 226.3L50.5 223.9L51.6 221.1L52.8 223.0L53.9 220.9L55.1 215.5L56.2 213.9L57.4 214.5L58.5 208.0L59.7 201.3L60.8 207.2L62.0 192.4L63.1 190.3L64.3 192.6L65.4 192.6L66.6 174.3L67.7 182.8L68.9 184.8L70.0 181.8L71.2 162.3L72.4 165.6L73.5 164.4L74.7 170.6L75.8 178.6L77.0 174.1L78.1 188.9L79.3 189.5L80.4 188.8L81.6 195.2L82.7 195.2L83.9 202.1L85.0 203.9L86.2 213.7L87.3 213.9L88.5 215.5L89.6 219.3L90.8 220.2L91.9 223.1L93.1 224.1L94.2 224.6L95.4 228.0L96.5 230.2L97.7 232.8L98.8 234.4L100.0 235.3L101.1 237.4L102.0 238.8Z" fill="#7e7e7e" stroke="#6a6a6a" stroke-width="0.4"/>
<line x1="57" y1="148.0" x2="57" y2="238.8" stroke="#111" stroke-width="2" stroke-dasharray="6.62 2.51"/>
<text x="95.2" y="135.7" font-size="8.7" font-weight="bold" text-anchor="middle" fill="#000"  stroke="#000" stroke-width="0.28">RAB4 Q67L</text>
<rect x="34.199999999999996" y="150.6" width="2.4" height="1.8" fill="#6a6a6a" filter="url(#b05)"/>
<rect x="37.4" y="151.2" width="1.4" height="0.6" fill="#777"/>
<rect x="34.199999999999996" y="165.15" width="2.4" height="1.8" fill="#6a6a6a" filter="url(#b05)"/>
<rect x="37.4" y="165.75" width="1.4" height="0.6" fill="#777"/>
<rect x="34.199999999999996" y="179.7" width="2.4" height="1.8" fill="#6a6a6a" filter="url(#b05)"/>
<rect x="37.4" y="180.29999999999998" width="1.4" height="0.6" fill="#777"/>
<rect x="34.199999999999996" y="194.25" width="2.4" height="1.8" fill="#6a6a6a" filter="url(#b05)"/>
<rect x="37.4" y="194.85" width="1.4" height="0.6" fill="#777"/>
<rect x="34.199999999999996" y="208.8" width="2.4" height="1.8" fill="#6a6a6a" filter="url(#b05)"/>
<rect x="37.4" y="209.4" width="1.4" height="0.6" fill="#777"/>
<rect x="34.199999999999996" y="223.35" width="2.4" height="1.8" fill="#6a6a6a" filter="url(#b05)"/>
<rect x="37.4" y="223.95" width="1.4" height="0.6" fill="#777"/>
<rect x="34.199999999999996" y="237.9" width="2.4" height="1.8" fill="#6a6a6a" filter="url(#b05)"/>
<rect x="37.4" y="238.5" width="1.4" height="0.6" fill="#777"/>
<line x1="38.8" y1="239.70000000000002" x2="142.5" y2="239.70000000000002" stroke="#999" stroke-width="1" stroke-dasharray="0.5 1.3"/>
<rect x="53.4" y="241.20000000000002" width="3.2" height="2" fill="#777" filter="url(#b05)"/>
<rect x="79.4" y="241.20000000000002" width="3.2" height="2" fill="#777" filter="url(#b05)"/>
<rect x="104.9" y="241.20000000000002" width="3.2" height="2" fill="#777" filter="url(#b05)"/>
<rect x="130.4" y="241.20000000000002" width="3.2" height="2" fill="#777" filter="url(#b05)"/>
<text transform="translate(33.3,194.15) rotate(-90)" font-size="4.6" font-weight="bold" text-anchor="middle" fill="#444" stroke="#444" stroke-width="0.15">Count</text>
<text x="92.5" y="247.5" font-size="4.7" font-weight="bold" text-anchor="middle" fill="#444" stroke="#444" stroke-width="0.15">PE-A</text>
<rect x="144.5" y="140.5" width="118.0" height="111.5" fill="#fff" stroke="#8a8a8a" stroke-width="1.1"/>
<rect x="155" y="147.5" width="105.5" height="91.30000000000001" fill="#fff" stroke="#666" stroke-width="0.8"/>
<path d="M155.0 238.8L155.0 238.8L156.2 238.3L157.3 238.0L158.5 237.2L159.6 237.2L160.8 236.5L161.9 235.6L163.1 235.7L164.2 234.4L165.4 233.6L166.5 231.2L167.7 228.2L168.8 225.7L170.0 224.3L171.1 217.3L172.3 218.1L173.4 204.9L174.6 198.5L175.7 204.6L176.9 194.4L178.0 178.9L179.2 157.3L180.3 173.7L181.5 162.5L182.6 168.2L183.8 150.3L184.9 148.5L186.1 148.5L187.2 164.7L188.4 150.3L189.5 164.8L190.7 157.0L191.8 171.0L193.0 163.1L194.1 164.9L195.3 170.7L196.4 172.5L197.6 174.5L198.7 181.2L199.9 191.5L201.0 175.3L202.2 187.6L203.3 197.9L204.5 190.7L205.6 192.6L206.8 198.0L207.9 188.2L209.1 206.2L210.2 198.9L211.4 208.0L212.5 216.9L213.7 219.8L214.8 224.0L216.0 230.5L217.1 234.0L218.3 238.8L218.5 238.8Z" fill="#c8c8c8" stroke="#b4b4b4" stroke-width="0.4"/>
<path d="M155.0 238.8L155.0 233.0L156.2 232.8L157.3 229.0L158.5 227.7L159.6 223.5L160.8 223.1L161.9 216.4L163.1 218.4L164.2 207.9L165.4 209.8L166.5 209.2L167.7 205.1L168.8 199.2L170.0 204.9L171.1 197.8L172.3 201.8L173.4 199.4L174.6 196.3L175.7 193.8L176.9 191.5L178.0 180.9L179.2 185.9L180.3 175.2L181.5 171.5L182.6 168.7L183.8 168.8L184.9 177.9L186.1 177.4L187.2 173.3L188.4 179.9L189.5 188.2L190.7 183.2L191.8 185.4L193.0 193.8L194.1 197.3L195.3 199.3L196.4 195.9L197.6 198.8L198.7 205.0L199.9 211.5L201.0 218.3L202.2 220.4L203.3 217.9L204.5 221.0L205.6 223.7L206.8 227.2L207.9 229.4L209.1 231.4L210.2 233.6L211.4 235.2L212.5 237.8L213.7 238.8L214.0 238.8Z" fill="#7e7e7e" stroke="#6a6a6a" stroke-width="0.4"/>
<line x1="171.8" y1="148.0" x2="171.8" y2="238.8" stroke="#111" stroke-width="2" stroke-dasharray="6.62 2.51"/>
<text x="208.7" y="135.7" font-size="8.7" font-weight="bold" text-anchor="middle" fill="#000"  stroke="#000" stroke-width="0.28">RAB4 S22N</text>
<rect x="150.4" y="150.6" width="2.4" height="1.8" fill="#6a6a6a" filter="url(#b05)"/>
<rect x="153.6" y="151.2" width="1.4" height="0.6" fill="#777"/>
<rect x="150.4" y="165.15" width="2.4" height="1.8" fill="#6a6a6a" filter="url(#b05)"/>
<rect x="153.6" y="165.75" width="1.4" height="0.6" fill="#777"/>
<rect x="150.4" y="179.7" width="2.4" height="1.8" fill="#6a6a6a" filter="url(#b05)"/>
<rect x="153.6" y="180.29999999999998" width="1.4" height="0.6" fill="#777"/>
<rect x="150.4" y="194.25" width="2.4" height="1.8" fill="#6a6a6a" filter="url(#b05)"/>
<rect x="153.6" y="194.85" width="1.4" height="0.6" fill="#777"/>
<rect x="150.4" y="208.8" width="2.4" height="1.8" fill="#6a6a6a" filter="url(#b05)"/>
<rect x="153.6" y="209.4" width="1.4" height="0.6" fill="#777"/>
<rect x="150.4" y="223.35" width="2.4" height="1.8" fill="#6a6a6a" filter="url(#b05)"/>
<rect x="153.6" y="223.95" width="1.4" height="0.6" fill="#777"/>
<rect x="150.4" y="237.9" width="2.4" height="1.8" fill="#6a6a6a" filter="url(#b05)"/>
<rect x="153.6" y="238.5" width="1.4" height="0.6" fill="#777"/>
<line x1="155" y1="239.70000000000002" x2="260.5" y2="239.70000000000002" stroke="#999" stroke-width="1" stroke-dasharray="0.5 1.3"/>
<rect x="169.4" y="241.20000000000002" width="3.2" height="2" fill="#777" filter="url(#b05)"/>
<rect x="195.4" y="241.20000000000002" width="3.2" height="2" fill="#777" filter="url(#b05)"/>
<rect x="222.4" y="241.20000000000002" width="3.2" height="2" fill="#777" filter="url(#b05)"/>
<rect x="249.4" y="241.20000000000002" width="3.2" height="2" fill="#777" filter="url(#b05)"/>
<text transform="translate(149.0,194.15) rotate(-90)" font-size="4.6" font-weight="bold" text-anchor="middle" fill="#444" stroke="#444" stroke-width="0.15">Count</text>
<text x="213.7" y="248" font-size="4.7" font-weight="bold" text-anchor="middle" fill="#444" stroke="#444" stroke-width="0.15">PE-A</text>
<rect x="263.8" y="140.5" width="115.19999999999999" height="111.5" fill="#fff" stroke="#8a8a8a" stroke-width="1.1"/>
<rect x="273" y="147.5" width="104.5" height="91.30000000000001" fill="#fff" stroke="#666" stroke-width="0.8"/>
<path d="M273.0 238.8L273.0 238.8L274.1 238.6L275.3 238.4L276.4 238.3L277.6 238.1L278.7 237.8L279.9 237.7L281.0 237.5L282.2 237.3L283.3 237.2L284.5 237.1L285.6 235.9L286.8 234.1L287.9 233.0L289.1 231.8L290.2 231.3L291.4 229.7L292.5 228.7L293.7 221.7L294.8 220.9L296.0 217.4L297.1 206.4L298.3 209.7L299.4 196.7L300.6 197.4L301.7 190.5L302.9 188.4L304.0 193.4L305.2 178.5L306.3 185.4L307.5 178.6L308.6 182.6L309.8 181.7L310.9 170.7L312.1 179.0L313.2 165.8L314.4 149.0L315.5 148.5L316.7 157.3L317.8 165.5L319.0 156.0L320.1 168.6L321.3 166.1L322.4 155.9L323.6 158.4L324.7 178.3L325.9 167.0L327.0 174.1L328.2 180.3L329.3 191.6L330.5 192.6L331.6 205.5L332.8 205.5L333.9 215.1L335.1 221.8L336.2 229.2L337.4 232.4L338.5 235.3L339.7 237.1L340.8 238.6L341.0 238.8Z" fill="#c8c8c8" stroke="#b4b4b4" stroke-width="0.4"/>
<path d="M273.0 238.8L273.0 229.6L274.1 230.7L275.3 226.9L276.4 228.4L277.6 226.4L278.7 223.2L279.9 224.6L281.0 222.6L282.2 221.1L283.3 211.2L284.5 207.3L285.6 212.8L286.8 211.3L287.9 205.2L289.1 200.2L290.2 191.8L291.4 193.7L292.5 185.6L293.7 190.1L294.8 186.0L296.0 185.7L297.1 173.5L298.3 170.8L299.4 167.2L300.6 159.8L301.7 176.7L302.9 178.0L304.0 178.5L305.2 172.2L306.3 187.8L307.5 191.1L308.6 191.5L309.8 190.0L310.9 198.9L312.1 202.9L313.2 198.1L314.4 202.7L315.5 205.0L316.7 213.3L317.8 212.9L319.0 216.3L320.1 216.2L321.3 214.4L322.4 216.5L323.6 220.0L324.7 224.9L325.9 226.3L327.0 226.8L328.2 230.2L329.3 231.5L330.5 232.4L331.6 234.6L332.8 235.6L333.9 236.8L335.1 237.8L336.0 238.8Z" fill="#7e7e7e" stroke="#6a6a6a" stroke-width="0.4"/>
<line x1="288" y1="148.0" x2="288" y2="238.8" stroke="#111" stroke-width="2" stroke-dasharray="6.62 2.51"/>
<text x="326.2" y="137" font-size="8.7" font-weight="bold" text-anchor="middle" fill="#000"  stroke="#000" stroke-width="0.28">RAB11 Q70L</text>
<rect x="268.4" y="150.6" width="2.4" height="1.8" fill="#6a6a6a" filter="url(#b05)"/>
<rect x="271.6" y="151.2" width="1.4" height="0.6" fill="#777"/>
<rect x="268.4" y="165.15" width="2.4" height="1.8" fill="#6a6a6a" filter="url(#b05)"/>
<rect x="271.6" y="165.75" width="1.4" height="0.6" fill="#777"/>
<rect x="268.4" y="179.7" width="2.4" height="1.8" fill="#6a6a6a" filter="url(#b05)"/>
<rect x="271.6" y="180.29999999999998" width="1.4" height="0.6" fill="#777"/>
<rect x="268.4" y="194.25" width="2.4" height="1.8" fill="#6a6a6a" filter="url(#b05)"/>
<rect x="271.6" y="194.85" width="1.4" height="0.6" fill="#777"/>
<rect x="268.4" y="208.8" width="2.4" height="1.8" fill="#6a6a6a" filter="url(#b05)"/>
<rect x="271.6" y="209.4" width="1.4" height="0.6" fill="#777"/>
<rect x="268.4" y="223.35" width="2.4" height="1.8" fill="#6a6a6a" filter="url(#b05)"/>
<rect x="271.6" y="223.95" width="1.4" height="0.6" fill="#777"/>
<rect x="268.4" y="237.9" width="2.4" height="1.8" fill="#6a6a6a" filter="url(#b05)"/>
<rect x="271.6" y="238.5" width="1.4" height="0.6" fill="#777"/>
<line x1="273" y1="239.70000000000002" x2="377.5" y2="239.70000000000002" stroke="#999" stroke-width="1" stroke-dasharray="0.5 1.3"/>
<rect x="286.4" y="241.20000000000002" width="3.2" height="2" fill="#777" filter="url(#b05)"/>
<rect x="312.9" y="241.20000000000002" width="3.2" height="2" fill="#777" filter="url(#b05)"/>
<rect x="339.4" y="241.20000000000002" width="3.2" height="2" fill="#777" filter="url(#b05)"/>
<rect x="365.4" y="241.20000000000002" width="3.2" height="2" fill="#777" filter="url(#b05)"/>
<text transform="translate(268.2,194.15) rotate(-90)" font-size="4.6" font-weight="bold" text-anchor="middle" fill="#444" stroke="#444" stroke-width="0.15">Count</text>
<text x="326" y="248.3" font-size="4.7" font-weight="bold" text-anchor="middle" fill="#444" stroke="#444" stroke-width="0.15">PE-A</text>
<rect x="380.7" y="141.5" width="118.30000000000001" height="111.0" fill="#fff" stroke="#8a8a8a" stroke-width="1.1"/>
<rect x="388.4" y="148" width="107.90000000000003" height="92" fill="#fff" stroke="#666" stroke-width="0.8"/>
<path d="M388.4 240.0L388.4 240.0L389.5 239.8L390.7 239.7L391.8 239.3L393.0 239.1L394.1 238.8L395.3 238.9L396.4 238.8L397.6 238.7L398.7 238.4L399.9 238.4L401.0 237.0L402.2 236.5L403.3 234.9L404.5 234.1L405.6 234.1L406.8 233.8L407.9 232.5L409.1 232.2L410.2 228.0L411.4 228.5L412.5 227.3L413.7 220.9L414.8 222.2L416.0 216.4L417.1 211.6L418.3 210.5L419.4 211.7L420.6 209.6L421.7 204.8L422.9 189.8L424.0 186.4L425.2 184.1L426.3 185.8L427.5 173.0L428.6 168.0L429.8 174.4L430.9 165.3L432.1 160.5L433.2 152.8L434.4 151.5L435.5 152.0L436.7 149.0L437.8 165.5L439.0 173.0L440.1 167.4L441.3 171.7L442.4 164.1L443.6 170.5L444.7 178.0L445.9 189.6L447.0 182.0L448.2 192.6L449.3 201.0L450.5 209.7L451.6 218.5L452.8 229.4L453.9 232.3L455.1 235.3L456.2 238.0L457.0 240.0Z" fill="#c8c8c8" stroke="#b4b4b4" stroke-width="0.4"/>
<path d="M388.4 240.0L388.4 236.6L389.5 234.6L390.7 232.4L391.8 232.6L393.0 230.4L394.1 229.3L395.3 226.0L396.4 224.2L397.6 222.2L398.7 217.3L399.9 216.7L401.0 216.7L402.2 213.6L403.3 208.2L404.5 204.3L405.6 206.5L406.8 195.4L407.9 196.9L409.1 188.7L410.2 197.0L411.4 189.7L412.5 191.3L413.7 179.0L414.8 182.5L416.0 182.2L417.1 186.4L418.3 175.4L419.4 180.9L420.6 187.4L421.7 185.8L422.9 192.6L424.0 180.2L425.2 182.2L426.3 189.0L427.5 196.8L428.6 184.3L429.8 197.1L430.9 200.4L432.1 195.3L433.2 196.3L434.4 189.4L435.5 200.6L436.7 202.2L437.8 196.8L439.0 205.4L440.1 200.4L441.3 206.0L442.4 205.5L443.6 208.8L444.7 218.4L445.9 217.7L447.0 222.6L448.2 223.3L449.3 230.0L450.5 230.9L451.6 231.2L452.8 235.1L453.9 236.2L455.1 237.3L456.2 238.3L457.4 239.3L458.0 240.0Z" fill="#7e7e7e" stroke="#6a6a6a" stroke-width="0.4"/>
<line x1="404.8" y1="148.5" x2="404.8" y2="240" stroke="#111" stroke-width="2" stroke-dasharray="6.67 2.53"/>
<text x="438.3" y="137" font-size="8.7" font-weight="bold" text-anchor="middle" fill="#000"  stroke="#000" stroke-width="0.28">RAB11 S25N</text>
<rect x="383.79999999999995" y="151.1" width="2.4" height="1.8" fill="#6a6a6a" filter="url(#b05)"/>
<rect x="387.0" y="151.7" width="1.4" height="0.6" fill="#777"/>
<rect x="383.79999999999995" y="165.76666666666665" width="2.4" height="1.8" fill="#6a6a6a" filter="url(#b05)"/>
<rect x="387.0" y="166.36666666666665" width="1.4" height="0.6" fill="#777"/>
<rect x="383.79999999999995" y="180.43333333333334" width="2.4" height="1.8" fill="#6a6a6a" filter="url(#b05)"/>
<rect x="387.0" y="181.03333333333333" width="1.4" height="0.6" fill="#777"/>
<rect x="383.79999999999995" y="195.1" width="2.4" height="1.8" fill="#6a6a6a" filter="url(#b05)"/>
<rect x="387.0" y="195.7" width="1.4" height="0.6" fill="#777"/>
<rect x="383.79999999999995" y="209.76666666666665" width="2.4" height="1.8" fill="#6a6a6a" filter="url(#b05)"/>
<rect x="387.0" y="210.36666666666665" width="1.4" height="0.6" fill="#777"/>
<rect x="383.79999999999995" y="224.4333333333333" width="2.4" height="1.8" fill="#6a6a6a" filter="url(#b05)"/>
<rect x="387.0" y="225.0333333333333" width="1.4" height="0.6" fill="#777"/>
<rect x="383.79999999999995" y="239.1" width="2.4" height="1.8" fill="#6a6a6a" filter="url(#b05)"/>
<rect x="387.0" y="239.7" width="1.4" height="0.6" fill="#777"/>
<line x1="388.4" y1="240.9" x2="496.3" y2="240.9" stroke="#999" stroke-width="1" stroke-dasharray="0.5 1.3"/>
<rect x="403.4" y="242.4" width="3.2" height="2" fill="#777" filter="url(#b05)"/>
<rect x="429.9" y="242.4" width="3.2" height="2" fill="#777" filter="url(#b05)"/>
<rect x="456.4" y="242.4" width="3.2" height="2" fill="#777" filter="url(#b05)"/>
<rect x="483.4" y="242.4" width="3.2" height="2" fill="#777" filter="url(#b05)"/>
<text transform="translate(383.5,195.0) rotate(-90)" font-size="4.6" font-weight="bold" text-anchor="middle" fill="#444" stroke="#444" stroke-width="0.15">Count</text>
<text x="469" y="249.3" font-size="4.7" font-weight="bold" text-anchor="middle" fill="#444" stroke="#444" stroke-width="0.15">PE-A</text>
<text x="0.2" y="278.1" font-size="17.4" font-weight="bold" text-anchor="start" fill="#000"  stroke="#000" stroke-width="0.28">B</text>
<line x1="57" y1="295.4" x2="57" y2="420.40000000000003" stroke="#000" stroke-width="2.0"/>
<line x1="56.2" y1="419.6" x2="250" y2="419.6" stroke="#000" stroke-width="2.0"/>
<line x1="53.5" y1="419.60" x2="57" y2="419.60" stroke="#000" stroke-width="1.8"/>
<text x="51.9" y="422.80" font-size="9" font-weight="bold" text-anchor="end" fill="#000"  stroke="#000" stroke-width="0.28">0</text>
<line x1="53.5" y1="399.00" x2="57" y2="399.00" stroke="#000" stroke-width="1.8"/>
<text x="51.9" y="402.20" font-size="9" font-weight="bold" text-anchor="end" fill="#000"  stroke="#000" stroke-width="0.28">30</text>
<line x1="53.5" y1="378.40" x2="57" y2="378.40" stroke="#000" stroke-width="1.8"/>
<text x="51.9" y="381.60" font-size="9" font-weight="bold" text-anchor="end" fill="#000"  stroke="#000" stroke-width="0.28">60</text>
<line x1="53.5" y1="357.80" x2="57" y2="357.80" stroke="#000" stroke-width="1.8"/>
<text x="51.9" y="361.00" font-size="9" font-weight="bold" text-anchor="end" fill="#000"  stroke="#000" stroke-width="0.28">90</text>
<line x1="53.5" y1="337.20" x2="57" y2="337.20" stroke="#000" stroke-width="1.8"/>
<text x="51.9" y="340.40" font-size="9" font-weight="bold" text-anchor="end" fill="#000"  stroke="#000" stroke-width="0.28">120</text>
<line x1="53.5" y1="316.60" x2="57" y2="316.60" stroke="#000" stroke-width="1.8"/>
<text x="51.9" y="319.80" font-size="9" font-weight="bold" text-anchor="end" fill="#000"  stroke="#000" stroke-width="0.28">150</text>
<line x1="53.5" y1="296.00" x2="57" y2="296.00" stroke="#000" stroke-width="1.8"/>
<text x="51.9" y="299.20" font-size="9" font-weight="bold" text-anchor="end" fill="#000"  stroke="#000" stroke-width="0.28">180</text>
<rect x="60.70" y="350.93" width="19.6" height="68.67" fill="#000"/>
<line x1="70.50" y1="419.6" x2="70.50" y2="423.1" stroke="#000" stroke-width="1.8"/>
<text transform="translate(72.70,432.40) rotate(-45)" font-size="9.3" font-weight="bold" text-anchor="end" stroke="#000" stroke-width="0.28">pEGFP-N1</text>
<rect x="88.25" y="315.91" width="19.6" height="103.69" fill="#000"/>
<line x1="98.05" y1="315.91" x2="98.05" y2="306.30" stroke="#000" stroke-width="1.7"/>
<line x1="92.85" y1="306.30" x2="103.25" y2="306.30" stroke="#000" stroke-width="1.4"/>
<text x="95.10" y="304.15" font-size="11.5" font-weight="bold" text-anchor="middle" fill="#7c7c7c" stroke="#7c7c7c" stroke-width="0.9" stroke-linejoin="round">*</text>
<text x="101.00" y="304.15" font-size="11.5" font-weight="bold" text-anchor="middle" fill="#7c7c7c" stroke="#7c7c7c" stroke-width="0.9" stroke-linejoin="round">*</text>
<line x1="98.05" y1="419.6" x2="98.05" y2="423.1" stroke="#000" stroke-width="1.8"/>
<text transform="translate(100.25,432.40) rotate(-45)" font-size="9.3" font-weight="bold" text-anchor="end" stroke="#000" stroke-width="0.28">DYN K44A</text>
<rect x="115.80" y="339.95" width="19.6" height="79.65" fill="#000"/>
<line x1="125.60" y1="339.95" x2="125.60" y2="337.20" stroke="#000" stroke-width="1.7"/>
<line x1="120.40" y1="337.20" x2="130.80" y2="337.20" stroke="#000" stroke-width="1.4"/>
<line x1="125.60" y1="419.6" x2="125.60" y2="423.1" stroke="#000" stroke-width="1.8"/>
<text transform="translate(127.80,432.40) rotate(-45)" font-size="9.3" font-weight="bold" text-anchor="end" stroke="#000" stroke-width="0.28">RAB5 S34N</text>
<rect x="143.35" y="379.77" width="19.6" height="39.83" fill="#000"/>
<line x1="153.15" y1="379.77" x2="153.15" y2="375.65" stroke="#000" stroke-width="1.7"/>
<line x1="147.95" y1="375.65" x2="158.35" y2="375.65" stroke="#000" stroke-width="1.4"/>
<text x="150.20" y="373.50" font-size="11.5" font-weight="bold" text-anchor="middle" fill="#7c7c7c" stroke="#7c7c7c" stroke-width="0.9" stroke-linejoin="round">*</text>
<text x="156.10" y="373.50" font-size="11.5" font-weight="bold" text-anchor="middle" fill="#7c7c7c" stroke="#7c7c7c" stroke-width="0.9" stroke-linejoin="round">*</text>
<line x1="153.15" y1="419.6" x2="153.15" y2="423.1" stroke="#000" stroke-width="1.8"/>
<text transform="translate(155.35,432.40) rotate(-45)" font-size="9.3" font-weight="bold" text-anchor="end" stroke="#000" stroke-width="0.28">RAB4 Q67L</text>
<rect x="170.90" y="374.28" width="19.6" height="45.32" fill="#000"/>
<line x1="180.70" y1="374.28" x2="180.70" y2="370.85" stroke="#000" stroke-width="1.7"/>
<line x1="175.50" y1="370.85" x2="185.90" y2="370.85" stroke="#000" stroke-width="1.4"/>
<text x="177.75" y="368.70" font-size="11.5" font-weight="bold" text-anchor="middle" fill="#7c7c7c" stroke="#7c7c7c" stroke-width="0.9" stroke-linejoin="round">*</text>
<text x="183.65" y="368.70" font-size="11.5" font-weight="bold" text-anchor="middle" fill="#7c7c7c" stroke="#7c7c7c" stroke-width="0.9" stroke-linejoin="round">*</text>
<line x1="180.70" y1="419.6" x2="180.70" y2="423.1" stroke="#000" stroke-width="1.8"/>
<text transform="translate(182.90,432.40) rotate(-45)" font-size="9.3" font-weight="bold" text-anchor="end" stroke="#000" stroke-width="0.28">RAB4 S22N</text>
<rect x="198.45" y="393.51" width="19.6" height="26.09" fill="#000"/>
<text x="205.30" y="391.36" font-size="11.5" font-weight="bold" text-anchor="middle" fill="#7c7c7c" stroke="#7c7c7c" stroke-width="0.9" stroke-linejoin="round">*</text>
<text x="211.20" y="391.36" font-size="11.5" font-weight="bold" text-anchor="middle" fill="#7c7c7c" stroke="#7c7c7c" stroke-width="0.9" stroke-linejoin="round">*</text>
<line x1="208.25" y1="419.6" x2="208.25" y2="423.1" stroke="#000" stroke-width="1.8"/>
<text transform="translate(210.45,432.40) rotate(-45)" font-size="9.3" font-weight="bold" text-anchor="end" stroke="#000" stroke-width="0.28">RAB11 Q70L</text>
<rect x="226.00" y="385.27" width="19.6" height="34.33" fill="#000"/>
<line x1="235.80" y1="385.27" x2="235.80" y2="379.43" stroke="#000" stroke-width="1.7"/>
<line x1="230.60" y1="379.43" x2="241.00" y2="379.43" stroke="#000" stroke-width="1.4"/>
<text x="232.85" y="377.28" font-size="11.5" font-weight="bold" text-anchor="middle" fill="#7c7c7c" stroke="#7c7c7c" stroke-width="0.9" stroke-linejoin="round">*</text>
<text x="238.75" y="377.28" font-size="11.5" font-weight="bold" text-anchor="middle" fill="#7c7c7c" stroke="#7c7c7c" stroke-width="0.9" stroke-linejoin="round">*</text>
<line x1="235.80" y1="419.6" x2="235.80" y2="423.1" stroke="#000" stroke-width="1.8"/>
<text transform="translate(238.00,432.40) rotate(-45)" font-size="9.3" font-weight="bold" text-anchor="end" stroke="#000" stroke-width="0.28">RAB11 S25N</text>
<text transform="translate(16.8,356.5) rotate(-90)" font-size="10.15" font-weight="bold" text-anchor="middle" stroke="#000" stroke-width="0.28">D6 membrane expression</text>
<text transform="translate(30.9,357.4) rotate(-90)" font-size="10.15" font-weight="bold" text-anchor="middle" stroke="#000" stroke-width="0.28">(%MFI)</text>
<text x="267.7" y="278.2" font-size="17.4" font-weight="bold" text-anchor="start" fill="#000"  stroke="#000" stroke-width="0.28">C</text>
<line x1="323.4" y1="294.85" x2="323.4" y2="420.8" stroke="#000" stroke-width="2.0"/>
<line x1="322.59999999999997" y1="420.0" x2="515.65" y2="420.0" stroke="#000" stroke-width="2.0"/>
<line x1="319.9" y1="420.00" x2="323.4" y2="420.00" stroke="#000" stroke-width="1.8"/>
<text x="318.59999999999997" y="423.20" font-size="9" font-weight="bold" text-anchor="end" fill="#000"  stroke="#000" stroke-width="0.28">0</text>
<line x1="319.9" y1="395.07" x2="323.4" y2="395.07" stroke="#000" stroke-width="1.8"/>
<text x="318.59999999999997" y="398.27" font-size="9" font-weight="bold" text-anchor="end" fill="#000"  stroke="#000" stroke-width="0.28">20</text>
<line x1="319.9" y1="370.14" x2="323.4" y2="370.14" stroke="#000" stroke-width="1.8"/>
<text x="318.59999999999997" y="373.34" font-size="9" font-weight="bold" text-anchor="end" fill="#000"  stroke="#000" stroke-width="0.28">40</text>
<line x1="319.9" y1="345.21" x2="323.4" y2="345.21" stroke="#000" stroke-width="1.8"/>
<text x="318.59999999999997" y="348.41" font-size="9" font-weight="bold" text-anchor="end" fill="#000"  stroke="#000" stroke-width="0.28">60</text>
<line x1="319.9" y1="320.28" x2="323.4" y2="320.28" stroke="#000" stroke-width="1.8"/>
<text x="318.59999999999997" y="323.48" font-size="9" font-weight="bold" text-anchor="end" fill="#000"  stroke="#000" stroke-width="0.28">80</text>
<line x1="319.9" y1="295.35" x2="323.4" y2="295.35" stroke="#000" stroke-width="1.8"/>
<text x="318.59999999999997" y="298.55" font-size="9" font-weight="bold" text-anchor="end" fill="#000"  stroke="#000" stroke-width="0.28">100</text>
<line x1="323.40" y1="420.0" x2="323.40" y2="423.5" stroke="#000" stroke-width="1.8"/>
<text x="323.40" y="433.30" font-size="9" font-weight="bold" text-anchor="middle" fill="#000"  stroke="#000" stroke-width="0.28">0</text>
<line x1="355.32" y1="420.0" x2="355.32" y2="423.5" stroke="#000" stroke-width="1.8"/>
<text x="355.32" y="433.30" font-size="9" font-weight="bold" text-anchor="middle" fill="#000"  stroke="#000" stroke-width="0.28">5</text>
<line x1="387.25" y1="420.0" x2="387.25" y2="423.5" stroke="#000" stroke-width="1.8"/>
<text x="387.25" y="433.30" font-size="9" font-weight="bold" text-anchor="middle" fill="#000"  stroke="#000" stroke-width="0.28">10</text>
<line x1="419.17" y1="420.0" x2="419.17" y2="423.5" stroke="#000" stroke-width="1.8"/>
<text x="419.17" y="433.30" font-size="9" font-weight="bold" text-anchor="middle" fill="#000"  stroke="#000" stroke-width="0.28">15</text>
<line x1="451.10" y1="420.0" x2="451.10" y2="423.5" stroke="#000" stroke-width="1.8"/>
<text x="451.10" y="433.30" font-size="9" font-weight="bold" text-anchor="middle" fill="#000"  stroke="#000" stroke-width="0.28">20</text>
<line x1="483.02" y1="420.0" x2="483.02" y2="423.5" stroke="#000" stroke-width="1.8"/>
<text x="483.02" y="433.30" font-size="9" font-weight="bold" text-anchor="middle" fill="#000"  stroke="#000" stroke-width="0.28">25</text>
<line x1="514.95" y1="420.0" x2="514.95" y2="423.5" stroke="#000" stroke-width="1.8"/>
<text x="514.95" y="433.30" font-size="9" font-weight="bold" text-anchor="middle" fill="#000"  stroke="#000" stroke-width="0.28">30</text>
<text x="418.5" y="448.1" font-size="10.15" font-weight="bold" text-anchor="middle" fill="#000"  stroke="#000" stroke-width="0.28">Time (min)</text>
<text transform="translate(285.4,356.5) rotate(-90)" font-size="10.15" font-weight="bold" text-anchor="middle" stroke="#000" stroke-width="0.28">D6 membrane expression</text>
<text transform="translate(299,357.1) rotate(-90)" font-size="10.15" font-weight="bold" text-anchor="middle" stroke="#000" stroke-width="0.28">(%MFI)</text>
<polyline points="323.40,295.35 387.25,301.58 514.95,335.24" fill="none" stroke="#000" stroke-width="1.8" stroke-linejoin="miter"/>
<polyline points="323.40,295.35 387.25,360.17 514.95,381.36" fill="none" stroke="#000" stroke-width="1.8" stroke-linejoin="miter"/>
<polyline points="323.40,295.35 387.25,392.58 514.95,400.68" fill="none" stroke="#000" stroke-width="1.8" stroke-linejoin="miter"/>
<line x1="387.25" y1="295.58" x2="387.25" y2="307.58" stroke="#000" stroke-width="1.1"/>
<line x1="384.05" y1="295.58" x2="390.45" y2="295.58" stroke="#000" stroke-width="1.1"/>
<line x1="384.05" y1="307.58" x2="390.45" y2="307.58" stroke="#000" stroke-width="1.1"/>
<line x1="387.25" y1="356.97" x2="387.25" y2="363.37" stroke="#000" stroke-width="1.1"/>
<line x1="384.05" y1="356.97" x2="390.45" y2="356.97" stroke="#000" stroke-width="1.1"/>
<line x1="384.05" y1="363.37" x2="390.45" y2="363.37" stroke="#000" stroke-width="1.1"/>
<line x1="514.95" y1="332.74" x2="514.95" y2="337.74" stroke="#000" stroke-width="1.1"/>
<line x1="511.75" y1="332.74" x2="518.15" y2="332.74" stroke="#000" stroke-width="1.1"/>
<line x1="511.75" y1="337.74" x2="518.15" y2="337.74" stroke="#000" stroke-width="1.1"/>
<rect x="320.60" y="292.55" width="5.6" height="5.6" fill="#000" stroke="#000" stroke-width="1.2"/>
<rect x="384.65" y="298.98" width="5.2" height="5.2" fill="#000" stroke="#000" stroke-width="1.2"/>
<rect x="512.35" y="332.64" width="5.2" height="5.2" fill="#000" stroke="#000" stroke-width="1.2"/>
<path d="M387.25 356.97L390.45 360.17L387.25 363.37L384.05 360.17Z" fill="#000"/>
<path d="M514.95 377.96L518.35 381.36L514.95 384.76L511.55 381.36Z" fill="#000"/>
<rect x="384.55" y="389.88" width="5.4" height="5.4" fill="#fff" stroke="#000" stroke-width="1.2"/>
<rect x="512.25" y="397.98" width="5.4" height="5.4" fill="#fff" stroke="#000" stroke-width="1.2"/>
<text x="384.55" y="293.35" font-size="11.5" font-weight="bold" text-anchor="middle" fill="#7c7c7c" stroke="#7c7c7c" stroke-width="0.9" stroke-linejoin="round">*</text>
<text x="390.45" y="293.35" font-size="11.5" font-weight="bold" text-anchor="middle" fill="#7c7c7c" stroke="#7c7c7c" stroke-width="0.9" stroke-linejoin="round">*</text>
<text x="384.55" y="355.35" font-size="11.5" font-weight="bold" text-anchor="middle" fill="#7c7c7c" stroke="#7c7c7c" stroke-width="0.9" stroke-linejoin="round">*</text>
<text x="390.45" y="355.35" font-size="11.5" font-weight="bold" text-anchor="middle" fill="#7c7c7c" stroke="#7c7c7c" stroke-width="0.9" stroke-linejoin="round">*</text>
<text x="510.85" y="329.65" font-size="11.5" font-weight="bold" text-anchor="middle" fill="#7c7c7c" stroke="#7c7c7c" stroke-width="0.9" stroke-linejoin="round">*</text>
<text x="516.75" y="329.65" font-size="11.5" font-weight="bold" text-anchor="middle" fill="#7c7c7c" stroke="#7c7c7c" stroke-width="0.9" stroke-linejoin="round">*</text>
<text x="512.05" y="375.85" font-size="11.5" font-weight="bold" text-anchor="middle" fill="#7c7c7c" stroke="#7c7c7c" stroke-width="0.9" stroke-linejoin="round">*</text>
<text x="517.95" y="375.85" font-size="11.5" font-weight="bold" text-anchor="middle" fill="#7c7c7c" stroke="#7c7c7c" stroke-width="0.9" stroke-linejoin="round">*</text>
<text x="0.6" y="497.8" font-size="17.4" font-weight="bold" text-anchor="start" fill="#000"  stroke="#000" stroke-width="0.28">D</text>
<line x1="54.7" y1="516.7" x2="54.7" y2="642.3" stroke="#000" stroke-width="2.0"/>
<line x1="53.900000000000006" y1="641.5" x2="248.0" y2="641.5" stroke="#000" stroke-width="2.0"/>
<line x1="51.2" y1="641.50" x2="54.7" y2="641.50" stroke="#000" stroke-width="1.8"/>
<text x="49.900000000000006" y="644.70" font-size="9" font-weight="bold" text-anchor="end" fill="#000"  stroke="#000" stroke-width="0.28">0</text>
<line x1="51.2" y1="616.64" x2="54.7" y2="616.64" stroke="#000" stroke-width="1.8"/>
<text x="49.900000000000006" y="619.84" font-size="9" font-weight="bold" text-anchor="end" fill="#000"  stroke="#000" stroke-width="0.28">20</text>
<line x1="51.2" y1="591.78" x2="54.7" y2="591.78" stroke="#000" stroke-width="1.8"/>
<text x="49.900000000000006" y="594.98" font-size="9" font-weight="bold" text-anchor="end" fill="#000"  stroke="#000" stroke-width="0.28">40</text>
<line x1="51.2" y1="566.92" x2="54.7" y2="566.92" stroke="#000" stroke-width="1.8"/>
<text x="49.900000000000006" y="570.12" font-size="9" font-weight="bold" text-anchor="end" fill="#000"  stroke="#000" stroke-width="0.28">60</text>
<line x1="51.2" y1="542.06" x2="54.7" y2="542.06" stroke="#000" stroke-width="1.8"/>
<text x="49.900000000000006" y="545.26" font-size="9" font-weight="bold" text-anchor="end" fill="#000"  stroke="#000" stroke-width="0.28">80</text>
<line x1="51.2" y1="517.20" x2="54.7" y2="517.20" stroke="#000" stroke-width="1.8"/>
<text x="49.900000000000006" y="520.40" font-size="9" font-weight="bold" text-anchor="end" fill="#000"  stroke="#000" stroke-width="0.28">100</text>
<line x1="54.70" y1="641.5" x2="54.70" y2="645.0" stroke="#000" stroke-width="1.8"/>
<text x="54.70" y="653.80" font-size="9" font-weight="bold" text-anchor="middle" fill="#000"  stroke="#000" stroke-width="0.28">0</text>
<line x1="86.80" y1="641.5" x2="86.80" y2="645.0" stroke="#000" stroke-width="1.8"/>
<text x="86.80" y="653.80" font-size="9" font-weight="bold" text-anchor="middle" fill="#000"  stroke="#000" stroke-width="0.28">5</text>
<line x1="118.90" y1="641.5" x2="118.90" y2="645.0" stroke="#000" stroke-width="1.8"/>
<text x="118.90" y="653.80" font-size="9" font-weight="bold" text-anchor="middle" fill="#000"  stroke="#000" stroke-width="0.28">10</text>
<line x1="151.00" y1="641.5" x2="151.00" y2="645.0" stroke="#000" stroke-width="1.8"/>
<text x="151.00" y="653.80" font-size="9" font-weight="bold" text-anchor="middle" fill="#000"  stroke="#000" stroke-width="0.28">15</text>
<line x1="183.10" y1="641.5" x2="183.10" y2="645.0" stroke="#000" stroke-width="1.8"/>
<text x="183.10" y="653.80" font-size="9" font-weight="bold" text-anchor="middle" fill="#000"  stroke="#000" stroke-width="0.28">20</text>
<line x1="215.20" y1="641.5" x2="215.20" y2="645.0" stroke="#000" stroke-width="1.8"/>
<text x="215.20" y="653.80" font-size="9" font-weight="bold" text-anchor="middle" fill="#000"  stroke="#000" stroke-width="0.28">25</text>
<line x1="247.30" y1="641.5" x2="247.30" y2="645.0" stroke="#000" stroke-width="1.8"/>
<text x="247.30" y="653.80" font-size="9" font-weight="bold" text-anchor="middle" fill="#000"  stroke="#000" stroke-width="0.28">30</text>
<text x="151.3" y="668.6" font-size="10.1" font-weight="bold" text-anchor="middle" fill="#000"  stroke="#000" stroke-width="0.28">Time (min)</text>
<text transform="translate(16,578.5) rotate(-90)" font-size="10.15" font-weight="bold" text-anchor="middle" stroke="#000" stroke-width="0.28">D6 membrane expression</text>
<text transform="translate(29.6,578.8) rotate(-90)" font-size="10.15" font-weight="bold" text-anchor="middle" stroke="#000" stroke-width="0.28">(%MFI)</text>
<polyline points="54.70,517.20 118.90,600.48 247.30,609.18" fill="none" stroke="#000" stroke-width="1.8" stroke-linejoin="miter"/>
<polyline points="54.70,517.20 118.90,614.15 247.30,622.23" fill="none" stroke="#000" stroke-width="1.8" stroke-linejoin="miter"/>
<polyline points="54.70,517.20 118.90,615.40 247.30,623.48" fill="none" stroke="#000" stroke-width="1.8" stroke-linejoin="miter"/>
<polyline points="54.70,517.20 118.90,619.13 247.30,625.34" fill="none" stroke="#000" stroke-width="1.8" stroke-linejoin="miter"/>
<polyline points="54.70,517.20 118.90,626.58 247.30,632.18" fill="none" stroke="#000" stroke-width="1.8" stroke-linejoin="miter"/>
<line x1="118.90" y1="584.78" x2="118.90" y2="613.98" stroke="#000" stroke-width="1.1"/>
<line x1="115.20" y1="584.78" x2="122.60" y2="584.78" stroke="#000" stroke-width="1.1"/>
<line x1="115.20" y1="613.98" x2="122.60" y2="613.98" stroke="#000" stroke-width="1.1"/>
<line x1="247.30" y1="602.88" x2="247.30" y2="615.48" stroke="#000" stroke-width="1.1"/>
<line x1="243.60" y1="602.88" x2="251.00" y2="602.88" stroke="#000" stroke-width="1.1"/>
<line x1="243.60" y1="615.48" x2="251.00" y2="615.48" stroke="#000" stroke-width="1.1"/>
<line x1="118.90" y1="618.58" x2="118.90" y2="636.58" stroke="#000" stroke-width="1.1"/>
<line x1="115.20" y1="618.58" x2="122.60" y2="618.58" stroke="#000" stroke-width="1.1"/>
<line x1="115.20" y1="636.58" x2="122.60" y2="636.58" stroke="#000" stroke-width="1.1"/>
<line x1="247.30" y1="626.18" x2="247.30" y2="638.98" stroke="#000" stroke-width="1.1"/>
<line x1="243.60" y1="626.18" x2="251.00" y2="626.18" stroke="#000" stroke-width="1.1"/>
<line x1="243.60" y1="638.98" x2="251.00" y2="638.98" stroke="#000" stroke-width="1.1"/>
<line x1="247.30" y1="618.48" x2="247.30" y2="628.48" stroke="#000" stroke-width="1.1"/>
<line x1="244.10" y1="618.48" x2="250.50" y2="618.48" stroke="#000" stroke-width="1.1"/>
<line x1="244.10" y1="628.48" x2="250.50" y2="628.48" stroke="#000" stroke-width="1.1"/>
<line x1="118.90" y1="610.40" x2="118.90" y2="620.40" stroke="#000" stroke-width="1.1"/>
<line x1="115.70" y1="610.40" x2="122.10" y2="610.40" stroke="#000" stroke-width="1.1"/>
<line x1="115.70" y1="620.40" x2="122.10" y2="620.40" stroke="#000" stroke-width="1.1"/>
<rect x="51.90" y="514.40" width="5.6" height="5.6" fill="#000" stroke="#000" stroke-width="1.2"/>
<path d="M118.90 597.18L122.20 603.12L115.60 603.12Z" fill="#000"/>
<path d="M247.30 605.88L250.60 611.82L244.00 611.82Z" fill="#000"/>
<rect x="116.30" y="611.55" width="5.2" height="5.2" fill="#000" stroke="#000" stroke-width="1.2"/>
<rect x="244.70" y="619.63" width="5.2" height="5.2" fill="#000" stroke="#000" stroke-width="1.2"/>
<circle cx="118.90" cy="626.58" r="2.8" fill="#000"/>
<circle cx="247.30" cy="632.18" r="2.8" fill="#000"/>
<rect x="116.20" y="612.70" width="5.4" height="5.4" fill="#fff" stroke="#000" stroke-width="1.2"/>
<rect x="244.60" y="620.78" width="5.4" height="5.4" fill="#fff" stroke="#000" stroke-width="1.2"/>
<text x="267.8" y="497.8" font-size="17.4" font-weight="bold" text-anchor="start" fill="#000"  stroke="#000" stroke-width="0.28">E</text>
<text x="346" y="506" font-size="10.5" font-weight="bold" text-anchor="middle" fill="#000"  stroke="#000" stroke-width="0.28">DIC</text>
<text x="429.7" y="505" font-size="10.5" font-weight="bold" text-anchor="middle" fill="#000"  stroke="#000" stroke-width="0.28">D6+Tf</text>
<text x="277.5" y="561.5" font-size="10" font-weight="bold" text-anchor="middle" fill="#000"  stroke="#000" stroke-width="0.28">-</text>
<text x="279" y="623.5" font-size="10" font-weight="bold" text-anchor="middle" fill="#000"  stroke="#000" stroke-width="0.28">+</text>
<defs>
<clipPath id="cTL"><rect x="303.9" y="510" width="85.5" height="79.4"/></clipPath>
<clipPath id="cBL"><rect x="304" y="589.4" width="85.5" height="84"/></clipPath>
<clipPath id="cR"><rect x="388.8" y="510.4" width="83.4" height="163"/></clipPath>
<linearGradient id="gCell" gradientUnits="userSpaceOnUse" x1="337" y1="537" x2="352" y2="559">
<stop offset="0" stop-color="#b4b4b4"/><stop offset="0.2" stop-color="#929292"/><stop offset="0.5" stop-color="#7c7c7c"/><stop offset="0.8" stop-color="#505050"/><stop offset="1" stop-color="#262626"/></linearGradient>
<linearGradient id="gCell2" gradientUnits="userSpaceOnUse" x1="300" y1="520" x2="320" y2="530">
<stop offset="0" stop-color="#707070"/><stop offset="0.7" stop-color="#525252"/><stop offset="1" stop-color="#262626"/></linearGradient>
<filter id="e1" x="-10%" y="-10%" width="120%" height="120%"><feGaussianBlur stdDeviation="0.8"/></filter>
<filter id="e2" x="-10%" y="-10%" width="120%" height="120%"><feGaussianBlur stdDeviation="1.6"/></filter>
<filter id="e05" x="-10%" y="-10%" width="120%" height="120%"><feGaussianBlur stdDeviation="0.55"/></filter>
</defs>
<g clip-path="url(#cTL)">
<rect x="303" y="510" width="87" height="81" fill="#585858"/>
<g filter="url(#e1)"><path d="M300 506 L313 508 Q316.5 519 314.8 530 Q311.5 540 303 546 L300 546Z" fill="#646464"/>
<path d="M315 523 Q315.2 531 312 537.5 Q309 541.5 304 544.5" fill="none" stroke="#1c1c1c" stroke-width="2.2"/>
<path d="M313.5 512 Q316 518 315.2 524" fill="none" stroke="#454545" stroke-width="1.4"/>
<path d="M305 516 Q310 519 311.5 525 M305 523 Q308.5 526 308 533" fill="none" stroke="#8e8e8e" stroke-width="1.6" opacity="0.8"/>
<path d="M304 530 Q308 536 305 541" fill="none" stroke="#4a4a4a" stroke-width="1.4" opacity="0.8"/></g>
<g filter="url(#e1)">
<path d="M311.4 571.5 L323.8 553 L337 538.1 L348.7 529 L361.9 525.7 L377.6 525.2 L370.1 538.1 L360.2 550.5 L350.3 558.8 L337 564.6 L320.5 572Z" fill="url(#gCell)"/>
<path d="M312.4 570.5 L324.3 553.5 L337.4 538.8 L349 529.8 L362 526.6 L375 526" fill="none" stroke="#dadada" stroke-width="1.5" opacity="0.9"/>
<path d="M375.8 528.6 L369 539 L359.4 550 L349.6 557.8 L336.6 563.6 L320 570.6" fill="none" stroke="#2a2a2a" stroke-width="2" opacity="0.85"/>
<path d="M324 560 L338 548 L352 538 L364 530.5" fill="none" stroke="#b0b0b0" stroke-width="2.2" opacity="0.7"/>
</g>
<circle cx="335.1" cy="554.6" r="1" fill="#e0e0e0"/>
<circle cx="365.2" cy="526.7" r="0.9" fill="#c8c8c8"/>
<path d="M357 578.8H378.4" stroke="#bbb" stroke-width="0.6" stroke-dasharray="0.8 0.7" fill="none"/>
<text x="370.2" y="585.3" font-size="6.3" font-weight="bold" text-anchor="middle" fill="#fff" stroke="#fff" stroke-width="0.4">10um</text>
</g>
<g clip-path="url(#cBL)">
<rect x="303" y="589" width="87" height="85" fill="#484848"/>
<g filter="url(#e2)">
<path d="M307 664 Q316 634 338 612 Q352 597 368 590 L374 590 Q384 610 382 632 Q378 654 360 664 Q340 670 318 668Z" fill="#5c5c5c"/>
<ellipse cx="337.5" cy="632.5" rx="9.5" ry="25" transform="rotate(36 337.5 632.5)" fill="#747474"/>
<ellipse cx="365" cy="635.5" rx="12.5" ry="22" transform="rotate(24 365 635.5)" fill="#727272"/>
<path d="M349 612 Q352 628 345 650" fill="none" stroke="#3a3a3a" stroke-width="2"/>
<path d="M310 664 Q330 656 345 652 Q352 660 352 673" fill="none" stroke="#3c3c3c" stroke-width="1.8"/>
<path d="M380 618 Q384 640 370 660" fill="none" stroke="#3c3c3c" stroke-width="1.6"/>
<path d="M318 640 Q326 620 344 606 Q358 596 370 592" fill="none" stroke="#808080" stroke-width="1.2"/>
</g>
<g filter="url(#e1)" fill="#1c701c" opacity="0.8">
<circle cx="335.4" cy="617.4" r="3.1"/>
<circle cx="336.9" cy="616.5" r="2.9"/>
<circle cx="338.5" cy="616.1" r="2.9"/>
<circle cx="340.2" cy="615.5" r="2.4"/>
<circle cx="341.2" cy="614.2" r="2.3"/>
<circle cx="343.4" cy="614.0" r="2.7"/>
<circle cx="345.7" cy="613.7" r="3.1"/>
<circle cx="345.6" cy="611.8" r="3.0"/>
<circle cx="348.3" cy="611.8" r="2.3"/>
<circle cx="350.2" cy="610.1" r="2.4"/>
<circle cx="349.6" cy="609.3" r="3.2"/>
<circle cx="350.9" cy="607.7" r="3.0"/>
<circle cx="352.4" cy="607.4" r="2.4"/>
<circle cx="353.1" cy="605.7" r="3.7"/>
<circle cx="355.0" cy="606.2" r="3.6"/>
<circle cx="355.9" cy="606.2" r="3.5"/>
<circle cx="355.9" cy="608.4" r="3.0"/>
<circle cx="357.3" cy="610.1" r="3.3"/>
<circle cx="357.4" cy="611.4" r="3.0"/>
<circle cx="356.1" cy="613.5" r="3.6"/>
<circle cx="355.6" cy="615.4" r="3.0"/>
<circle cx="356.1" cy="616.3" r="3.0"/>
<circle cx="350.1" cy="611.5" r="3.2"/>
<circle cx="351.1" cy="611.4" r="3.1"/>
<circle cx="353.6" cy="612.0" r="3.0"/>
<circle cx="353.5" cy="613.5" r="2.8"/>
<circle cx="353.0" cy="615.8" r="2.7"/>
<circle cx="324.7" cy="632.2" r="2.5"/>
<circle cx="326.7" cy="633.4" r="3.0"/>
<circle cx="328.2" cy="635.2" r="2.7"/>
<circle cx="328.5" cy="635.3" r="2.9"/>
<circle cx="330.0" cy="638.0" r="3.0"/>
<circle cx="330.2" cy="640.0" r="2.5"/>
<circle cx="330.8" cy="640.0" r="3.0"/>
<circle cx="331.7" cy="641.3" r="2.6"/>
<circle cx="330.8" cy="642.7" r="3.0"/>
<circle cx="328.3" cy="643.4" r="3.3"/>
<circle cx="327.4" cy="644.2" r="2.7"/>
<circle cx="326.8" cy="645.6" r="2.8"/>
<circle cx="324.6" cy="645.9" r="3.2"/>
<circle cx="324.2" cy="647.1" r="2.7"/>
<circle cx="322.3" cy="648.3" r="2.9"/>
<circle cx="320.9" cy="647.9" r="3.3"/>
<circle cx="319.2" cy="649.1" r="3.2"/>
<circle cx="317.3" cy="647.6" r="2.9"/>
<circle cx="317.4" cy="645.8" r="2.7"/>
<circle cx="317.4" cy="644.8" r="2.8"/>
<circle cx="317.9" cy="643.8" r="2.6"/>
<circle cx="318.4" cy="642.0" r="3.2"/>
<circle cx="320.1" cy="639.9" r="3.1"/>
<circle cx="320.1" cy="640.1" r="3.3"/>
<circle cx="321.6" cy="638.7" r="3.2"/>
<circle cx="323.4" cy="637.1" r="2.9"/>
<circle cx="321.4" cy="644.5" r="3.1"/>
<circle cx="322.4" cy="644.1" r="3.5"/>
<circle cx="324.4" cy="642.0" r="3.0"/>
<circle cx="324.7" cy="642.0" r="3.5"/>
<circle cx="326.5" cy="641.6" r="3.0"/>
<circle cx="327.6" cy="639.6" r="3.2"/>
<circle cx="363.1" cy="621.9" r="2.8"/>
<circle cx="364.5" cy="620.5" r="2.9"/>
<circle cx="365.7" cy="620.3" r="2.5"/>
<circle cx="366.9" cy="620.1" r="2.6"/>
<circle cx="369.1" cy="619.8" r="2.6"/>
<circle cx="370.3" cy="620.8" r="2.5"/>
<circle cx="370.9" cy="620.8" r="2.9"/>
<circle cx="372.8" cy="621.9" r="2.6"/>
<circle cx="374.8" cy="623.7" r="3.2"/>
<circle cx="375.3" cy="624.1" r="2.7"/>
<circle cx="376.2" cy="625.7" r="2.6"/>
<circle cx="377.0" cy="627.9" r="3.1"/>
<circle cx="375.9" cy="628.5" r="3.0"/>
<circle cx="376.8" cy="631.1" r="2.9"/>
<circle cx="376.4" cy="631.9" r="2.9"/>
<circle cx="353.6" cy="627.6" r="3.3"/>
<circle cx="352.8" cy="630.6" r="2.9"/>
<circle cx="352.9" cy="631.9" r="3.0"/>
<circle cx="352.2" cy="632.9" r="3.2"/>
<circle cx="351.8" cy="634.3" r="3.3"/>
<circle cx="351.2" cy="636.9" r="3.0"/>
<circle cx="350.3" cy="638.6" r="3.2"/>
<circle cx="350.8" cy="640.5" r="3.1"/>
<circle cx="350.1" cy="641.4" r="2.8"/>
<circle cx="349.8" cy="643.2" r="2.7"/>
<circle cx="350.4" cy="644.9" r="3.0"/>
<circle cx="351.0" cy="647.0" r="3.4"/>
<circle cx="350.7" cy="647.4" r="2.5"/>
<circle cx="352.1" cy="649.3" r="3.0"/>
<circle cx="354.5" cy="650.1" r="3.2"/>
<circle cx="353.9" cy="651.1" r="2.6"/>
<circle cx="356.7" cy="650.6" r="3.4"/>
<circle cx="358.3" cy="651.6" r="3.1"/>
<circle cx="359.2" cy="651.5" r="2.7"/>
<circle cx="361.2" cy="652.5" r="3.2"/>
<circle cx="362.6" cy="652.3" r="2.9"/>
<circle cx="365.0" cy="652.1" r="3.2"/>
<circle cx="366.0" cy="650.6" r="3.1"/>
<circle cx="367.5" cy="649.8" r="2.9"/>
<circle cx="350.3" cy="641.9" r="3.6"/>
<circle cx="350.9" cy="643.6" r="3.2"/>
<circle cx="350.8" cy="645.7" r="3.5"/>
</g>
<g filter="url(#e05)" fill="#3cf53c">
<circle cx="335.4" cy="617.4" r="2.1"/>
<circle cx="336.4" cy="616.9" r="1.8"/>
<circle cx="336.9" cy="616.5" r="1.8"/>
<circle cx="338.6" cy="615.5" r="1.5"/>
<circle cx="338.5" cy="616.1" r="1.9"/>
<circle cx="339.4" cy="616.0" r="2.1"/>
<circle cx="340.2" cy="615.5" r="1.4"/>
<circle cx="340.2" cy="615.0" r="1.3"/>
<circle cx="341.2" cy="614.2" r="1.3"/>
<circle cx="342.4" cy="614.1" r="2.0"/>
<circle cx="343.4" cy="614.0" r="1.7"/>
<circle cx="344.4" cy="613.3" r="1.5"/>
<circle cx="345.7" cy="613.7" r="2.0"/>
<circle cx="345.3" cy="612.7" r="1.5"/>
<circle cx="345.6" cy="611.8" r="1.9"/>
<circle cx="346.7" cy="612.4" r="1.6"/>
<circle cx="348.3" cy="611.8" r="1.3"/>
<circle cx="348.2" cy="611.3" r="1.7"/>
<circle cx="350.2" cy="610.1" r="1.3"/>
<circle cx="349.7" cy="610.6" r="1.5"/>
<circle cx="349.6" cy="609.3" r="2.1"/>
<circle cx="351.2" cy="608.4" r="1.5"/>
<circle cx="350.9" cy="607.7" r="2.0"/>
<circle cx="351.7" cy="607.8" r="1.7"/>
<circle cx="352.4" cy="607.4" r="1.4"/>
<circle cx="353.7" cy="606.0" r="1.6"/>
<circle cx="353.1" cy="605.7" r="2.6"/>
<circle cx="354.9" cy="605.9" r="2.5"/>
<circle cx="355.0" cy="606.2" r="2.5"/>
<circle cx="356.5" cy="605.9" r="2.6"/>
<circle cx="355.9" cy="606.2" r="2.4"/>
<circle cx="356.2" cy="607.1" r="1.8"/>
<circle cx="355.9" cy="608.4" r="2.0"/>
<circle cx="356.7" cy="609.0" r="2.2"/>
<circle cx="357.3" cy="610.1" r="2.3"/>
<circle cx="357.3" cy="610.6" r="1.9"/>
<circle cx="357.4" cy="611.4" r="2.0"/>
<circle cx="356.2" cy="612.3" r="2.6"/>
<circle cx="356.1" cy="613.5" r="2.5"/>
<circle cx="356.5" cy="613.7" r="1.8"/>
<circle cx="355.6" cy="615.4" r="2.0"/>
<circle cx="356.4" cy="615.3" r="2.5"/>
<circle cx="356.1" cy="616.3" r="1.9"/>
<circle cx="356.1" cy="616.9" r="2.0"/>
<circle cx="350.1" cy="611.5" r="2.1"/>
<circle cx="350.6" cy="612.0" r="1.8"/>
<circle cx="351.1" cy="611.4" r="2.0"/>
<circle cx="352.0" cy="611.7" r="1.9"/>
<circle cx="353.6" cy="612.0" r="1.9"/>
<circle cx="354.0" cy="613.2" r="2.2"/>
<circle cx="353.5" cy="613.5" r="1.8"/>
<circle cx="352.3" cy="613.6" r="2.4"/>
<circle cx="353.0" cy="615.8" r="1.7"/>
<circle cx="352.7" cy="616.0" r="2.2"/>
<circle cx="324.7" cy="632.2" r="1.4"/>
<circle cx="325.7" cy="632.6" r="2.1"/>
<circle cx="326.7" cy="633.4" r="2.0"/>
<circle cx="327.6" cy="633.7" r="1.9"/>
<circle cx="328.2" cy="635.2" r="1.7"/>
<circle cx="328.7" cy="636.0" r="1.8"/>
<circle cx="328.5" cy="635.3" r="1.8"/>
<circle cx="329.0" cy="635.9" r="1.9"/>
<circle cx="330.0" cy="638.0" r="1.9"/>
<circle cx="329.6" cy="638.8" r="1.8"/>
<circle cx="330.2" cy="640.0" r="1.4"/>
<circle cx="330.7" cy="638.8" r="1.8"/>
<circle cx="330.8" cy="640.0" r="1.9"/>
<circle cx="331.4" cy="641.3" r="2.1"/>
<circle cx="331.7" cy="641.3" r="1.6"/>
<circle cx="331.2" cy="641.6" r="1.7"/>
<circle cx="330.8" cy="642.7" r="1.9"/>
<circle cx="330.0" cy="642.8" r="2.1"/>
<circle cx="328.3" cy="643.4" r="2.3"/>
<circle cx="328.6" cy="644.5" r="1.9"/>
<circle cx="327.4" cy="644.2" r="1.7"/>
<circle cx="326.5" cy="645.5" r="2.3"/>
<circle cx="326.8" cy="645.6" r="1.8"/>
<circle cx="325.3" cy="645.5" r="1.8"/>
<circle cx="324.6" cy="645.9" r="2.1"/>
<circle cx="324.2" cy="646.3" r="2.3"/>
<circle cx="324.2" cy="647.1" r="1.6"/>
<circle cx="322.1" cy="648.2" r="1.6"/>
<circle cx="322.3" cy="648.3" r="1.8"/>
<circle cx="322.4" cy="647.5" r="1.7"/>
<circle cx="320.9" cy="647.9" r="2.3"/>
<circle cx="319.6" cy="648.3" r="1.6"/>
<circle cx="319.2" cy="649.1" r="2.1"/>
<circle cx="318.2" cy="649.9" r="2.4"/>
<circle cx="317.3" cy="647.6" r="1.8"/>
<circle cx="316.6" cy="646.4" r="1.8"/>
<circle cx="317.4" cy="645.8" r="1.7"/>
<circle cx="317.0" cy="645.6" r="1.9"/>
<circle cx="317.4" cy="644.8" r="1.8"/>
<circle cx="317.7" cy="644.1" r="1.5"/>
<circle cx="317.9" cy="643.8" r="1.6"/>
<circle cx="317.9" cy="642.9" r="2.2"/>
<circle cx="318.4" cy="642.0" r="2.2"/>
<circle cx="319.6" cy="641.7" r="1.8"/>
<circle cx="320.1" cy="639.9" r="2.0"/>
<circle cx="320.9" cy="639.7" r="2.0"/>
<circle cx="320.1" cy="640.1" r="2.2"/>
<circle cx="321.9" cy="638.9" r="2.1"/>
<circle cx="321.6" cy="638.7" r="2.1"/>
<circle cx="322.4" cy="636.8" r="1.8"/>
<circle cx="323.4" cy="637.1" r="1.8"/>
<circle cx="323.3" cy="636.4" r="1.5"/>
<circle cx="321.4" cy="644.5" r="2.0"/>
<circle cx="322.1" cy="643.9" r="1.9"/>
<circle cx="322.4" cy="644.1" r="2.4"/>
<circle cx="323.4" cy="643.8" r="2.1"/>
<circle cx="324.4" cy="642.0" r="1.9"/>
<circle cx="324.5" cy="641.7" r="2.3"/>
<circle cx="324.7" cy="642.0" r="2.4"/>
<circle cx="325.3" cy="641.2" r="2.1"/>
<circle cx="326.5" cy="641.6" r="1.9"/>
<circle cx="327.2" cy="641.2" r="2.2"/>
<circle cx="327.6" cy="639.6" r="2.2"/>
<circle cx="361.5" cy="622.4" r="1.4"/>
<circle cx="363.1" cy="621.9" r="1.7"/>
<circle cx="363.7" cy="621.6" r="1.8"/>
<circle cx="364.5" cy="620.5" r="1.8"/>
<circle cx="365.0" cy="621.3" r="2.2"/>
<circle cx="365.7" cy="620.3" r="1.5"/>
<circle cx="365.9" cy="620.7" r="2.2"/>
<circle cx="366.9" cy="620.1" r="1.5"/>
<circle cx="368.0" cy="621.0" r="1.5"/>
<circle cx="369.1" cy="619.8" r="1.5"/>
<circle cx="369.2" cy="620.8" r="1.6"/>
<circle cx="370.3" cy="620.8" r="1.4"/>
<circle cx="370.8" cy="620.1" r="1.8"/>
<circle cx="370.9" cy="620.8" r="1.8"/>
<circle cx="371.9" cy="621.6" r="1.7"/>
<circle cx="372.8" cy="621.9" r="1.5"/>
<circle cx="373.7" cy="623.1" r="1.8"/>
<circle cx="374.8" cy="623.7" r="2.1"/>
<circle cx="373.9" cy="623.8" r="2.1"/>
<circle cx="375.3" cy="624.1" r="1.6"/>
<circle cx="375.8" cy="624.9" r="2.2"/>
<circle cx="376.2" cy="625.7" r="1.6"/>
<circle cx="376.4" cy="626.8" r="1.4"/>
<circle cx="377.0" cy="627.9" r="2.1"/>
<circle cx="376.0" cy="627.9" r="2.0"/>
<circle cx="375.9" cy="628.5" r="2.0"/>
<circle cx="377.2" cy="630.5" r="1.5"/>
<circle cx="376.8" cy="631.1" r="1.8"/>
<circle cx="377.1" cy="631.2" r="1.4"/>
<circle cx="376.4" cy="631.9" r="1.8"/>
<circle cx="377.0" cy="633.6" r="1.5"/>
<circle cx="353.6" cy="627.6" r="2.2"/>
<circle cx="354.4" cy="629.6" r="1.5"/>
<circle cx="352.8" cy="630.6" r="1.9"/>
<circle cx="353.5" cy="630.8" r="1.9"/>
<circle cx="352.9" cy="631.9" r="2.0"/>
<circle cx="351.9" cy="633.3" r="2.2"/>
<circle cx="352.2" cy="632.9" r="2.1"/>
<circle cx="352.1" cy="633.6" r="1.6"/>
<circle cx="351.8" cy="634.3" r="2.3"/>
<circle cx="351.8" cy="636.3" r="2.2"/>
<circle cx="351.2" cy="636.9" r="2.0"/>
<circle cx="350.6" cy="638.7" r="2.2"/>
<circle cx="350.3" cy="638.6" r="2.1"/>
<circle cx="350.8" cy="639.4" r="1.8"/>
<circle cx="350.8" cy="640.5" r="2.1"/>
<circle cx="350.4" cy="641.4" r="1.8"/>
<circle cx="350.1" cy="641.4" r="1.8"/>
<circle cx="349.6" cy="642.3" r="1.8"/>
<circle cx="349.8" cy="643.2" r="1.7"/>
<circle cx="350.5" cy="644.1" r="1.8"/>
<circle cx="350.4" cy="644.9" r="1.9"/>
<circle cx="350.3" cy="646.4" r="2.0"/>
<circle cx="351.0" cy="647.0" r="2.3"/>
<circle cx="350.3" cy="647.7" r="2.1"/>
<circle cx="350.7" cy="647.4" r="1.5"/>
<circle cx="351.3" cy="647.9" r="1.5"/>
<circle cx="352.1" cy="649.3" r="1.9"/>
<circle cx="353.1" cy="650.0" r="2.0"/>
<circle cx="354.5" cy="650.1" r="2.2"/>
<circle cx="353.9" cy="650.6" r="2.1"/>
<circle cx="353.9" cy="651.1" r="1.6"/>
<circle cx="355.5" cy="650.4" r="1.9"/>
<circle cx="356.7" cy="650.6" r="2.3"/>
<circle cx="357.4" cy="651.6" r="2.0"/>
<circle cx="358.3" cy="651.6" r="2.0"/>
<circle cx="359.6" cy="651.9" r="2.1"/>
<circle cx="359.2" cy="651.5" r="1.7"/>
<circle cx="359.8" cy="651.6" r="2.1"/>
<circle cx="361.2" cy="652.5" r="2.1"/>
<circle cx="361.6" cy="652.5" r="2.3"/>
<circle cx="362.6" cy="652.3" r="1.8"/>
<circle cx="364.1" cy="652.3" r="1.7"/>
<circle cx="365.0" cy="652.1" r="2.1"/>
<circle cx="365.0" cy="652.2" r="2.2"/>
<circle cx="366.0" cy="650.6" r="2.0"/>
<circle cx="366.6" cy="650.3" r="1.5"/>
<circle cx="367.5" cy="649.8" r="1.8"/>
<circle cx="350.2" cy="640.9" r="2.2"/>
<circle cx="350.3" cy="641.9" r="2.5"/>
<circle cx="350.4" cy="643.7" r="2.6"/>
<circle cx="350.9" cy="643.6" r="2.1"/>
<circle cx="351.3" cy="645.4" r="2.4"/>
<circle cx="350.8" cy="645.7" r="2.5"/>
<circle cx="375.9" cy="628.7" r="0.6" fill="#34c834"/>
<circle cx="330.0" cy="638.4" r="0.9" fill="#34c834"/>
<circle cx="355.2" cy="611.9" r="0.5" fill="#34c834"/>
<circle cx="331.1" cy="643.8" r="0.5" fill="#34c834"/>
<circle cx="324.4" cy="632.8" r="0.5" fill="#34c834"/>
<circle cx="352.7" cy="650.2" r="0.9" fill="#34c834"/>
<circle cx="363.3" cy="621.1" r="0.6" fill="#34c834"/>
<circle cx="367.7" cy="655.0" r="0.8" fill="#34c834"/>
<circle cx="327.7" cy="638.3" r="0.8" fill="#34c834"/>
<circle cx="321.3" cy="633.5" r="0.7" fill="#34c834"/>
<circle cx="353.7" cy="616.1" r="0.9" fill="#34c834"/>
<circle cx="321.5" cy="651.1" r="0.8" fill="#34c834"/>
<circle cx="349.4" cy="613.0" r="0.5" fill="#34c834"/>
<circle cx="324.4" cy="649.4" r="0.7" fill="#34c834"/>
<circle cx="368.1" cy="617.2" r="0.8" fill="#34c834"/>
<circle cx="339.2" cy="617.7" r="0.8" fill="#34c834"/>
<circle cx="348.5" cy="606.3" r="0.8" fill="#34c834"/>
<circle cx="321.9" cy="650.0" r="0.6" fill="#34c834"/>
<circle cx="357.9" cy="655.2" r="0.6" fill="#34c834"/>
<circle cx="321.0" cy="640.3" r="0.9" fill="#34c834"/>
<circle cx="326.5" cy="644.2" r="0.6" fill="#34c834"/>
<circle cx="322.8" cy="652.3" r="0.8" fill="#34c834"/>
<circle cx="372.9" cy="624.8" r="0.6" fill="#34c834"/>
<circle cx="316.2" cy="641.1" r="0.8" fill="#34c834"/>
<circle cx="360.6" cy="650.8" r="0.7" fill="#34c834"/>
<circle cx="351.2" cy="629.8" r="0.8" fill="#34c834"/>
<circle cx="329.3" cy="641.0" r="0.5" fill="#34c834"/>
<circle cx="351.8" cy="613.7" r="0.8" fill="#34c834"/>
</g>
<g filter="url(#e05)"><circle cx="322.5" cy="643" r="1.1" fill="#2a6a2a"/><circle cx="326.5" cy="638.5" r="0.9" fill="#3a8a3a"/><circle cx="351" cy="611.5" r="0.8" fill="#2f8f2f"/><circle cx="357" cy="649.5" r="0.8" fill="#2f8f2f"/></g>
<g filter="url(#e05)"><circle cx="337" cy="646" r="1.1" fill="#d0a8d0"/><circle cx="335.4" cy="651.5" r="0.9" fill="#b080b0"/><circle cx="340" cy="643" r="0.8" fill="#ddd"/><circle cx="333" cy="649" r="0.8" fill="#4c4"/><circle cx="326.3" cy="614.6" r="1.5" fill="#7a7a7a"/><circle cx="328.3" cy="616.6" r="1" fill="#2e2e2e"/><circle cx="310" cy="662" r="0.9" fill="#777"/></g>
</g>
<g clip-path="url(#cR)">
<rect x="388.5" y="510" width="84.5" height="164" fill="#000"/>
<g filter="url(#e1)"><ellipse cx="422.3" cy="555.6" rx="4.6" ry="4.8" fill="#7a0606"/></g>
<g filter="url(#e05)">
<circle cx="420.3" cy="554" r="1.7" fill="#ea1414"/>
<circle cx="422.6" cy="553.2" r="1.5" fill="#ea1414"/>
<circle cx="424.4" cy="555.2" r="1.8" fill="#ea1414"/>
<circle cx="422" cy="556.6" r="2.1" fill="#ea1414"/>
<circle cx="420.2" cy="557.6" r="1.5" fill="#ea1414"/>
<circle cx="423.6" cy="558.4" r="1.5" fill="#ea1414"/>
<circle cx="425.6" cy="557.6" r="1.1" fill="#ea1414"/>
<circle cx="419.2" cy="555.8" r="1.0" fill="#ea1414"/>
<ellipse cx="420.6" cy="552.4" rx="1.8" ry="1.4" fill="#fff"/><circle cx="423.2" cy="553.6" r="0.9" fill="#ffc8c8"/>
<circle cx="394" cy="520" r="0.9" fill="#8a1414"/>
<circle cx="390.7" cy="540.6" r="0.8" fill="#701010"/>
<circle cx="394.8" cy="535.6" r="0.7" fill="#701010"/>
<circle cx="392.5" cy="545" r="0.6" fill="#5a0c0c"/>
<circle cx="408" cy="559.6" r="0.9" fill="#d8d0d0"/>
<circle cx="410" cy="558" r="0.7" fill="#c02020"/>
<circle cx="433.7" cy="554.7" r="0.9" fill="#e8d0d0"/>
<circle cx="431.5" cy="556.5" r="0.7" fill="#c01515"/>
<circle cx="426.2" cy="539.8" r="0.8" fill="#e0d8d8"/>
<circle cx="423.7" cy="545.6" r="0.9" fill="#f0e0e0"/>
<circle cx="424.8" cy="548.6" r="0.8" fill="#e03030"/>
<circle cx="416.3" cy="554.7" r="0.9" fill="#f0e8e8"/>
<circle cx="413.5" cy="558.5" r="0.7" fill="#c01818"/>
<circle cx="428.8" cy="551" r="0.7" fill="#c01818"/>
<circle cx="421.5" cy="548" r="0.8" fill="#d02020"/>
<circle cx="429" cy="558.5" r="0.7" fill="#b01515"/>
<circle cx="438" cy="552" r="0.6" fill="#801010"/>
</g>
<path d="M441.1 578.2H466.7" stroke="#bbb" stroke-width="0.6" stroke-dasharray="0.8 0.7" fill="none"/>
<text x="454" y="585.2" font-size="6.2" font-weight="bold" text-anchor="middle" fill="#fff" stroke="#fff" stroke-width="0.4">10um</text>
<g filter="url(#e05)" fill="none" stroke-linecap="round">
<path d="M434.5 599 L430 603.5" stroke="#e05050" stroke-width="1.2"/>
<path d="M426.5 607 L419.6 613.2" stroke="#ffe8e8" stroke-width="1.7"/>
<path d="M417.5 614.8 L414.2 617.6" stroke="#f0b8c0" stroke-width="1.6"/>
<path d="M412 619.8 L405 626.8" stroke="#c07078" stroke-width="1" stroke-dasharray="1.6 1.4"/>
<path d="M444.4 605.7 Q443.4 609 442.7 611.5 Q441.5 615.5 440.3 618.9 Q437.5 623.5 434.5 627.2" stroke="#58e0d8" stroke-width="1.6"/>
<path d="M434.5 627.2 L428.7 633.8 L422.9 638.8 L419.6 642.9" stroke="#b8f4f0" stroke-width="1.7"/>
<path d="M430.2 632 L424.6 637.4" stroke="#fff" stroke-width="1.9"/>
<path d="M441.6 611.2 L445.8 611.8" stroke="#58e0d8" stroke-width="1.2"/>
<path d="M463.5 609.3 L467 609.6 M465.6 609.5 L466.4 613" stroke="#30d8d0" stroke-width="1.3"/>
<path d="M454.4 613 L456.2 613.6" stroke="#30d8d0" stroke-width="1.2"/>
<path d="M466.9 625.5 L466.4 627.5" stroke="#30d8d0" stroke-width="1.3"/>
<path d="M464.3 636 L464 638.2" stroke="#30d8d0" stroke-width="1.4"/>
<path d="M462.6 641.5 L461 644.3" stroke="#d0fffa" stroke-width="1.7"/>
<path d="M457.3 647.6 L454.6 649.6" stroke="#30d8d0" stroke-width="1.4"/>
<path d="M452.4 650 L449.6 651" stroke="#e8d8d8" stroke-width="1.1"/>
<path d="M451.2 636.8 L452.6 637.4" stroke="#30e0a0" stroke-width="1.5"/>
<path d="M431.5 652.6 L433 653" stroke="#30d8d0" stroke-width="1.2"/>
<path d="M440 653.6 L441 653.9" stroke="#40c880" stroke-width="1.2"/>
<path d="M426 645.5 L428.5 650" stroke="#2aa8a0" stroke-width="0.9" stroke-dasharray="1 1.3"/>
</g>
<g filter="url(#e05)">
<circle cx="446.1" cy="619.8" r="1.6" fill="#f03038"/>
<circle cx="460.9" cy="618.9" r="1.6" fill="#f03038"/>
<circle cx="434.5" cy="638.8" r="1.3" fill="#f03038"/>
<circle cx="439.4" cy="649.5" r="1.3" fill="#f03038"/>
<circle cx="409.7" cy="627.2" r="1.7" fill="#f02830"/>
<circle cx="407.2" cy="625.4" r="0.9" fill="#fff"/>
<circle cx="405.5" cy="633.8" r="1.2" fill="#d02028"/>
<circle cx="402.5" cy="634.5" r="0.8" fill="#a01820"/>
<circle cx="398.5" cy="641" r="1.1" fill="#801018"/>
<circle cx="399" cy="646" r="0.9" fill="#600c12"/>
<circle cx="463.4" cy="629.7" r="1.2" fill="#e02830"/>
<circle cx="437" cy="615.6" r="1.0" fill="#901820"/>
<circle cx="428.7" cy="639.6" r="1.0" fill="#d02830"/>
<circle cx="398.1" cy="655.3" r="0.8" fill="#999"/>
<circle cx="436.8" cy="599.5" r="0.9" fill="#e04048"/>
<circle cx="438.5" cy="597" r="0.8" fill="#c03038"/>
<circle cx="443" cy="624" r="0.8" fill="#901018"/>
<circle cx="455" cy="631" r="0.8" fill="#801018"/>
<circle cx="449" cy="644" r="0.8" fill="#901018"/>
<circle cx="420" cy="629" r="0.7" fill="#801018"/>
<circle cx="446" cy="610" r="0.7" fill="#a02028"/>
<circle cx="414" cy="641" r="0.7" fill="#700c14"/>
<circle cx="456.5" cy="624" r="0.7" fill="#a01820"/>
<circle cx="444.5" cy="636" r="0.7" fill="#801018"/>
<circle cx="425" cy="622" r="0.7" fill="#701018"/>
</g>
<path d="M440.6 664.4H469" stroke="#aaa" stroke-width="0.55" stroke-dasharray="0.8 0.7" fill="none"/>
<text x="457.4" y="670.2" font-size="5.2" font-weight="bold" text-anchor="middle" fill="#fff" stroke="#fff" stroke-width="0.35">10um</text>
</g>
</svg>
</body></html>
